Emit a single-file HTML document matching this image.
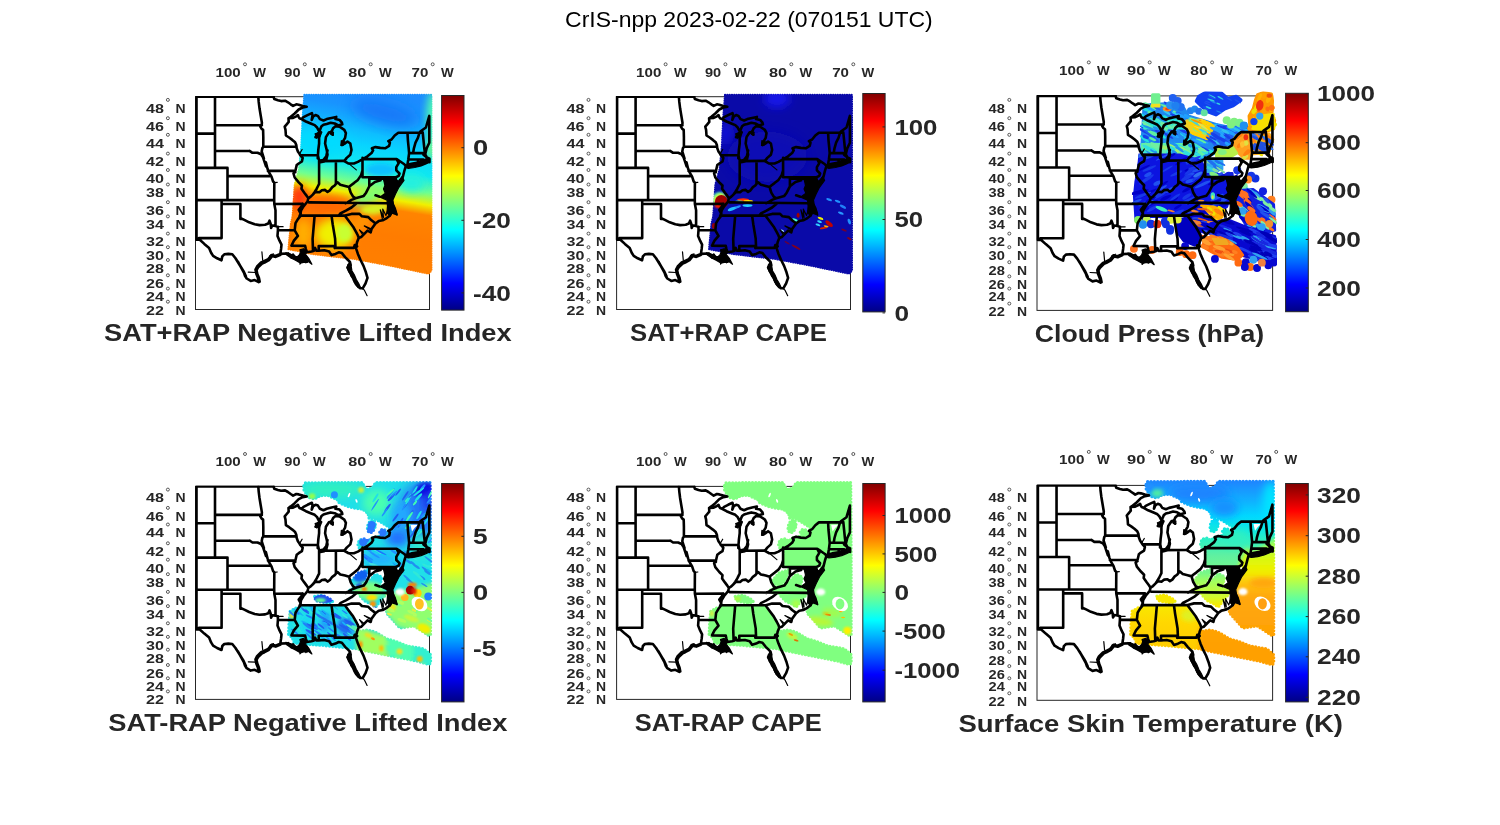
<!DOCTYPE html><html><head><meta charset="utf-8"><title>CrIS-npp</title><style>html,body{margin:0;padding:0;background:#fff}svg{display:block;opacity:0.999}text{font-family:'Liberation Sans',sans-serif}</style></head><body>
<svg width="1500" height="825" viewBox="0 0 1500 825">
<defs>
<linearGradient id="jet" x1="0" y1="0" x2="0" y2="1"><stop offset="0" stop-color="#800000"/><stop offset="0.125" stop-color="#ff0000"/><stop offset="0.375" stop-color="#ffff00"/><stop offset="0.625" stop-color="#00ffff"/><stop offset="0.875" stop-color="#0000ff"/><stop offset="1" stop-color="#000084"/></linearGradient>
<filter id="b1" x="-30%" y="-30%" width="160%" height="160%"><feGaussianBlur stdDeviation="1"/></filter>
<filter id="b2" x="-30%" y="-30%" width="160%" height="160%"><feGaussianBlur stdDeviation="2.2"/></filter>
<filter id="b4" x="-40%" y="-40%" width="180%" height="180%"><feGaussianBlur stdDeviation="4"/></filter>
<filter id="b7" x="-50%" y="-50%" width="200%" height="200%"><feGaussianBlur stdDeviation="7"/></filter>
<clipPath id="mapclip"><rect x="-3" y="-0.9" width="246" height="232"/></clipPath>
<g id="usmap" clip-path="url(#mapclip)"><path d="M208.6 68.7 L212.6 68.3 L219.0 67.1 L226.2 65.5 L231.0 63.5 L233.0 63.1 L233.0 65.5 L229.4 67.1 L224.6 69.1 L218.2 70.7 L211.8 71.5 L209.0 70.7Z M187.0 82.9 L197.3 81.3 L201.6 84.6 L205.8 79.5 L207.5 83.7 L202.4 90.5 L199.0 97.3 L196.4 103.3 L197.3 109.2 L200.7 118.1 L196.0 114.7 L193.9 119.4 L190.5 116.0 L191.0 109.5 L190.5 103.3 L183.7 100.3 L188.8 96.5 L187.0 92.2 L188.4 88.7 L187.8 85.9Z M151.4 167.5 L154.6 169.1 L155.4 173.9 L157.8 177.9 L159.8 182.7 L162.2 186.7 L164.2 191.1 L161.8 190.7 L159.0 187.5 L157.0 183.5 L154.6 179.5 L152.6 175.5 L150.6 171.1Z M103.4 153.1 L107.0 151.9 L109.8 153.5 L110.2 155.5 L109.0 157.5 L112.2 161.5 L115.4 167.5 L111.4 164.5 L109.4 166.1 L107.4 163.5 L103.4 167.3 L104.0 163.1 L100.2 160.7 L103.0 157.9 L104.0 155.1Z M89.4 155.9 L95.8 157.9 L101.4 160.7 L107.0 161.5 L111.0 160.7 L111.0 165.5 L107.0 165.5 L103.8 166.3 L99.0 163.5 L95.0 161.5 L90.2 158.3Z M144.8 43.9 L148.2 45.1 L147.0 48.3 L144.4 48.7Z M134.2 34.3 L137.0 35.5 L136.6 38.7 L134.2 37.5Z M118.6 37.1 L123.0 35.5 L123.8 39.1 L120.2 41.5Z" fill="#000" stroke="#000" stroke-width="1.2" stroke-linejoin="round"/><path d="M0.0 0.0 L0.0 143.0 M0.0 0.0 L77.2 0.0 M18.5 0.0 L18.5 71.1 M0.0 36.8 L18.5 36.8 M18.5 28.4 L65.4 28.4 M0.0 71.1 L31.0 71.1 L31.0 103.3 M31.0 79.3 L73.3 79.3 M0.0 103.3 L77.6 103.3 M25.1 103.3 L25.1 141.3 M25.1 107.2 L43.9 107.2 L43.9 122.2 M0.0 143.0 L2.9 143.0 L2.5 141.3 L25.1 141.3 M18.5 54.2 L53.3 54.2 L53.0 54.0 L56.0 56.0 L61.0 56.0 L64.5 57.5 L66.5 60.5 L67.5 63.5 L69.5 69.5 L69.4 65.5 L71.0 71.9 L72.2 75.1 L75.0 79.9 L76.6 84.7 L77.8 85.9 L77.7 103.3 L77.8 107.2 L79.0 113.5 L79.0 129.1 M61.8 -0.1 L62.2 5.1 L63.0 11.5 L64.2 18.7 L65.4 25.9 L65.2 28.3 L63.8 29.9 L65.0 31.9 L66.6 33.1 L66.8 40.3 L66.8 49.9 L65.8 51.5 L65.2 54.7 L66.2 57.9 L67.4 61.5 M66.8 49.9 L99.8 49.9 M71.4 74.1 L97.4 74.1 L98.8 75.3 M77.0 -0.1 L77.8 2.3 L81.4 3.5 L84.6 4.3 L88.6 3.9 L91.4 5.5 L94.2 7.5 L96.6 9.1 L99.8 7.5 L102.2 7.9 L106.2 9.1 L110.2 9.9 L106.2 10.7 L102.2 12.7 L98.2 16.7 L94.2 19.9 L92.0 21.5 M92.0 21.5 L92.2 25.1 L90.2 27.5 L88.2 29.9 L89.0 33.1 L89.4 38.7 L92.6 40.7 L95.8 43.1 L98.6 45.5 L99.8 48.3 L100.2 51.5 L101.4 54.7 L103.0 57.1 L103.8 58.5 L106.2 61.1 L105.4 64.7 L102.2 66.7 L100.2 68.3 L99.0 73.5 L97.0 76.7 L98.2 80.7 L102.2 85.5 L105.4 88.7 L105.0 91.9 L107.8 95.9 L110.2 99.1 L111.8 101.5 L111.0 104.7 L107.0 109.5 L104.6 113.5 L103.8 117.5 L103.0 119.5 L104.6 118.3 L101.4 122.3 L99.0 126.3 L98.2 133.5 L101.4 139.1 L97.4 143.9 L95.0 148.7 L108.6 149.1 L109.4 152.3 L110.2 155.1 M77.8 107.2 L106.2 107.1 M106.2 107.1 L105.0 109.5 L102.2 113.1 L104.2 116.7 M103.8 58.5 L121.4 58.5 M92.0 21.5 L96.6 21.1 L99.8 19.5 L101.4 18.3 L102.2 20.3 L103.0 21.5 L105.0 22.3 L109.4 24.7 L114.2 26.7 L118.2 28.3 L120.6 30.7 L121.8 33.1 L123.0 34.7 M123.0 34.7 L121.4 37.1 L119.0 40.3 L122.2 38.3 L124.6 35.5 L123.0 39.1 L122.6 41.5 L122.6 46.7 L121.8 53.1 L121.2 61.5 L121.4 58.5 L122.2 62.3 L123.0 63.9 M105.0 22.3 L107.0 20.3 L111.0 18.3 L115.4 16.3 L116.0 18.7 L115.2 23.1 L116.8 19.5 L119.0 18.3 L121.4 19.1 L123.4 22.3 L127.0 23.7 L130.2 22.3 L135.0 21.1 L139.8 20.1 L139.0 22.3 L143.0 23.1 L145.4 25.9 L145.8 27.5 L141.8 28.7 L138.2 26.7 L134.2 25.9 L130.2 27.1 L127.0 27.9 L125.0 29.5 L123.8 32.3 L123.0 34.7 M139.0 29.5 L136.6 31.5 L135.0 35.1 L136.2 37.9 L133.8 35.5 L132.6 35.5 L129.4 40.3 L128.6 46.7 L130.2 53.1 L131.0 57.9 L129.8 62.7 L127.8 64.7 L123.8 65.5 M139.0 29.5 L143.0 29.9 L147.8 33.1 L149.4 36.3 L148.6 41.1 L146.2 45.1 L145.4 48.3 L147.8 47.1 L151.0 44.7 L153.8 46.7 L155.0 53.1 L153.8 57.9 L150.2 61.1 L147.8 64.3 M123.0 63.9 L127.0 63.1 L129.8 59.5 L131.0 53.5 M123.0 64.3 L147.0 64.1 M122.6 63.9 L122.6 87.1 L121.8 88.7 L120.2 91.9 L118.2 95.1 L116.6 97.5 M139.4 64.3 L139.4 86.7 M111.8 101.5 L114.2 99.9 L116.6 97.5 L119.0 95.1 L123.0 95.5 L125.4 93.5 L128.6 93.1 L131.0 95.1 L133.4 93.5 L135.8 90.3 L138.2 88.7 L139.4 87.1 L141.0 85.5 L143.8 87.9 L148.6 89.1 L152.6 90.3 L154.2 88.7 L157.4 86.3 L161.4 83.1 L164.6 78.3 L166.0 73.5 M166.0 61.1 L166.0 80.3 M147.8 64.3 L151.8 66.7 L157.4 66.7 L161.4 65.1 L165.4 62.7 L171.0 59.5 L175.0 56.3 L176.6 53.5 L175.4 51.5 L179.0 50.3 L183.8 51.1 L188.6 51.5 L192.6 49.1 L193.4 45.9 L191.8 44.3 L195.0 42.7 L198.2 38.7 L201.8 35.9 L226.2 35.9 M166.0 62.3 L200.2 62.3 L202.2 66.3 L199.8 70.3 L199.8 73.5 L203.0 76.7 L202.2 79.1 L199.0 80.7 L199.8 83.9 M166.0 80.5 L199.0 80.5 M211.0 35.9 L211.4 43.5 L212.2 51.5 L212.6 56.3 L211.8 62.7 L211.0 67.5 M223.0 35.9 L221.4 41.1 L219.0 45.9 L217.4 51.5 L216.6 56.3 M226.2 35.5 L227.0 43.5 L227.8 51.5 L228.6 57.9 M223.0 35.9 L223.8 34.7 L229.4 30.7 L232.8 19.1 L232.8 45.9 L230.2 51.5 L228.6 57.9 L229.4 58.7 L231.0 62.7 L233.0 64.3 M212.6 56.3 L228.6 56.3 M211.8 62.7 L227.0 62.7 M221.4 62.7 L221.8 66.7 M225.4 62.7 L226.2 66.7 M200.2 62.3 L203.8 64.7 L207.8 67.5 L209.4 69.1 M209.4 69.1 L211.0 67.9 L215.0 66.9 L223.0 65.5 L227.0 64.7 L229.4 63.1 L230.6 61.1 M227.0 57.9 L229.8 60.3 L233.0 61.9 L233.0 65.5 M209.4 69.1 L208.0 73.5 L206.4 79.9 L204.0 84.7 L202.2 87.5 L200.0 83.9 M172.8 82.0 L197.4 82.0 M183.2 99.9 L179.0 98.5 M172.8 80.9 L172.8 89.5 M159.0 101.5 L160.0 101.1 L167.2 99.1 L169.6 95.9 L172.8 89.5 L178.4 85.1 L184.0 83.5 M152.6 90.7 L154.2 95.9 L156.6 99.9 L159.0 101.5 L155.0 103.1 L151.0 105.5 L149.0 106.5 M112.5 105.6 L191.5 106.4 M104.6 118.8 L148.6 118.8 M159.8 106.7 L155.0 110.7 L149.4 113.9 L143.8 116.7 L142.2 118.7 M148.6 118.7 L155.0 117.1 L163.0 117.1 L165.4 119.5 L171.8 120.3 L175.0 123.5 L178.2 125.9 M148.6 119.1 L151.8 123.5 L156.6 129.9 L159.8 135.5 L161.4 138.7 L162.2 141.1 M135.0 118.7 L136.2 127.5 L137.8 137.1 L138.6 141.9 L139.0 151.1 M139.0 151.1 L157.4 151.1 L158.2 148.3 L160.6 149.5 M122.2 153.9 L122.2 149.3 L138.2 149.3 L138.2 151.3 M116.5 153.8 L116.1 142.1 L118.1 118.8 M95.0 148.9 L108.6 149.1 M110.2 155.5 L115.0 154.7 L117.4 153.9 L118.6 151.1 L119.8 153.9 L122.2 153.9 L127.8 153.5 L132.6 154.7 L135.0 158.3 L139.0 157.1 L142.2 155.5 L145.4 156.3 L148.6 160.3 L151.0 162.7 L153.4 165.1 L152.6 168.3 L151.0 170.7 L153.4 175.5 L156.6 179.5 L158.2 185.1 L161.4 189.1 L163.8 191.5 L166.2 191.5 M153.4 165.1 L154.2 168.3 L151.8 169.9 L153.8 172.3 L152.6 174.3 L155.4 176.3 L155.0 178.7 L157.8 181.1 L157.4 183.5 L159.8 185.1 L159.4 187.1 L162.2 190.3 M166.2 191.5 L169.0 186.7 L171.0 181.1 L169.4 175.5 L167.0 169.1 L163.8 162.7 L161.4 157.1 L159.8 152.3 L159.0 148.3 L160.6 149.5 L159.8 149.1 L160.6 145.1 L162.2 141.1 M162.2 141.1 L164.6 140.3 L167.8 137.1 L171.0 133.9 L174.2 135.5 L175.0 132.3 L179.0 126.7 L182.2 124.3 L186.2 123.5 L189.4 121.9 L192.6 119.5 L195.0 115.5 L199.8 117.1 L198.2 111.5 L196.6 108.3 L193.4 105.1 L191.0 106.3 M-0.0 141.5 L3.0 142.7 L7.8 147.1 L12.6 151.1 L14.6 155.9 L16.6 159.1 L20.6 161.5 L25.0 163.5 L25.8 159.5 L27.8 157.5 L31.8 157.1 L35.8 157.5 L39.0 161.5 L43.0 167.9 L47.0 174.3 L49.4 179.5 L41.4 164.9 L44.6 170.5 L47.0 174.5 L48.6 179.3 L50.2 181.7 L54.2 184.1 L58.2 183.3 L62.2 185.3 L61.4 180.9 L59.8 176.9 L59.0 172.9 L60.6 169.7 L64.6 165.7 L67.0 164.7 L71.8 162.3 L75.0 158.3 L79.0 159.1 L83.8 157.1 M63.2 184.9 L62.4 180.9 L60.8 177.1 L60.0 173.3 L61.6 170.5 L65.6 166.7 L68.0 165.7 L72.4 163.3 L75.6 159.3 L79.2 160.1 L84.0 158.0 M44.2 121.5 L47.8 123.1 L52.6 125.5 L58.2 127.5 L63.0 128.3 L68.6 127.9 L71.8 126.7 L73.0 123.9 L74.2 127.1 L74.6 131.1 L75.8 128.7 L79.0 129.1 L81.4 129.9 M81.4 129.9 L81.4 133.5 L81.0 139.1 L83.0 143.9 L85.0 147.9 L84.6 151.9 L83.8 157.1 M81.4 133.5 L98.2 133.5 M83.8 157.1 L91.0 156.7 L95.8 159.1 L99.0 161.5 L103.8 164.7 L108.6 162.3 L111.0 163.1 M91.8 156.7 L95.0 160.7 L96.6 157.9 L99.0 161.9" fill="none" stroke="#000" stroke-width="2.6" stroke-linejoin="round" stroke-linecap="round"/><path d="M77.8 85.9 L80.8 85.5 M103.0 57.1 L105.6 52.7 M150.6 65.3 L159.8 73.1 M166.2 191.5 L167.8 193.3 L170.6 198.9 M186.2 123.5 L183.8 113.1 L187.0 120.7 L186.2 112.3 L189.4 118.7 L191.0 113.9 L192.6 117.1 M198.2 111.5 L200.4 118.3 M175.0 132.3 L167.8 129.1 L173.4 132.7 M167.8 137.1 L163.0 133.1 L166.2 137.9 M59.0 175.7 L51.8 175.3 M65.4 155.1 L66.2 163.5 M73.4 158.7 L77.0 157.1 M81.4 129.9 L86.6 129.9" fill="none" stroke="#000" stroke-width="1.2" stroke-linejoin="round" stroke-linecap="round"/></g>
<clipPath id="swath"><path d="M107.0 -2.8 L235.8 -2.8 L235.8 174.7 L233.0 177.7 L190.2 169.2 L158.2 163.2 L115.5 158.2 L91.0 153.2 L93.5 127.5 L95.2 120.4 L97.4 88.5 L101.6 73.2 L103.8 51.2 L105.4 19.2Z"/></clipPath>
<clipPath id="swath3"><path d="M103.5 -4.3 L237.3 -4.3 L237.3 176.2 L234.5 179.2 L186.7 170.7 L154.7 164.7 L112.0 159.7 L87.5 154.7 L90.0 129.0 L91.7 121.9 L93.9 90.0 L98.1 74.7 L100.3 52.7 L101.9 20.7Z"/></clipPath>
<clipPath id="mask"><path d="M107.5 -0.9 L108.6 -3.6 L166.2 -3.9 L167.3 0.2 L171.5 3.4 L176.9 0.2 L179.0 -3.9 L233.6 -3.9 L234.0 77.5 L234.0 148.4 L232.3 149.0 L225.9 144.7 L217.4 139.4 L211.0 140.4 L203.5 141.5 L199.3 136.7 L189.7 126.0 L197.1 112.2 L197.1 102.6 L200.3 90.8 L205.7 78.0 L200.3 80.2 L168.3 80.2 L168.3 69.5 L168.3 77.5 L167.3 70.6 L168.3 64.2 L167.3 61.0 L163.0 62.0 L161.4 57.8 L163.0 53.5 L168.3 52.4 L171.5 54.6 L175.8 51.4 L189.7 48.4 L193.9 41.8 L189.7 38.8 L183.3 34.8 L177.4 32.0 L172.6 31.6 L171.5 26.8 L166.2 22.6 L157.7 21.5 L151.3 19.9 L142.7 16.2 L140.6 13.0 L131.0 8.7 L123.5 9.2 L118.2 12.4 L111.8 10.8 L107.5 3.4Z M155.5 94.0 L161.9 86.6 L171.5 83.4 L168.3 94.0 L161.9 98.3 L156.6 97.2Z M153.4 103.8 L159.8 100.4 L171.5 96.2 L179.0 87.6 L185.4 90.8 L183.3 99.4 L189.7 101.5 L189.7 107.9 L185.4 112.2 L179.0 120.7 L174.7 117.5 L168.3 114.3 L164.1 110.0 L161.9 106.8 L154.5 105.8Z M118.2 110.0 L125.7 108.8 L133.1 112.2 L136.3 115.4 L131.0 116.6 L119.3 114.3Z M93.7 125.0 L99.0 121.8 L107.5 119.6 L147.0 119.6 L152.3 126.0 L159.8 138.8 L160.9 144.2 L163.0 144.7 L171.5 143.6 L179.0 145.8 L189.7 152.2 L200.3 155.4 L211.0 159.6 L227.0 162.3 L234.0 168.2 L234.0 176.7 L232.3 178.0 L221.7 174.8 L211.0 172.6 L200.3 170.5 L189.7 168.4 L179.0 166.2 L168.3 164.1 L159.8 162.0 L147.0 160.9 L136.3 159.8 L125.7 158.8 L109.7 157.7 L97.9 156.6 L95.8 151.1 L92.1 147.9 L92.6 136.2 L93.7 125.5Z M178.4 40.7 L177.3 43.4 L175.7 45.4 L174.0 46.2 L172.5 45.8 L171.4 44.2 L171.0 41.7 L171.4 38.9 L172.5 36.2 L174.1 34.2 L175.8 33.4 L177.3 33.8 L178.4 35.4 L178.8 37.9Z M189.6 45.9 L189.3 47.2 L188.4 48.2 L187.1 48.8 L185.7 48.8 L184.4 48.2 L183.5 47.2 L183.2 45.9 L183.5 44.6 L184.4 43.6 L185.7 43.0 L187.1 43.0 L188.4 43.6 L189.3 44.6Z"/></clipPath>
<mask id="maskm" maskUnits="userSpaceOnUse" x="80" y="-12" width="170" height="205"><path d="M107.5 -0.9 L108.6 -3.6 L166.2 -3.9 L167.3 0.2 L171.5 3.4 L176.9 0.2 L179.0 -3.9 L233.6 -3.9 L234.0 77.5 L234.0 148.4 L232.3 149.0 L225.9 144.7 L217.4 139.4 L211.0 140.4 L203.5 141.5 L199.3 136.7 L189.7 126.0 L197.1 112.2 L197.1 102.6 L200.3 90.8 L205.7 78.0 L200.3 80.2 L168.3 80.2 L168.3 69.5 L168.3 77.5 L167.3 70.6 L168.3 64.2 L167.3 61.0 L163.0 62.0 L161.4 57.8 L163.0 53.5 L168.3 52.4 L171.5 54.6 L175.8 51.4 L189.7 48.4 L193.9 41.8 L189.7 38.8 L183.3 34.8 L177.4 32.0 L172.6 31.6 L171.5 26.8 L166.2 22.6 L157.7 21.5 L151.3 19.9 L142.7 16.2 L140.6 13.0 L131.0 8.7 L123.5 9.2 L118.2 12.4 L111.8 10.8 L107.5 3.4Z M155.5 94.0 L161.9 86.6 L171.5 83.4 L168.3 94.0 L161.9 98.3 L156.6 97.2Z M153.4 103.8 L159.8 100.4 L171.5 96.2 L179.0 87.6 L185.4 90.8 L183.3 99.4 L189.7 101.5 L189.7 107.9 L185.4 112.2 L179.0 120.7 L174.7 117.5 L168.3 114.3 L164.1 110.0 L161.9 106.8 L154.5 105.8Z M118.2 110.0 L125.7 108.8 L133.1 112.2 L136.3 115.4 L131.0 116.6 L119.3 114.3Z M93.7 125.0 L99.0 121.8 L107.5 119.6 L147.0 119.6 L152.3 126.0 L159.8 138.8 L160.9 144.2 L163.0 144.7 L171.5 143.6 L179.0 145.8 L189.7 152.2 L200.3 155.4 L211.0 159.6 L227.0 162.3 L234.0 168.2 L234.0 176.7 L232.3 178.0 L221.7 174.8 L211.0 172.6 L200.3 170.5 L189.7 168.4 L179.0 166.2 L168.3 164.1 L159.8 162.0 L147.0 160.9 L136.3 159.8 L125.7 158.8 L109.7 157.7 L97.9 156.6 L95.8 151.1 L92.1 147.9 L92.6 136.2 L93.7 125.5Z M178.4 40.7 L177.3 43.4 L175.7 45.4 L174.0 46.2 L172.5 45.8 L171.4 44.2 L171.0 41.7 L171.4 38.9 L172.5 36.2 L174.1 34.2 L175.8 33.4 L177.3 33.8 L178.4 35.4 L178.8 37.9Z M189.6 45.9 L189.3 47.2 L188.4 48.2 L187.1 48.8 L185.7 48.8 L184.4 48.2 L183.5 47.2 L183.2 45.9 L183.5 44.6 L184.4 43.6 L185.7 43.0 L187.1 43.0 L188.4 43.6 L189.3 44.6Z" fill="#fff" stroke="#fff" stroke-width="3.4" stroke-dasharray="0 3.3" stroke-linecap="round" stroke-linejoin="round"/></mask>
<mask id="swathm" maskUnits="userSpaceOnUse" x="80" y="-12" width="170" height="205"><path d="M108.0 -1.8 L234.8 -1.8 L234.8 173.7 L232.0 176.7 L191.2 168.2 L159.2 162.2 L116.5 157.2 L92.0 152.2 L94.5 126.5 L96.2 119.4 L98.4 87.5 L102.6 72.2 L104.8 50.2 L106.4 18.2Z" fill="#fff" stroke="#fff" stroke-width="2.4" stroke-dasharray="0 2.3" stroke-linecap="round"/></mask>
<linearGradient id="g1" gradientUnits="userSpaceOnUse" x1="170" y1="-3" x2="141.2" y2="177"><stop offset="0" stop-color="#1c8cff"/><stop offset="0.08" stop-color="#1894ff"/><stop offset="0.18" stop-color="#10b4ff"/><stop offset="0.28" stop-color="#08d4ff"/><stop offset="0.394" stop-color="#10e8f0"/><stop offset="0.483" stop-color="#70ff90"/><stop offset="0.55" stop-color="#f0f000"/><stop offset="0.606" stop-color="#ff8400"/><stop offset="0.75" stop-color="#ff7c00"/><stop offset="1" stop-color="#ff8000"/></linearGradient>
<linearGradient id="g6" gradientUnits="userSpaceOnUse" x1="0" y1="-3" x2="0" y2="177"><stop offset="0" stop-color="#1e88ff"/><stop offset="0.1" stop-color="#10b0ff"/><stop offset="0.185" stop-color="#00d8ff"/><stop offset="0.265" stop-color="#10e8e0"/><stop offset="0.32" stop-color="#30f0c0"/><stop offset="0.405" stop-color="#60f0a0"/><stop offset="0.5" stop-color="#78f888"/><stop offset="0.545" stop-color="#a0ff60"/><stop offset="0.63" stop-color="#d0f830"/><stop offset="0.68" stop-color="#f8e800"/><stop offset="0.77" stop-color="#ffd800"/><stop offset="0.86" stop-color="#ffd000"/><stop offset="1" stop-color="#ffc400"/></linearGradient>
<linearGradient id="g6o" gradientUnits="userSpaceOnUse" x1="0" y1="60" x2="0" y2="160"><stop offset="0" stop-color="#a0ff50"/><stop offset="0.12" stop-color="#d8f810"/><stop offset="0.25" stop-color="#f0f000"/><stop offset="0.38" stop-color="#ffc010"/><stop offset="0.5" stop-color="#ffa810"/><stop offset="1" stop-color="#ffa000"/></linearGradient>
</defs>
<rect width="1500" height="825" fill="#fff"/>
<text x="565.10" y="26.70" textLength="367.60" lengthAdjust="spacingAndGlyphs" font-size="21.50" font-weight="normal" fill="#000">CrIS-npp 2023-02-22 (070151 UTC)</text>
<rect x="195.50" y="96.70" width="234.00" height="212.80" fill="#fff" stroke="#262626" stroke-width="1"/>
<g transform="translate(196.50,96.80) scale(1.0000)">
<g mask="url(#swathm)">
<rect x="85" y="-6" width="156" height="190" fill="url(#g1)"/>
<ellipse cx="188.0" cy="16.0" rx="34.0" ry="11.0" fill="#1478f8" transform="rotate(15 188.0 16.0)" filter="url(#b7)"/>
<ellipse cx="125.0" cy="45.0" rx="25.0" ry="14.0" fill="#00dcff" filter="url(#b7)"/>
<ellipse cx="237.0" cy="20.0" rx="7.0" ry="26.0" fill="#50ffb0" filter="url(#b4)"/>
<ellipse cx="236.0" cy="52.0" rx="6.0" ry="12.0" fill="#78ff88" filter="url(#b4)"/>
<ellipse cx="215.0" cy="86.0" rx="13.0" ry="9.0" fill="#20f0e0" filter="url(#b4)"/>
<ellipse cx="184.0" cy="73.0" rx="15.0" ry="6.5" fill="#08c0ff" filter="url(#b2)"/>
<ellipse cx="172.0" cy="100.0" rx="18.0" ry="6.5" fill="#70ff80" transform="rotate(-22 172.0 100.0)" filter="url(#b4)"/>
<ellipse cx="178.0" cy="112.0" rx="14.0" ry="5.5" fill="#d8f020" transform="rotate(-8 178.0 112.0)" filter="url(#b2)"/>
<ellipse cx="103.0" cy="101.0" rx="8.0" ry="13.0" fill="#ff3808" filter="url(#b4)"/>
<ellipse cx="131.0" cy="109.0" rx="24.0" ry="9.0" fill="#ff6800" filter="url(#b4)"/>
<ellipse cx="107.0" cy="137.0" rx="8.0" ry="15.0" fill="#ffb000" filter="url(#b4)"/>
<ellipse cx="138.0" cy="137.0" rx="19.0" ry="15.0" fill="#f0f000" filter="url(#b4)"/>
<ellipse cx="148.0" cy="136.0" rx="8.0" ry="9.0" fill="#c8ff30" filter="url(#b2)"/>
<ellipse cx="165.0" cy="126.0" rx="10.0" ry="6.0" fill="#ff9000" transform="rotate(-35 165.0 126.0)" filter="url(#b2)"/>
</g>
<use href="#usmap"/>
</g>
<text x="215.50" y="76.60" textLength="25.20" lengthAdjust="spacingAndGlyphs" font-size="12.60" font-weight="bold" fill="#262626">100</text>
<circle cx="245.00" cy="64.30" r="1.5" fill="none" stroke="#262626" stroke-width="0.75"/>
<text x="253.30" y="76.60" textLength="12.70" lengthAdjust="spacingAndGlyphs" font-size="12.60" font-weight="bold" fill="#262626">W</text>
<text x="284.30" y="76.60" textLength="16.20" lengthAdjust="spacingAndGlyphs" font-size="12.60" font-weight="bold" fill="#262626">90</text>
<circle cx="304.80" cy="64.30" r="1.5" fill="none" stroke="#262626" stroke-width="0.75"/>
<text x="313.10" y="76.60" textLength="12.70" lengthAdjust="spacingAndGlyphs" font-size="12.60" font-weight="bold" fill="#262626">W</text>
<text x="348.30" y="76.60" textLength="18.10" lengthAdjust="spacingAndGlyphs" font-size="12.60" font-weight="bold" fill="#262626">80</text>
<circle cx="370.70" cy="64.30" r="1.5" fill="none" stroke="#262626" stroke-width="0.75"/>
<text x="379.00" y="76.60" textLength="12.70" lengthAdjust="spacingAndGlyphs" font-size="12.60" font-weight="bold" fill="#262626">W</text>
<text x="411.60" y="76.60" textLength="16.80" lengthAdjust="spacingAndGlyphs" font-size="12.60" font-weight="bold" fill="#262626">70</text>
<circle cx="432.70" cy="64.30" r="1.5" fill="none" stroke="#262626" stroke-width="0.75"/>
<text x="441.00" y="76.60" textLength="12.70" lengthAdjust="spacingAndGlyphs" font-size="12.60" font-weight="bold" fill="#262626">W</text>
<text x="146.00" y="112.70" textLength="17.90" lengthAdjust="spacingAndGlyphs" font-size="12.60" font-weight="bold" fill="#262626">48</text>
<circle cx="167.90" cy="99.90" r="1.5" fill="none" stroke="#262626" stroke-width="0.75"/>
<text x="175.50" y="112.70" textLength="10.10" lengthAdjust="spacingAndGlyphs" font-size="12.60" font-weight="bold" fill="#262626">N</text>
<text x="146.00" y="131.00" textLength="17.90" lengthAdjust="spacingAndGlyphs" font-size="12.60" font-weight="bold" fill="#262626">46</text>
<circle cx="167.90" cy="118.20" r="1.5" fill="none" stroke="#262626" stroke-width="0.75"/>
<text x="175.50" y="131.00" textLength="10.10" lengthAdjust="spacingAndGlyphs" font-size="12.60" font-weight="bold" fill="#262626">N</text>
<text x="146.00" y="147.60" textLength="17.90" lengthAdjust="spacingAndGlyphs" font-size="12.60" font-weight="bold" fill="#262626">44</text>
<circle cx="167.90" cy="134.80" r="1.5" fill="none" stroke="#262626" stroke-width="0.75"/>
<text x="175.50" y="147.60" textLength="10.10" lengthAdjust="spacingAndGlyphs" font-size="12.60" font-weight="bold" fill="#262626">N</text>
<text x="146.00" y="166.40" textLength="17.90" lengthAdjust="spacingAndGlyphs" font-size="12.60" font-weight="bold" fill="#262626">42</text>
<circle cx="167.90" cy="153.60" r="1.5" fill="none" stroke="#262626" stroke-width="0.75"/>
<text x="175.50" y="166.40" textLength="10.10" lengthAdjust="spacingAndGlyphs" font-size="12.60" font-weight="bold" fill="#262626">N</text>
<text x="146.00" y="182.80" textLength="17.90" lengthAdjust="spacingAndGlyphs" font-size="12.60" font-weight="bold" fill="#262626">40</text>
<circle cx="167.90" cy="170.00" r="1.5" fill="none" stroke="#262626" stroke-width="0.75"/>
<text x="175.50" y="182.80" textLength="10.10" lengthAdjust="spacingAndGlyphs" font-size="12.60" font-weight="bold" fill="#262626">N</text>
<text x="146.00" y="197.30" textLength="17.90" lengthAdjust="spacingAndGlyphs" font-size="12.60" font-weight="bold" fill="#262626">38</text>
<circle cx="167.90" cy="184.50" r="1.5" fill="none" stroke="#262626" stroke-width="0.75"/>
<text x="175.50" y="197.30" textLength="10.10" lengthAdjust="spacingAndGlyphs" font-size="12.60" font-weight="bold" fill="#262626">N</text>
<text x="146.00" y="215.00" textLength="17.90" lengthAdjust="spacingAndGlyphs" font-size="12.60" font-weight="bold" fill="#262626">36</text>
<circle cx="167.90" cy="202.20" r="1.5" fill="none" stroke="#262626" stroke-width="0.75"/>
<text x="175.50" y="215.00" textLength="10.10" lengthAdjust="spacingAndGlyphs" font-size="12.60" font-weight="bold" fill="#262626">N</text>
<text x="146.00" y="229.20" textLength="17.90" lengthAdjust="spacingAndGlyphs" font-size="12.60" font-weight="bold" fill="#262626">34</text>
<circle cx="167.90" cy="216.40" r="1.5" fill="none" stroke="#262626" stroke-width="0.75"/>
<text x="175.50" y="229.20" textLength="10.10" lengthAdjust="spacingAndGlyphs" font-size="12.60" font-weight="bold" fill="#262626">N</text>
<text x="146.00" y="246.40" textLength="17.90" lengthAdjust="spacingAndGlyphs" font-size="12.60" font-weight="bold" fill="#262626">32</text>
<circle cx="167.90" cy="233.60" r="1.5" fill="none" stroke="#262626" stroke-width="0.75"/>
<text x="175.50" y="246.40" textLength="10.10" lengthAdjust="spacingAndGlyphs" font-size="12.60" font-weight="bold" fill="#262626">N</text>
<text x="146.00" y="260.00" textLength="17.90" lengthAdjust="spacingAndGlyphs" font-size="12.60" font-weight="bold" fill="#262626">30</text>
<circle cx="167.90" cy="247.20" r="1.5" fill="none" stroke="#262626" stroke-width="0.75"/>
<text x="175.50" y="260.00" textLength="10.10" lengthAdjust="spacingAndGlyphs" font-size="12.60" font-weight="bold" fill="#262626">N</text>
<text x="146.00" y="272.80" textLength="17.90" lengthAdjust="spacingAndGlyphs" font-size="12.60" font-weight="bold" fill="#262626">28</text>
<circle cx="167.90" cy="260.00" r="1.5" fill="none" stroke="#262626" stroke-width="0.75"/>
<text x="175.50" y="272.80" textLength="10.10" lengthAdjust="spacingAndGlyphs" font-size="12.60" font-weight="bold" fill="#262626">N</text>
<text x="146.00" y="288.10" textLength="17.90" lengthAdjust="spacingAndGlyphs" font-size="12.60" font-weight="bold" fill="#262626">26</text>
<circle cx="167.90" cy="275.30" r="1.5" fill="none" stroke="#262626" stroke-width="0.75"/>
<text x="175.50" y="288.10" textLength="10.10" lengthAdjust="spacingAndGlyphs" font-size="12.60" font-weight="bold" fill="#262626">N</text>
<text x="146.00" y="301.40" textLength="17.90" lengthAdjust="spacingAndGlyphs" font-size="12.60" font-weight="bold" fill="#262626">24</text>
<circle cx="167.90" cy="288.60" r="1.5" fill="none" stroke="#262626" stroke-width="0.75"/>
<text x="175.50" y="301.40" textLength="10.10" lengthAdjust="spacingAndGlyphs" font-size="12.60" font-weight="bold" fill="#262626">N</text>
<text x="146.00" y="314.50" textLength="17.90" lengthAdjust="spacingAndGlyphs" font-size="12.60" font-weight="bold" fill="#262626">22</text>
<circle cx="167.90" cy="301.70" r="1.5" fill="none" stroke="#262626" stroke-width="0.75"/>
<text x="175.50" y="314.50" textLength="10.10" lengthAdjust="spacingAndGlyphs" font-size="12.60" font-weight="bold" fill="#262626">N</text>
<rect x="441.60" y="95.50" width="22.40" height="214.60" fill="url(#jet)" stroke="#262626" stroke-width="1"/>
<path d="M464.00 147.70 h-2.6" stroke="#262626" stroke-width="1" fill="none"/>
<text x="473.00" y="155.30" textLength="15.20" lengthAdjust="spacingAndGlyphs" font-size="22.90" font-weight="bold" fill="#262626">0</text>
<path d="M464.00 220.30 h-2.6" stroke="#262626" stroke-width="1" fill="none"/>
<text x="473.00" y="227.90" textLength="37.90" lengthAdjust="spacingAndGlyphs" font-size="22.90" font-weight="bold" fill="#262626">-20</text>
<path d="M464.00 292.90 h-2.6" stroke="#262626" stroke-width="1" fill="none"/>
<text x="473.00" y="300.50" textLength="37.90" lengthAdjust="spacingAndGlyphs" font-size="22.90" font-weight="bold" fill="#262626">-40</text>
<text x="104.00" y="341.20" textLength="407.70" lengthAdjust="spacingAndGlyphs" font-size="24.20" font-weight="bold" fill="#262626">SAT+RAP Negative Lifted Index</text>
<rect x="616.60" y="96.70" width="233.90" height="212.80" fill="#fff" stroke="#262626" stroke-width="1"/>
<g transform="translate(617.10,96.80) scale(1.0000)">
<g mask="url(#swathm)">
<rect x="85" y="-6" width="156" height="190" fill="#0a0aa8"/>
<ellipse cx="159.7" cy="2.0" rx="13.0" ry="9.0" fill="#1818e8" filter="url(#b4)"/>
<ellipse cx="109.0" cy="37.0" rx="5.0" ry="11.0" fill="#1616e0" filter="url(#b4)"/>
<ellipse cx="150.0" cy="60.0" rx="40.0" ry="25.0" fill="#0c0cb4" filter="url(#b7)"/>
<ellipse cx="101.5" cy="101.5" rx="7.0" ry="6.0" fill="#40e0d0" transform="rotate(-35 101.5 101.5)" filter="url(#b1)"/>
<ellipse cx="102.3" cy="102.3" rx="6.6" ry="5.6" fill="#c8ff40" transform="rotate(-35 102.3 102.3)" filter="url(#b1)"/>
<ellipse cx="104.2" cy="105.1" rx="6.5" ry="7.0" fill="#a00000"/>
<ellipse cx="100.5" cy="109.0" rx="3.0" ry="2.0" fill="#ff2000" filter="url(#b1)"/>
<ellipse cx="126.0" cy="103.0" rx="6.0" ry="1.5" fill="#ff3000"/>
<ellipse cx="131.0" cy="104.5" rx="5.0" ry="1.2" fill="#ffe000"/>
<ellipse cx="122.0" cy="104.8" rx="4.0" ry="1.1" fill="#40ffc0"/>
<ellipse cx="130.4" cy="108.8" rx="5.0" ry="1.3" fill="#20d0ff"/>
<ellipse cx="115.4" cy="112.0" rx="5.0" ry="1.6" fill="#20c0ff" transform="rotate(-20 115.4 112.0)"/>
<ellipse cx="121.0" cy="110.0" rx="3.0" ry="1.2" fill="#2090ff" transform="rotate(-20 121.0 110.0)"/>
<ellipse cx="177.8" cy="123.2" rx="3.0" ry="1.3" fill="#40ffd0" transform="rotate(20 177.8 123.2)"/>
<ellipse cx="181.0" cy="118.4" rx="1.5" ry="2.5" fill="#a00000"/>
<ellipse cx="165.0" cy="133.9" rx="2.0" ry="1.0" fill="#a0e0ff" transform="rotate(20 165.0 133.9)"/>
<ellipse cx="212.0" cy="102.9" rx="3.0" ry="1.2" fill="#2090ff" transform="rotate(20 212.0 102.9)"/>
<ellipse cx="220.5" cy="104.5" rx="3.0" ry="1.2" fill="#2090ff" transform="rotate(20 220.5 104.5)"/>
<ellipse cx="225.8" cy="109.9" rx="3.5" ry="1.3" fill="#2080f8" transform="rotate(30 225.8 109.9)"/>
<ellipse cx="223.7" cy="116.3" rx="3.0" ry="1.2" fill="#2898ff" transform="rotate(20 223.7 116.3)"/>
<ellipse cx="232.2" cy="124.8" rx="1.5" ry="3.0" fill="#2090ff" transform="rotate(-20 232.2 124.8)"/>
<ellipse cx="203.4" cy="121.6" rx="3.0" ry="1.2" fill="#f0f000" transform="rotate(20 203.4 121.6)"/>
<ellipse cx="202.4" cy="124.8" rx="2.5" ry="1.1" fill="#30d0ff" transform="rotate(20 202.4 124.8)"/>
<ellipse cx="200.8" cy="128.0" rx="2.5" ry="1.1" fill="#30d0ff" transform="rotate(20 200.8 128.0)"/>
<ellipse cx="212.0" cy="126.9" rx="4.5" ry="2.0" fill="#c00000" transform="rotate(40 212.0 126.9)"/>
<ellipse cx="206.6" cy="131.2" rx="4.0" ry="1.0" fill="#d02000" transform="rotate(-10 206.6 131.2)"/>
<ellipse cx="209.0" cy="129.5" rx="2.5" ry="0.9" fill="#ffb000" transform="rotate(10 209.0 129.5)"/>
<ellipse cx="226.9" cy="133.3" rx="3.0" ry="1.0" fill="#700030" transform="rotate(20 226.9 133.3)"/>
<ellipse cx="232.2" cy="141.9" rx="2.5" ry="1.0" fill="#800020" transform="rotate(30 232.2 141.9)"/>
<ellipse cx="178.9" cy="150.4" rx="5.0" ry="1.0" fill="#800020" transform="rotate(30 178.9 150.4)"/>
<ellipse cx="170.0" cy="146.0" rx="3.0" ry="0.8" fill="#600040" transform="rotate(30 170.0 146.0)"/>
<ellipse cx="96.8" cy="129.1" rx="2.0" ry="3.0" fill="#900010"/>
</g>
<use href="#usmap"/>
</g>
<text x="636.10" y="76.60" textLength="25.20" lengthAdjust="spacingAndGlyphs" font-size="12.60" font-weight="bold" fill="#262626">100</text>
<circle cx="665.60" cy="64.30" r="1.5" fill="none" stroke="#262626" stroke-width="0.75"/>
<text x="673.90" y="76.60" textLength="12.70" lengthAdjust="spacingAndGlyphs" font-size="12.60" font-weight="bold" fill="#262626">W</text>
<text x="704.90" y="76.60" textLength="16.20" lengthAdjust="spacingAndGlyphs" font-size="12.60" font-weight="bold" fill="#262626">90</text>
<circle cx="725.40" cy="64.30" r="1.5" fill="none" stroke="#262626" stroke-width="0.75"/>
<text x="733.70" y="76.60" textLength="12.70" lengthAdjust="spacingAndGlyphs" font-size="12.60" font-weight="bold" fill="#262626">W</text>
<text x="768.90" y="76.60" textLength="18.10" lengthAdjust="spacingAndGlyphs" font-size="12.60" font-weight="bold" fill="#262626">80</text>
<circle cx="791.30" cy="64.30" r="1.5" fill="none" stroke="#262626" stroke-width="0.75"/>
<text x="799.60" y="76.60" textLength="12.70" lengthAdjust="spacingAndGlyphs" font-size="12.60" font-weight="bold" fill="#262626">W</text>
<text x="832.20" y="76.60" textLength="16.80" lengthAdjust="spacingAndGlyphs" font-size="12.60" font-weight="bold" fill="#262626">70</text>
<circle cx="853.30" cy="64.30" r="1.5" fill="none" stroke="#262626" stroke-width="0.75"/>
<text x="861.60" y="76.60" textLength="12.70" lengthAdjust="spacingAndGlyphs" font-size="12.60" font-weight="bold" fill="#262626">W</text>
<text x="566.60" y="112.70" textLength="17.90" lengthAdjust="spacingAndGlyphs" font-size="12.60" font-weight="bold" fill="#262626">48</text>
<circle cx="588.50" cy="99.90" r="1.5" fill="none" stroke="#262626" stroke-width="0.75"/>
<text x="596.10" y="112.70" textLength="10.10" lengthAdjust="spacingAndGlyphs" font-size="12.60" font-weight="bold" fill="#262626">N</text>
<text x="566.60" y="131.00" textLength="17.90" lengthAdjust="spacingAndGlyphs" font-size="12.60" font-weight="bold" fill="#262626">46</text>
<circle cx="588.50" cy="118.20" r="1.5" fill="none" stroke="#262626" stroke-width="0.75"/>
<text x="596.10" y="131.00" textLength="10.10" lengthAdjust="spacingAndGlyphs" font-size="12.60" font-weight="bold" fill="#262626">N</text>
<text x="566.60" y="147.60" textLength="17.90" lengthAdjust="spacingAndGlyphs" font-size="12.60" font-weight="bold" fill="#262626">44</text>
<circle cx="588.50" cy="134.80" r="1.5" fill="none" stroke="#262626" stroke-width="0.75"/>
<text x="596.10" y="147.60" textLength="10.10" lengthAdjust="spacingAndGlyphs" font-size="12.60" font-weight="bold" fill="#262626">N</text>
<text x="566.60" y="166.40" textLength="17.90" lengthAdjust="spacingAndGlyphs" font-size="12.60" font-weight="bold" fill="#262626">42</text>
<circle cx="588.50" cy="153.60" r="1.5" fill="none" stroke="#262626" stroke-width="0.75"/>
<text x="596.10" y="166.40" textLength="10.10" lengthAdjust="spacingAndGlyphs" font-size="12.60" font-weight="bold" fill="#262626">N</text>
<text x="566.60" y="182.80" textLength="17.90" lengthAdjust="spacingAndGlyphs" font-size="12.60" font-weight="bold" fill="#262626">40</text>
<circle cx="588.50" cy="170.00" r="1.5" fill="none" stroke="#262626" stroke-width="0.75"/>
<text x="596.10" y="182.80" textLength="10.10" lengthAdjust="spacingAndGlyphs" font-size="12.60" font-weight="bold" fill="#262626">N</text>
<text x="566.60" y="197.30" textLength="17.90" lengthAdjust="spacingAndGlyphs" font-size="12.60" font-weight="bold" fill="#262626">38</text>
<circle cx="588.50" cy="184.50" r="1.5" fill="none" stroke="#262626" stroke-width="0.75"/>
<text x="596.10" y="197.30" textLength="10.10" lengthAdjust="spacingAndGlyphs" font-size="12.60" font-weight="bold" fill="#262626">N</text>
<text x="566.60" y="215.00" textLength="17.90" lengthAdjust="spacingAndGlyphs" font-size="12.60" font-weight="bold" fill="#262626">36</text>
<circle cx="588.50" cy="202.20" r="1.5" fill="none" stroke="#262626" stroke-width="0.75"/>
<text x="596.10" y="215.00" textLength="10.10" lengthAdjust="spacingAndGlyphs" font-size="12.60" font-weight="bold" fill="#262626">N</text>
<text x="566.60" y="229.20" textLength="17.90" lengthAdjust="spacingAndGlyphs" font-size="12.60" font-weight="bold" fill="#262626">34</text>
<circle cx="588.50" cy="216.40" r="1.5" fill="none" stroke="#262626" stroke-width="0.75"/>
<text x="596.10" y="229.20" textLength="10.10" lengthAdjust="spacingAndGlyphs" font-size="12.60" font-weight="bold" fill="#262626">N</text>
<text x="566.60" y="246.40" textLength="17.90" lengthAdjust="spacingAndGlyphs" font-size="12.60" font-weight="bold" fill="#262626">32</text>
<circle cx="588.50" cy="233.60" r="1.5" fill="none" stroke="#262626" stroke-width="0.75"/>
<text x="596.10" y="246.40" textLength="10.10" lengthAdjust="spacingAndGlyphs" font-size="12.60" font-weight="bold" fill="#262626">N</text>
<text x="566.60" y="260.00" textLength="17.90" lengthAdjust="spacingAndGlyphs" font-size="12.60" font-weight="bold" fill="#262626">30</text>
<circle cx="588.50" cy="247.20" r="1.5" fill="none" stroke="#262626" stroke-width="0.75"/>
<text x="596.10" y="260.00" textLength="10.10" lengthAdjust="spacingAndGlyphs" font-size="12.60" font-weight="bold" fill="#262626">N</text>
<text x="566.60" y="272.80" textLength="17.90" lengthAdjust="spacingAndGlyphs" font-size="12.60" font-weight="bold" fill="#262626">28</text>
<circle cx="588.50" cy="260.00" r="1.5" fill="none" stroke="#262626" stroke-width="0.75"/>
<text x="596.10" y="272.80" textLength="10.10" lengthAdjust="spacingAndGlyphs" font-size="12.60" font-weight="bold" fill="#262626">N</text>
<text x="566.60" y="288.10" textLength="17.90" lengthAdjust="spacingAndGlyphs" font-size="12.60" font-weight="bold" fill="#262626">26</text>
<circle cx="588.50" cy="275.30" r="1.5" fill="none" stroke="#262626" stroke-width="0.75"/>
<text x="596.10" y="288.10" textLength="10.10" lengthAdjust="spacingAndGlyphs" font-size="12.60" font-weight="bold" fill="#262626">N</text>
<text x="566.60" y="301.40" textLength="17.90" lengthAdjust="spacingAndGlyphs" font-size="12.60" font-weight="bold" fill="#262626">24</text>
<circle cx="588.50" cy="288.60" r="1.5" fill="none" stroke="#262626" stroke-width="0.75"/>
<text x="596.10" y="301.40" textLength="10.10" lengthAdjust="spacingAndGlyphs" font-size="12.60" font-weight="bold" fill="#262626">N</text>
<text x="566.60" y="314.50" textLength="17.90" lengthAdjust="spacingAndGlyphs" font-size="12.60" font-weight="bold" fill="#262626">22</text>
<circle cx="588.50" cy="301.70" r="1.5" fill="none" stroke="#262626" stroke-width="0.75"/>
<text x="596.10" y="314.50" textLength="10.10" lengthAdjust="spacingAndGlyphs" font-size="12.60" font-weight="bold" fill="#262626">N</text>
<rect x="862.80" y="93.50" width="22.30" height="218.40" fill="url(#jet)" stroke="#262626" stroke-width="1"/>
<path d="M885.10 126.90 h-2.6" stroke="#262626" stroke-width="1" fill="none"/>
<text x="894.40" y="134.50" textLength="43.10" lengthAdjust="spacingAndGlyphs" font-size="22.90" font-weight="bold" fill="#262626">100</text>
<path d="M885.10 219.50 h-2.6" stroke="#262626" stroke-width="1" fill="none"/>
<text x="894.40" y="227.10" textLength="28.60" lengthAdjust="spacingAndGlyphs" font-size="22.90" font-weight="bold" fill="#262626">50</text>
<path d="M885.10 312.90 h-2.6" stroke="#262626" stroke-width="1" fill="none"/>
<text x="894.40" y="320.50" textLength="14.60" lengthAdjust="spacingAndGlyphs" font-size="22.90" font-weight="bold" fill="#262626">0</text>
<text x="630.00" y="341.20" textLength="196.90" lengthAdjust="spacingAndGlyphs" font-size="24.20" font-weight="bold" fill="#262626">SAT+RAP CAPE</text>
<rect x="1037.00" y="95.90" width="235.60" height="214.50" fill="#fff" stroke="#262626" stroke-width="1"/>
<g transform="translate(1037.90,95.90) scale(1.0075)">
<g clip-path="url(#swath3)"><path d="M105.3 9.4 L126.0 7.8 L145.0 12.5 L149.2 20.0 L176.8 28.4 L187.4 30.5 L206.4 27.4 L208.5 34.8 L195.8 37.9 L191.6 47.5 L176.8 51.7 L174.7 57.0 L162.0 64.4 L149.2 66.5 L136.5 61.2 L102.7 58.1 L104.3 30.5Z" fill="#2088f0" stroke="#2088f0" stroke-width="3.0" stroke-linejoin="round"/>
<ellipse cx="136.9" cy="16.6" rx="3.3" ry="1.4" fill="#60f0a0" transform="rotate(31 136.9 16.6)"/>
<ellipse cx="164.4" cy="61.2" rx="3.3" ry="1.3" fill="#20a0ff" transform="rotate(27 164.4 61.2)"/>
<ellipse cx="112.3" cy="32.7" rx="3.5" ry="1.1" fill="#1840e8" transform="rotate(21 112.3 32.7)"/>
<ellipse cx="163.8" cy="31.1" rx="3.2" ry="1.7" fill="#30c8f8" transform="rotate(29 163.8 31.1)"/>
<ellipse cx="147.0" cy="39.5" rx="5.2" ry="1.5" fill="#20e0e0" transform="rotate(23 147.0 39.5)"/>
<ellipse cx="164.2" cy="45.3" rx="5.2" ry="1.0" fill="#20a0ff" transform="rotate(21 164.2 45.3)"/>
<ellipse cx="168.2" cy="36.9" rx="6.1" ry="1.3" fill="#20e0e0" transform="rotate(34 168.2 36.9)"/>
<ellipse cx="140.9" cy="22.4" rx="6.1" ry="1.0" fill="#1e60f0" transform="rotate(29 140.9 22.4)"/>
<ellipse cx="158.3" cy="59.2" rx="4.2" ry="1.8" fill="#1840e8" transform="rotate(23 158.3 59.2)"/>
<ellipse cx="147.3" cy="64.3" rx="5.2" ry="1.6" fill="#1e60f0" transform="rotate(30 147.3 64.3)"/>
<ellipse cx="138.7" cy="28.4" rx="6.2" ry="1.0" fill="#20e0e0" transform="rotate(22 138.7 28.4)"/>
<ellipse cx="202.7" cy="35.6" rx="3.2" ry="1.5" fill="#60f0a0" transform="rotate(34 202.7 35.6)"/>
<ellipse cx="132.8" cy="30.4" rx="3.1" ry="1.3" fill="#60f0a0" transform="rotate(25 132.8 30.4)"/>
<ellipse cx="167.3" cy="36.8" rx="4.1" ry="1.6" fill="#20a0ff" transform="rotate(32 167.3 36.8)"/>
<ellipse cx="144.1" cy="59.0" rx="4.8" ry="1.4" fill="#1e60f0" transform="rotate(24 144.1 59.0)"/>
<ellipse cx="132.1" cy="32.2" rx="6.5" ry="1.8" fill="#20a0ff" transform="rotate(24 132.1 32.2)"/>
<ellipse cx="111.4" cy="16.7" rx="3.0" ry="1.6" fill="#60f0a0" transform="rotate(25 111.4 16.7)"/>
<ellipse cx="147.0" cy="29.5" rx="6.8" ry="1.5" fill="#20e0e0" transform="rotate(36 147.0 29.5)"/>
<ellipse cx="181.0" cy="34.6" rx="6.8" ry="1.5" fill="#30c8f8" transform="rotate(32 181.0 34.6)"/>
<ellipse cx="144.8" cy="30.9" rx="4.6" ry="1.1" fill="#20e0e0" transform="rotate(26 144.8 30.9)"/>
<ellipse cx="162.7" cy="39.3" rx="5.5" ry="1.0" fill="#30c8f8" transform="rotate(26 162.7 39.3)"/>
<ellipse cx="129.4" cy="28.2" rx="3.5" ry="1.7" fill="#20a0ff" transform="rotate(34 129.4 28.2)"/>
<ellipse cx="153.5" cy="26.1" rx="6.0" ry="1.6" fill="#1e60f0" transform="rotate(35 153.5 26.1)"/>
<ellipse cx="130.3" cy="29.3" rx="6.1" ry="1.4" fill="#1e60f0" transform="rotate(36 130.3 29.3)"/>
<ellipse cx="137.6" cy="20.9" rx="6.9" ry="1.7" fill="#1840e8" transform="rotate(27 137.6 20.9)"/>
<ellipse cx="126.7" cy="38.2" rx="3.1" ry="0.9" fill="#20a0ff" transform="rotate(28 126.7 38.2)"/>
<ellipse cx="166.7" cy="28.0" rx="5.9" ry="1.2" fill="#1840e8" transform="rotate(31 166.7 28.0)"/>
<ellipse cx="111.2" cy="13.8" rx="4.4" ry="1.3" fill="#20e0e0" transform="rotate(20 111.2 13.8)"/>
<ellipse cx="153.4" cy="46.1" rx="3.3" ry="1.5" fill="#1840e8" transform="rotate(32 153.4 46.1)"/>
<ellipse cx="144.6" cy="31.4" rx="5.9" ry="1.1" fill="#30c8f8" transform="rotate(24 144.6 31.4)"/>
<ellipse cx="105.6" cy="42.5" rx="5.6" ry="1.5" fill="#20e0e0" transform="rotate(35 105.6 42.5)"/>
<ellipse cx="172.3" cy="28.4" rx="3.5" ry="0.9" fill="#20e0e0" transform="rotate(23 172.3 28.4)"/>
<ellipse cx="158.4" cy="62.6" rx="6.5" ry="1.6" fill="#20e0e0" transform="rotate(26 158.4 62.6)"/>
<ellipse cx="105.6" cy="20.3" rx="6.1" ry="1.2" fill="#20e0e0" transform="rotate(33 105.6 20.3)"/>
<ellipse cx="172.8" cy="55.7" rx="6.3" ry="1.7" fill="#20e0e0" transform="rotate(24 172.8 55.7)"/>
<ellipse cx="159.0" cy="38.5" rx="4.8" ry="1.1" fill="#1e60f0" transform="rotate(20 159.0 38.5)"/>
<ellipse cx="117.7" cy="44.2" rx="3.2" ry="1.5" fill="#1e60f0" transform="rotate(36 117.7 44.2)"/>
<ellipse cx="161.5" cy="53.9" rx="5.2" ry="1.1" fill="#1e60f0" transform="rotate(28 161.5 53.9)"/>
<ellipse cx="107.1" cy="13.5" rx="3.1" ry="1.7" fill="#20e0e0" transform="rotate(22 107.1 13.5)"/>
<ellipse cx="149.6" cy="43.8" rx="5.0" ry="1.5" fill="#20e0e0" transform="rotate(34 149.6 43.8)"/>
<ellipse cx="156.5" cy="55.2" rx="4.0" ry="1.4" fill="#20e0e0" transform="rotate(28 156.5 55.2)"/>
<ellipse cx="124.1" cy="34.1" rx="4.6" ry="1.2" fill="#20a0ff" transform="rotate(27 124.1 34.1)"/>
<ellipse cx="148.0" cy="20.3" rx="3.5" ry="1.6" fill="#20a0ff" transform="rotate(31 148.0 20.3)"/>
<ellipse cx="203.5" cy="31.2" rx="7.0" ry="1.6" fill="#20e0e0" transform="rotate(25 203.5 31.2)"/>
<ellipse cx="145.4" cy="32.5" rx="3.4" ry="1.2" fill="#20a0ff" transform="rotate(30 145.4 32.5)"/>
<ellipse cx="161.3" cy="33.7" rx="4.3" ry="1.5" fill="#1e60f0" transform="rotate(36 161.3 33.7)"/>
<ellipse cx="121.9" cy="52.2" rx="6.4" ry="1.5" fill="#1840e8" transform="rotate(28 121.9 52.2)"/>
<ellipse cx="145.6" cy="39.3" rx="5.0" ry="1.2" fill="#20e0e0" transform="rotate(28 145.6 39.3)"/>
<ellipse cx="108.8" cy="48.2" rx="3.3" ry="1.7" fill="#20a0ff" transform="rotate(22 108.8 48.2)"/>
<ellipse cx="194.0" cy="34.4" rx="5.2" ry="1.7" fill="#20a0ff" transform="rotate(28 194.0 34.4)"/>
<ellipse cx="169.2" cy="39.0" rx="4.8" ry="1.5" fill="#1e60f0" transform="rotate(28 169.2 39.0)"/>
<ellipse cx="129.2" cy="8.7" rx="5.2" ry="1.1" fill="#1840e8" transform="rotate(35 129.2 8.7)"/>
<ellipse cx="128.7" cy="34.0" rx="5.6" ry="1.5" fill="#60f0a0" transform="rotate(32 128.7 34.0)"/>
<ellipse cx="125.4" cy="21.3" rx="6.5" ry="1.6" fill="#1e60f0" transform="rotate(24 125.4 21.3)"/>
<ellipse cx="145.5" cy="28.2" rx="3.5" ry="1.0" fill="#1e60f0" transform="rotate(28 145.5 28.2)"/>
<ellipse cx="173.1" cy="30.2" rx="6.9" ry="1.4" fill="#20e0e0" transform="rotate(29 173.1 30.2)"/>
<ellipse cx="107.5" cy="18.7" rx="3.0" ry="1.2" fill="#20a0ff" transform="rotate(30 107.5 18.7)"/>
<ellipse cx="135.4" cy="28.7" rx="4.5" ry="1.3" fill="#1e60f0" transform="rotate(36 135.4 28.7)"/>
<ellipse cx="164.8" cy="30.9" rx="5.5" ry="1.0" fill="#20a0ff" transform="rotate(36 164.8 30.9)"/>
<ellipse cx="165.8" cy="52.7" rx="5.0" ry="1.2" fill="#1840e8" transform="rotate(24 165.8 52.7)"/>
<ellipse cx="107.3" cy="56.9" rx="5.5" ry="1.6" fill="#30c8f8" transform="rotate(36 107.3 56.9)"/>
<ellipse cx="117.4" cy="38.6" rx="6.3" ry="1.6" fill="#20e0e0" transform="rotate(27 117.4 38.6)"/>
<ellipse cx="111.7" cy="10.2" rx="6.8" ry="1.2" fill="#60f0a0" transform="rotate(34 111.7 10.2)"/>
<ellipse cx="161.8" cy="44.7" rx="5.7" ry="1.3" fill="#60f0a0" transform="rotate(20 161.8 44.7)"/>
<ellipse cx="112.4" cy="38.7" rx="4.9" ry="1.6" fill="#1840e8" transform="rotate(28 112.4 38.7)"/>
<ellipse cx="127.5" cy="52.2" rx="5.6" ry="1.3" fill="#20a0ff" transform="rotate(32 127.5 52.2)"/>
<ellipse cx="133.1" cy="10.5" rx="3.8" ry="1.4" fill="#60f0a0" transform="rotate(30 133.1 10.5)"/>
<ellipse cx="129.5" cy="51.4" rx="5.3" ry="0.9" fill="#20a0ff" transform="rotate(21 129.5 51.4)"/>
<ellipse cx="154.1" cy="64.9" rx="3.9" ry="1.3" fill="#1e60f0" transform="rotate(36 154.1 64.9)"/>
<ellipse cx="132.9" cy="35.2" rx="7.0" ry="1.4" fill="#1840e8" transform="rotate(29 132.9 35.2)"/>
<ellipse cx="104.5" cy="34.7" rx="6.9" ry="1.3" fill="#1840e8" transform="rotate(28 104.5 34.7)"/>
<ellipse cx="143.6" cy="61.6" rx="3.3" ry="1.0" fill="#30c8f8" transform="rotate(36 143.6 61.6)"/>
<ellipse cx="130.4" cy="28.9" rx="5.5" ry="1.2" fill="#60f0a0" transform="rotate(23 130.4 28.9)"/>
<ellipse cx="197.7" cy="36.3" rx="3.0" ry="1.3" fill="#1e60f0" transform="rotate(34 197.7 36.3)"/>
<ellipse cx="145.6" cy="50.5" rx="4.5" ry="1.0" fill="#20a0ff" transform="rotate(30 145.6 50.5)"/>
<ellipse cx="142.1" cy="30.9" rx="5.4" ry="1.2" fill="#30c8f8" transform="rotate(33 142.1 30.9)"/>
<ellipse cx="132.4" cy="10.8" rx="5.5" ry="1.0" fill="#60f0a0" transform="rotate(28 132.4 10.8)"/>
<ellipse cx="148.8" cy="26.3" rx="6.1" ry="1.3" fill="#1840e8" transform="rotate(20 148.8 26.3)"/>
<ellipse cx="188.6" cy="44.8" rx="6.8" ry="1.4" fill="#30c8f8" transform="rotate(22 188.6 44.8)"/>
<ellipse cx="107.9" cy="50.8" rx="6.0" ry="1.5" fill="#20e0e0" transform="rotate(29 107.9 50.8)"/>
<ellipse cx="154.1" cy="61.4" rx="3.7" ry="1.3" fill="#20e0e0" transform="rotate(29 154.1 61.4)"/>
<ellipse cx="134.2" cy="51.2" rx="4.0" ry="1.5" fill="#30c8f8" transform="rotate(29 134.2 51.2)"/>
<ellipse cx="153.8" cy="47.1" rx="5.6" ry="1.0" fill="#1e60f0" transform="rotate(36 153.8 47.1)"/>
<ellipse cx="198.6" cy="37.0" rx="6.6" ry="1.8" fill="#20a0ff" transform="rotate(34 198.6 37.0)"/>
<ellipse cx="147.9" cy="40.0" rx="3.7" ry="1.4" fill="#20a0ff" transform="rotate(30 147.9 40.0)"/>
<ellipse cx="128.0" cy="23.0" rx="6.5" ry="1.6" fill="#20e0e0" transform="rotate(33 128.0 23.0)"/>
<ellipse cx="143.2" cy="51.6" rx="4.1" ry="1.6" fill="#1e60f0" transform="rotate(35 143.2 51.6)"/>
<ellipse cx="116.0" cy="37.4" rx="6.5" ry="1.1" fill="#60f0a0" transform="rotate(28 116.0 37.4)"/>
<ellipse cx="197.6" cy="30.4" rx="4.7" ry="1.2" fill="#60f0a0" transform="rotate(20 197.6 30.4)"/>
<ellipse cx="116.1" cy="32.8" rx="6.2" ry="1.8" fill="#1840e8" transform="rotate(35 116.1 32.8)"/>
<ellipse cx="129.0" cy="14.2" rx="5.1" ry="1.5" fill="#1e60f0" transform="rotate(34 129.0 14.2)"/>
<ellipse cx="111.7" cy="53.4" rx="3.5" ry="1.4" fill="#1e60f0" transform="rotate(21 111.7 53.4)"/>
<ellipse cx="116.2" cy="22.6" rx="5.8" ry="1.0" fill="#60f0a0" transform="rotate(22 116.2 22.6)"/>
<ellipse cx="123.0" cy="23.1" rx="3.0" ry="1.4" fill="#1840e8" transform="rotate(34 123.0 23.1)"/>
<ellipse cx="132.2" cy="26.4" rx="4.0" ry="1.4" fill="#1840e8" transform="rotate(27 132.2 26.4)"/>
<ellipse cx="105.8" cy="32.0" rx="3.2" ry="1.1" fill="#60f0a0" transform="rotate(33 105.8 32.0)"/>
<ellipse cx="111.2" cy="21.2" rx="4.5" ry="1.3" fill="#20a0ff" transform="rotate(30 111.2 21.2)"/>
<ellipse cx="178.7" cy="29.1" rx="3.0" ry="1.2" fill="#20a0ff" transform="rotate(36 178.7 29.1)"/>
<ellipse cx="109.8" cy="36.9" rx="6.1" ry="1.1" fill="#1e60f0" transform="rotate(34 109.8 36.9)"/>
<ellipse cx="126.1" cy="52.5" rx="6.8" ry="1.3" fill="#20a0ff" transform="rotate(25 126.1 52.5)"/>
<ellipse cx="197.6" cy="36.3" rx="3.2" ry="1.4" fill="#30c8f8" transform="rotate(32 197.6 36.3)"/>
<ellipse cx="108.4" cy="9.2" rx="4.7" ry="1.5" fill="#60f0a0" transform="rotate(25 108.4 9.2)"/>
<ellipse cx="144.3" cy="60.6" rx="5.9" ry="1.8" fill="#30c8f8" transform="rotate(25 144.3 60.6)"/>
<ellipse cx="137.5" cy="18.7" rx="6.0" ry="0.9" fill="#30c8f8" transform="rotate(32 137.5 18.7)"/>
<ellipse cx="110.9" cy="12.5" rx="6.5" ry="1.4" fill="#20a0ff" transform="rotate(26 110.9 12.5)"/>
<ellipse cx="142.9" cy="52.9" rx="6.2" ry="1.0" fill="#20a0ff" transform="rotate(35 142.9 52.9)"/>
<ellipse cx="123.4" cy="39.6" rx="4.3" ry="1.6" fill="#20e0e0" transform="rotate(35 123.4 39.6)"/>
<ellipse cx="105.9" cy="31.9" rx="6.1" ry="0.9" fill="#1840e8" transform="rotate(21 105.9 31.9)"/>
<ellipse cx="151.8" cy="55.0" rx="3.8" ry="1.0" fill="#1e60f0" transform="rotate(30 151.8 55.0)"/>
<ellipse cx="141.1" cy="27.5" rx="3.2" ry="1.6" fill="#30c8f8" transform="rotate(30 141.1 27.5)"/>
<ellipse cx="179.1" cy="42.8" rx="6.8" ry="1.0" fill="#1840e8" transform="rotate(27 179.1 42.8)"/>
<ellipse cx="114.0" cy="49.8" rx="6.1" ry="1.6" fill="#20e0e0" transform="rotate(33 114.0 49.8)"/>
<ellipse cx="127.7" cy="58.4" rx="6.1" ry="1.4" fill="#20e0e0" transform="rotate(36 127.7 58.4)"/>
<ellipse cx="123.6" cy="52.0" rx="3.3" ry="0.9" fill="#20a0ff" transform="rotate(30 123.6 52.0)"/>
<ellipse cx="119.7" cy="32.8" rx="3.3" ry="1.5" fill="#1e60f0" transform="rotate(26 119.7 32.8)"/>
<ellipse cx="112.9" cy="37.1" rx="4.8" ry="1.1" fill="#60f0a0" transform="rotate(33 112.9 37.1)"/>
<ellipse cx="151.5" cy="60.1" rx="5.2" ry="1.6" fill="#20a0ff" transform="rotate(23 151.5 60.1)"/>
<ellipse cx="132.2" cy="23.5" rx="4.0" ry="1.3" fill="#20a0ff" transform="rotate(25 132.2 23.5)"/>
<ellipse cx="128.6" cy="16.8" rx="5.3" ry="1.2" fill="#30c8f8" transform="rotate(32 128.6 16.8)"/>
<ellipse cx="129.3" cy="22.2" rx="5.6" ry="1.0" fill="#20e0e0" transform="rotate(34 129.3 22.2)"/>
<ellipse cx="152.9" cy="55.9" rx="6.7" ry="0.9" fill="#1840e8" transform="rotate(29 152.9 55.9)"/>
<ellipse cx="127.3" cy="10.7" rx="6.3" ry="1.1" fill="#60f0a0" transform="rotate(22 127.3 10.7)"/>
<ellipse cx="142.1" cy="58.7" rx="4.0" ry="1.6" fill="#20e0e0" transform="rotate(20 142.1 58.7)"/>
<ellipse cx="113.9" cy="42.8" rx="3.9" ry="1.2" fill="#60f0a0" transform="rotate(24 113.9 42.8)"/>
<ellipse cx="106.7" cy="50.8" rx="6.3" ry="1.6" fill="#30c8f8" transform="rotate(33 106.7 50.8)"/>
<ellipse cx="135.7" cy="19.7" rx="5.2" ry="1.0" fill="#1840e8" transform="rotate(23 135.7 19.7)"/>
<ellipse cx="186.9" cy="46.8" rx="5.1" ry="1.5" fill="#1e60f0" transform="rotate(32 186.9 46.8)"/>
<ellipse cx="176.3" cy="31.9" rx="4.2" ry="1.8" fill="#20a0ff" transform="rotate(29 176.3 31.9)"/>
<ellipse cx="170.9" cy="30.7" rx="6.8" ry="1.3" fill="#20a0ff" transform="rotate(25 170.9 30.7)"/>
<ellipse cx="147.5" cy="56.0" rx="6.5" ry="1.3" fill="#20a0ff" transform="rotate(25 147.5 56.0)"/>
<ellipse cx="116.4" cy="10.8" rx="6.2" ry="1.3" fill="#1e60f0" transform="rotate(31 116.4 10.8)"/>
<ellipse cx="139.5" cy="17.3" rx="3.3" ry="1.2" fill="#1e60f0" transform="rotate(26 139.5 17.3)"/>
<ellipse cx="134.6" cy="57.0" rx="6.7" ry="1.2" fill="#1e60f0" transform="rotate(32 134.6 57.0)"/>
<ellipse cx="111.8" cy="49.6" rx="6.6" ry="1.5" fill="#60f0a0" transform="rotate(27 111.8 49.6)"/>
<ellipse cx="168.4" cy="43.9" rx="4.9" ry="1.4" fill="#1e60f0" transform="rotate(21 168.4 43.9)"/>
<ellipse cx="145.0" cy="38.2" rx="3.5" ry="1.1" fill="#20a0ff" transform="rotate(26 145.0 38.2)"/>
<ellipse cx="107.0" cy="40.8" rx="3.2" ry="1.7" fill="#1840e8" transform="rotate(23 107.0 40.8)"/>
<ellipse cx="143.9" cy="34.6" rx="6.1" ry="1.5" fill="#1840e8" transform="rotate(29 143.9 34.6)"/>
<ellipse cx="164.3" cy="32.8" rx="4.8" ry="1.3" fill="#60f0a0" transform="rotate(20 164.3 32.8)"/>
<ellipse cx="151.9" cy="34.0" rx="6.3" ry="1.7" fill="#60f0a0" transform="rotate(35 151.9 34.0)"/>
<ellipse cx="140.6" cy="29.2" rx="5.0" ry="1.5" fill="#1840e8" transform="rotate(21 140.6 29.2)"/>
<ellipse cx="156.0" cy="30.0" rx="3.5" ry="1.7" fill="#30c8f8" transform="rotate(23 156.0 30.0)"/>
<ellipse cx="154.7" cy="64.0" rx="3.7" ry="1.6" fill="#30c8f8" transform="rotate(27 154.7 64.0)"/>
<ellipse cx="109.6" cy="28.4" rx="3.6" ry="1.7" fill="#1840e8" transform="rotate(28 109.6 28.4)"/>
<ellipse cx="198.5" cy="34.6" rx="6.9" ry="1.3" fill="#20a0ff" transform="rotate(28 198.5 34.6)"/>
<ellipse cx="142.1" cy="19.5" rx="5.5" ry="1.2" fill="#20a0ff" transform="rotate(30 142.1 19.5)"/>
<ellipse cx="158.9" cy="45.2" rx="6.5" ry="1.4" fill="#20a0ff" transform="rotate(23 158.9 45.2)"/>
<ellipse cx="129.3" cy="39.3" rx="6.0" ry="1.2" fill="#1840e8" transform="rotate(32 129.3 39.3)"/>
<ellipse cx="140.8" cy="52.7" rx="3.7" ry="1.6" fill="#20e0e0" transform="rotate(21 140.8 52.7)"/>
<ellipse cx="134.0" cy="38.1" rx="6.9" ry="1.7" fill="#20a0ff" transform="rotate(30 134.0 38.1)"/>
<path d="M105.3 23.1 L140.8 23.1 L145.0 32.7 L105.3 32.7Z" fill="#40e8c8" stroke="#40e8c8" stroke-width="1.5" stroke-linejoin="round"/>
<ellipse cx="134.4" cy="30.2" rx="4.2" ry="1.5" fill="#70f0a0" transform="rotate(33 134.4 30.2)"/>
<ellipse cx="125.7" cy="31.7" rx="3.9" ry="1.5" fill="#70f0a0" transform="rotate(20 125.7 31.7)"/>
<ellipse cx="107.5" cy="28.5" rx="5.1" ry="1.4" fill="#70f0a0" transform="rotate(33 107.5 28.5)"/>
<ellipse cx="128.5" cy="28.7" rx="5.5" ry="1.3" fill="#70f0a0" transform="rotate(24 128.5 28.7)"/>
<ellipse cx="105.9" cy="30.8" rx="4.8" ry="1.0" fill="#20e0e0" transform="rotate(24 105.9 30.8)"/>
<ellipse cx="139.9" cy="30.6" rx="4.1" ry="0.9" fill="#20e0e0" transform="rotate(31 139.9 30.6)"/>
<ellipse cx="128.9" cy="28.6" rx="5.1" ry="1.3" fill="#20e0e0" transform="rotate(25 128.9 28.6)"/>
<ellipse cx="126.4" cy="27.0" rx="3.2" ry="1.6" fill="#70f0a0" transform="rotate(20 126.4 27.0)"/>
<ellipse cx="129.6" cy="29.4" rx="4.7" ry="1.4" fill="#70f0a0" transform="rotate(36 129.6 29.4)"/>
<ellipse cx="131.0" cy="27.1" rx="5.0" ry="1.0" fill="#20e0e0" transform="rotate(21 131.0 27.1)"/>
<ellipse cx="124.3" cy="28.3" rx="4.7" ry="1.7" fill="#20e0e0" transform="rotate(22 124.3 28.3)"/>
<ellipse cx="134.8" cy="27.4" rx="3.4" ry="1.1" fill="#70f0a0" transform="rotate(21 134.8 27.4)"/>
<ellipse cx="110.2" cy="31.6" rx="6.8" ry="1.1" fill="#2090f0" transform="rotate(21 110.2 31.6)"/>
<ellipse cx="115.9" cy="28.4" rx="6.2" ry="1.4" fill="#20e0e0" transform="rotate(28 115.9 28.4)"/>
<ellipse cx="117.0" cy="32.0" rx="3.3" ry="1.4" fill="#2090f0" transform="rotate(25 117.0 32.0)"/>
<ellipse cx="115.6" cy="25.4" rx="6.8" ry="1.6" fill="#20e0e0" transform="rotate(30 115.6 25.4)"/>
<ellipse cx="112.9" cy="26.8" rx="4.5" ry="1.7" fill="#20e0e0" transform="rotate(35 112.9 26.8)"/>
<ellipse cx="124.1" cy="28.2" rx="3.1" ry="1.8" fill="#70f0a0" transform="rotate(27 124.1 28.2)"/>
<ellipse cx="128.0" cy="26.1" rx="5.5" ry="1.0" fill="#70f0a0" transform="rotate(25 128.0 26.1)"/>
<ellipse cx="111.1" cy="23.4" rx="6.7" ry="1.2" fill="#70f0a0" transform="rotate(24 111.1 23.4)"/>
<ellipse cx="133.1" cy="23.4" rx="5.6" ry="0.9" fill="#70f0a0" transform="rotate(22 133.1 23.4)"/>
<ellipse cx="134.6" cy="23.8" rx="4.5" ry="1.6" fill="#20e0e0" transform="rotate(22 134.6 23.8)"/>
<ellipse cx="140.2" cy="30.3" rx="4.5" ry="1.1" fill="#20e0e0" transform="rotate(26 140.2 30.3)"/>
<ellipse cx="109.8" cy="23.5" rx="6.2" ry="1.5" fill="#2090f0" transform="rotate(29 109.8 23.5)"/>
<ellipse cx="124.3" cy="24.4" rx="5.6" ry="1.2" fill="#2090f0" transform="rotate(30 124.3 24.4)"/>
<path d="M103.2 47.5 L155.6 47.5 L168.3 55.9 L155.6 63.4 L136.5 59.1 L102.7 57.0Z" fill="#60f0a8" stroke="#60f0a8" stroke-width="1.5" stroke-linejoin="round"/>
<ellipse cx="130.5" cy="47.8" rx="4.1" ry="1.5" fill="#70f0a0" transform="rotate(31 130.5 47.8)"/>
<ellipse cx="142.2" cy="55.0" rx="6.0" ry="1.6" fill="#70f0a0" transform="rotate(20 142.2 55.0)"/>
<ellipse cx="138.0" cy="50.9" rx="3.4" ry="1.6" fill="#2090f0" transform="rotate(25 138.0 50.9)"/>
<ellipse cx="131.3" cy="55.8" rx="6.0" ry="0.9" fill="#70f0a0" transform="rotate(31 131.3 55.8)"/>
<ellipse cx="134.9" cy="55.3" rx="3.7" ry="1.3" fill="#2090f0" transform="rotate(31 134.9 55.3)"/>
<ellipse cx="165.5" cy="55.7" rx="3.6" ry="1.6" fill="#30e0e0" transform="rotate(27 165.5 55.7)"/>
<ellipse cx="135.4" cy="49.2" rx="3.3" ry="1.6" fill="#30e0e0" transform="rotate(23 135.4 49.2)"/>
<ellipse cx="143.9" cy="53.1" rx="4.6" ry="1.7" fill="#30e0e0" transform="rotate(22 143.9 53.1)"/>
<ellipse cx="130.4" cy="57.7" rx="4.2" ry="1.3" fill="#30e0e0" transform="rotate(36 130.4 57.7)"/>
<ellipse cx="111.0" cy="56.9" rx="5.4" ry="0.9" fill="#2090f0" transform="rotate(30 111.0 56.9)"/>
<ellipse cx="132.2" cy="56.3" rx="4.9" ry="1.5" fill="#70f0a0" transform="rotate(28 132.2 56.3)"/>
<ellipse cx="140.7" cy="49.5" rx="6.5" ry="1.1" fill="#30e0e0" transform="rotate(26 140.7 49.5)"/>
<ellipse cx="156.9" cy="57.3" rx="6.9" ry="1.6" fill="#2090f0" transform="rotate(36 156.9 57.3)"/>
<ellipse cx="125.5" cy="51.2" rx="4.0" ry="1.8" fill="#a0f070" transform="rotate(23 125.5 51.2)"/>
<ellipse cx="115.5" cy="49.9" rx="4.2" ry="1.2" fill="#70f0a0" transform="rotate(28 115.5 49.9)"/>
<ellipse cx="115.5" cy="57.6" rx="3.8" ry="1.2" fill="#70f0a0" transform="rotate(21 115.5 57.6)"/>
<ellipse cx="131.3" cy="51.0" rx="4.2" ry="0.9" fill="#a0f070" transform="rotate(28 131.3 51.0)"/>
<ellipse cx="142.3" cy="53.9" rx="6.6" ry="1.3" fill="#2090f0" transform="rotate(33 142.3 53.9)"/>
<ellipse cx="158.2" cy="58.1" rx="6.5" ry="1.5" fill="#30e0e0" transform="rotate(27 158.2 58.1)"/>
<ellipse cx="147.3" cy="57.7" rx="4.3" ry="1.5" fill="#30e0e0" transform="rotate(23 147.3 57.7)"/>
<ellipse cx="134.4" cy="47.8" rx="5.1" ry="1.5" fill="#2090f0" transform="rotate(25 134.4 47.8)"/>
<ellipse cx="161.4" cy="52.7" rx="6.3" ry="1.7" fill="#70f0a0" transform="rotate(23 161.4 52.7)"/>
<ellipse cx="105.2" cy="56.1" rx="6.1" ry="1.7" fill="#70f0a0" transform="rotate(36 105.2 56.1)"/>
<ellipse cx="132.6" cy="50.7" rx="3.1" ry="1.6" fill="#30e0e0" transform="rotate(31 132.6 50.7)"/>
<ellipse cx="136.9" cy="54.0" rx="3.8" ry="1.5" fill="#a0f070" transform="rotate(32 136.9 54.0)"/>
<ellipse cx="150.5" cy="57.2" rx="4.0" ry="1.2" fill="#30e0e0" transform="rotate(21 150.5 57.2)"/>
<ellipse cx="103.5" cy="54.1" rx="5.8" ry="1.2" fill="#30e0e0" transform="rotate(28 103.5 54.1)"/>
<ellipse cx="109.8" cy="52.3" rx="6.8" ry="1.8" fill="#30e0e0" transform="rotate(32 109.8 52.3)"/>
<ellipse cx="133.0" cy="50.1" rx="3.3" ry="1.6" fill="#a0f070" transform="rotate(26 133.0 50.1)"/>
<ellipse cx="133.5" cy="56.4" rx="6.9" ry="1.2" fill="#70f0a0" transform="rotate(33 133.5 56.4)"/>
<ellipse cx="133.4" cy="52.2" rx="3.5" ry="1.7" fill="#30e0e0" transform="rotate(31 133.4 52.2)"/>
<ellipse cx="154.1" cy="51.1" rx="5.7" ry="1.8" fill="#2090f0" transform="rotate(25 154.1 51.1)"/>
<ellipse cx="155.1" cy="53.2" rx="4.3" ry="1.3" fill="#30e0e0" transform="rotate(22 155.1 53.2)"/>
<ellipse cx="145.9" cy="53.2" rx="6.4" ry="1.0" fill="#a0f070" transform="rotate(30 145.9 53.2)"/>
<ellipse cx="154.1" cy="49.7" rx="5.5" ry="0.9" fill="#2090f0" transform="rotate(20 154.1 49.7)"/>
<ellipse cx="116.4" cy="48.6" rx="5.4" ry="1.4" fill="#70f0a0" transform="rotate(27 116.4 48.6)"/>
<ellipse cx="114.9" cy="54.7" rx="3.8" ry="1.3" fill="#2090f0" transform="rotate(25 114.9 54.7)"/>
<ellipse cx="142.7" cy="58.4" rx="3.4" ry="1.7" fill="#a0f070" transform="rotate(29 142.7 58.4)"/>
<ellipse cx="137.5" cy="59.3" rx="6.5" ry="1.4" fill="#30e0e0" transform="rotate(28 137.5 59.3)"/>
<ellipse cx="133.7" cy="56.3" rx="6.6" ry="1.5" fill="#30e0e0" transform="rotate(27 133.7 56.3)"/>
<ellipse cx="135.4" cy="56.0" rx="3.0" ry="1.7" fill="#2090f0" transform="rotate(34 135.4 56.0)"/>
<ellipse cx="148.3" cy="55.4" rx="4.9" ry="1.3" fill="#70f0a0" transform="rotate(22 148.3 55.4)"/>
<ellipse cx="114.5" cy="53.2" rx="3.1" ry="0.9" fill="#30e0e0" transform="rotate(30 114.5 53.2)"/>
<ellipse cx="155.7" cy="49.0" rx="6.0" ry="1.0" fill="#30e0e0" transform="rotate(26 155.7 49.0)"/>
<ellipse cx="149.8" cy="57.4" rx="6.4" ry="1.2" fill="#30e0e0" transform="rotate(35 149.8 57.4)"/>
<path d="M147.1 24.2 L162.0 23.1 L176.8 30.5 L176.8 39.0 L168.3 43.2 L153.5 37.9 L146.1 30.5Z" fill="#f0d020" stroke="#f0d020" stroke-width="1.5" stroke-linejoin="round"/>
<ellipse cx="170.0" cy="34.3" rx="4.1" ry="1.2" fill="#40d0e0" transform="rotate(28 170.0 34.3)"/>
<ellipse cx="163.1" cy="39.8" rx="6.3" ry="1.3" fill="#ffd000" transform="rotate(36 163.1 39.8)"/>
<ellipse cx="156.7" cy="27.2" rx="3.5" ry="1.1" fill="#80f080" transform="rotate(29 156.7 27.2)"/>
<ellipse cx="158.3" cy="34.3" rx="5.3" ry="1.3" fill="#80f080" transform="rotate(23 158.3 34.3)"/>
<ellipse cx="174.4" cy="35.4" rx="6.2" ry="1.7" fill="#ff9000" transform="rotate(32 174.4 35.4)"/>
<ellipse cx="165.0" cy="35.7" rx="5.4" ry="1.5" fill="#f0e040" transform="rotate(26 165.0 35.7)"/>
<ellipse cx="165.3" cy="26.6" rx="6.5" ry="1.3" fill="#ff9000" transform="rotate(23 165.3 26.6)"/>
<ellipse cx="174.1" cy="36.3" rx="6.3" ry="1.6" fill="#80f080" transform="rotate(28 174.1 36.3)"/>
<ellipse cx="163.5" cy="34.8" rx="5.0" ry="1.4" fill="#40d0e0" transform="rotate(23 163.5 34.8)"/>
<ellipse cx="169.8" cy="31.6" rx="4.6" ry="1.0" fill="#f0e040" transform="rotate(32 169.8 31.6)"/>
<ellipse cx="166.3" cy="26.3" rx="5.2" ry="1.0" fill="#f0e040" transform="rotate(35 166.3 26.3)"/>
<ellipse cx="152.6" cy="26.2" rx="3.0" ry="1.5" fill="#ffd000" transform="rotate(23 152.6 26.2)"/>
<ellipse cx="152.8" cy="25.6" rx="4.1" ry="1.4" fill="#80f080" transform="rotate(34 152.8 25.6)"/>
<ellipse cx="168.6" cy="26.9" rx="6.1" ry="1.5" fill="#ffd000" transform="rotate(24 168.6 26.9)"/>
<ellipse cx="165.4" cy="37.4" rx="6.7" ry="1.1" fill="#80f080" transform="rotate(21 165.4 37.4)"/>
<ellipse cx="155.6" cy="37.8" rx="6.4" ry="1.3" fill="#ffd000" transform="rotate(21 155.6 37.8)"/>
<ellipse cx="168.4" cy="32.6" rx="6.9" ry="1.0" fill="#ffd000" transform="rotate(25 168.4 32.6)"/>
<ellipse cx="165.4" cy="31.5" rx="6.1" ry="1.8" fill="#80f080" transform="rotate(30 165.4 31.5)"/>
<ellipse cx="155.0" cy="24.3" rx="5.8" ry="1.6" fill="#40d0e0" transform="rotate(30 155.0 24.3)"/>
<ellipse cx="172.8" cy="37.7" rx="3.6" ry="1.6" fill="#ffd000" transform="rotate(33 172.8 37.7)"/>
<ellipse cx="158.0" cy="30.7" rx="3.9" ry="1.3" fill="#f0e040" transform="rotate(20 158.0 30.7)"/>
<ellipse cx="155.9" cy="28.5" rx="6.7" ry="1.6" fill="#ffd000" transform="rotate(21 155.9 28.5)"/>
<ellipse cx="154.9" cy="26.0" rx="7.0" ry="1.0" fill="#40d0e0" transform="rotate(35 154.9 26.0)"/>
<ellipse cx="156.7" cy="24.8" rx="6.2" ry="1.1" fill="#80f080" transform="rotate(27 156.7 24.8)"/>
<ellipse cx="155.6" cy="24.3" rx="5.8" ry="1.7" fill="#80f080" transform="rotate(20 155.6 24.3)"/>
<ellipse cx="170.4" cy="32.4" rx="6.2" ry="1.6" fill="#ffd000" transform="rotate(27 170.4 32.4)"/>
<ellipse cx="158.3" cy="33.6" rx="6.3" ry="1.2" fill="#ffd000" transform="rotate(36 158.3 33.6)"/>
<ellipse cx="164.2" cy="26.9" rx="3.7" ry="1.5" fill="#ffd000" transform="rotate(31 164.2 26.9)"/>
<ellipse cx="163.8" cy="30.3" rx="6.4" ry="1.1" fill="#f0e040" transform="rotate(35 163.8 30.3)"/>
<ellipse cx="157.6" cy="25.3" rx="6.1" ry="1.0" fill="#ff9000" transform="rotate(20 157.6 25.3)"/>
<ellipse cx="171.5" cy="40.1" rx="4.3" ry="2.7" fill="#ff9000" transform="rotate(20 171.5 40.1)"/>
<ellipse cx="128.1" cy="13.1" rx="4.3" ry="2.3" fill="#ff9020" transform="rotate(10 128.1 13.1)"/>
<ellipse cx="128.1" cy="13.1" rx="1.9" ry="1.1" fill="#f04010" transform="rotate(10 128.1 13.1)"/>
<path d="M176.8 30.5 L206.4 28.4 L208.5 34.8 L193.7 39.0 L191.6 47.5 L176.8 50.7 L170.4 43.2Z" fill="#2060f0" stroke="#2060f0" stroke-width="1.5" stroke-linejoin="round"/>
<ellipse cx="183.6" cy="40.0" rx="3.1" ry="1.8" fill="#20a0ff" transform="rotate(35 183.6 40.0)"/>
<ellipse cx="192.8" cy="33.2" rx="4.1" ry="1.0" fill="#30c0f0" transform="rotate(34 192.8 33.2)"/>
<ellipse cx="207.1" cy="34.1" rx="3.8" ry="1.1" fill="#20a0ff" transform="rotate(22 207.1 34.1)"/>
<ellipse cx="184.5" cy="44.1" rx="6.4" ry="1.7" fill="#1840e8" transform="rotate(32 184.5 44.1)"/>
<ellipse cx="179.3" cy="30.4" rx="5.0" ry="1.1" fill="#30c0f0" transform="rotate(25 179.3 30.4)"/>
<ellipse cx="184.6" cy="33.6" rx="3.7" ry="1.7" fill="#1840e8" transform="rotate(31 184.6 33.6)"/>
<ellipse cx="172.7" cy="40.7" rx="6.7" ry="1.1" fill="#20a0ff" transform="rotate(36 172.7 40.7)"/>
<ellipse cx="175.9" cy="45.2" rx="5.7" ry="1.2" fill="#30c0f0" transform="rotate(34 175.9 45.2)"/>
<ellipse cx="199.3" cy="30.8" rx="4.0" ry="1.0" fill="#20a0ff" transform="rotate(35 199.3 30.8)"/>
<ellipse cx="184.9" cy="38.2" rx="6.7" ry="1.7" fill="#30c0f0" transform="rotate(34 184.9 38.2)"/>
<ellipse cx="197.8" cy="32.8" rx="6.7" ry="1.1" fill="#20a0ff" transform="rotate(31 197.8 32.8)"/>
<ellipse cx="204.3" cy="31.5" rx="3.4" ry="1.7" fill="#1840e8" transform="rotate(20 204.3 31.5)"/>
<ellipse cx="194.4" cy="38.5" rx="6.3" ry="1.3" fill="#20a0ff" transform="rotate(31 194.4 38.5)"/>
<ellipse cx="175.9" cy="33.3" rx="5.9" ry="1.4" fill="#20a0ff" transform="rotate(24 175.9 33.3)"/>
<ellipse cx="187.2" cy="31.7" rx="4.0" ry="0.9" fill="#1840e8" transform="rotate(29 187.2 31.7)"/>
<ellipse cx="183.2" cy="32.2" rx="4.3" ry="1.7" fill="#1840e8" transform="rotate(23 183.2 32.2)"/>
<ellipse cx="176.3" cy="39.8" rx="6.2" ry="1.7" fill="#1840e8" transform="rotate(35 176.3 39.8)"/>
<ellipse cx="202.3" cy="31.1" rx="6.9" ry="1.3" fill="#30c0f0" transform="rotate(28 202.3 31.1)"/>
<ellipse cx="204.6" cy="29.7" rx="4.2" ry="1.8" fill="#1840e8" transform="rotate(20 204.6 29.7)"/>
<ellipse cx="187.3" cy="39.7" rx="4.8" ry="1.6" fill="#1840e8" transform="rotate(36 187.3 39.7)"/>
<ellipse cx="181.3" cy="36.4" rx="4.6" ry="1.1" fill="#20a0ff" transform="rotate(25 181.3 36.4)"/>
<ellipse cx="173.8" cy="42.0" rx="4.1" ry="1.1" fill="#1840e8" transform="rotate(26 173.8 42.0)"/>
<ellipse cx="192.6" cy="32.9" rx="5.9" ry="1.3" fill="#20a0ff" transform="rotate(21 192.6 32.9)"/>
<ellipse cx="190.2" cy="36.1" rx="5.6" ry="1.8" fill="#20a0ff" transform="rotate(22 190.2 36.1)"/>
<ellipse cx="188.6" cy="47.8" rx="3.7" ry="1.6" fill="#20a0ff" transform="rotate(31 188.6 47.8)"/>
<ellipse cx="171.8" cy="44.0" rx="6.4" ry="1.2" fill="#1840e8" transform="rotate(34 171.8 44.0)"/>
<ellipse cx="184.0" cy="33.9" rx="6.7" ry="1.6" fill="#30c0f0" transform="rotate(32 184.0 33.9)"/>
<ellipse cx="181.5" cy="30.8" rx="4.8" ry="0.9" fill="#1840e8" transform="rotate(24 181.5 30.8)"/>
<ellipse cx="178.9" cy="32.5" rx="4.0" ry="1.6" fill="#20a0ff" transform="rotate(20 178.9 32.5)"/>
<ellipse cx="198.6" cy="34.2" rx="5.5" ry="1.3" fill="#30c0f0" transform="rotate(27 198.6 34.2)"/>
<path d="M113.8 -1.2 L120.1 -1.2 L120.1 8.3 L113.8 8.3Z" fill="#70f090" stroke="#70f090" stroke-width="3.0" stroke-linejoin="round"/>
<path d="M113.3 8.8 L120.7 8.8 L120.7 10.6 L113.3 10.6Z" fill="#f0e020" stroke="#f0e020" stroke-width="2.0" stroke-linejoin="round"/>
<circle cx="133.9" cy="2.0" r="4.0" fill="#2060f0"/>
<circle cx="138.7" cy="5.1" r="4.0" fill="#2060f0"/>
<circle cx="131.2" cy="9.4" r="4.0" fill="#2890f0"/>
<circle cx="141.8" cy="11.0" r="4.0" fill="#2070f0"/>
<circle cx="136.5" cy="9.9" r="4.0" fill="#2080f0"/>
<path d="M159.8 0.9 L166.2 -2.8 L182.1 -2.3 L188.4 3.0 L196.9 0.9 L201.1 4.1 L193.7 9.4 L185.2 12.5 L176.8 18.4 L169.4 15.7 L162.0 9.4 L157.7 5.1Z" fill="#1040f0" stroke="#1040f0" stroke-width="4.0" stroke-linejoin="round"/>
<ellipse cx="179.1" cy="7.8" rx="2.2" ry="0.8" fill="#30d0e0" transform="rotate(21 179.1 7.8)"/>
<ellipse cx="181.2" cy="2.0" rx="3.3" ry="0.8" fill="#30d0e0" transform="rotate(29 181.2 2.0)"/>
<ellipse cx="198.4" cy="5.4" rx="3.7" ry="0.8" fill="#1c50f0" transform="rotate(29 198.4 5.4)"/>
<ellipse cx="173.5" cy="5.7" rx="3.4" ry="0.9" fill="#2080f0" transform="rotate(27 173.5 5.7)"/>
<ellipse cx="168.5" cy="6.1" rx="2.7" ry="0.8" fill="#1c50f0" transform="rotate(19 168.5 6.1)"/>
<ellipse cx="171.8" cy="1.4" rx="2.5" ry="0.8" fill="#1c50f0" transform="rotate(29 171.8 1.4)"/>
<ellipse cx="169.3" cy="11.6" rx="3.1" ry="1.0" fill="#30d0e0" transform="rotate(20 169.3 11.6)"/>
<ellipse cx="168.6" cy="8.2" rx="3.9" ry="0.7" fill="#1c50f0" transform="rotate(26 168.6 8.2)"/>
<ellipse cx="172.8" cy="0.7" rx="3.9" ry="1.0" fill="#30d0e0" transform="rotate(25 172.8 0.7)"/>
<ellipse cx="179.9" cy="15.9" rx="3.2" ry="0.7" fill="#2080f0" transform="rotate(19 179.9 15.9)"/>
<ellipse cx="189.9" cy="3.3" rx="3.4" ry="0.7" fill="#1c50f0" transform="rotate(29 189.9 3.3)"/>
<ellipse cx="166.5" cy="12.2" rx="3.1" ry="0.8" fill="#1c50f0" transform="rotate(32 166.5 12.2)"/>
<ellipse cx="172.2" cy="1.2" rx="3.9" ry="0.8" fill="#1c50f0" transform="rotate(28 172.2 1.2)"/>
<ellipse cx="171.8" cy="4.1" rx="3.8" ry="0.7" fill="#30d0e0" transform="rotate(18 171.8 4.1)"/>
<circle cx="151.4" cy="14.7" r="3.5" fill="#2080f0"/>
<circle cx="155.6" cy="13.1" r="3.5" fill="#2088f0"/>
<circle cx="159.8" cy="15.2" r="3.5" fill="#2070f0"/>
<circle cx="165.1" cy="16.8" r="3.5" fill="#60e0a0"/>
<circle cx="187.4" cy="24.2" r="4.0" fill="#80f080"/>
<circle cx="194.8" cy="25.8" r="4.0" fill="#80f080"/>
<circle cx="200.1" cy="26.8" r="4.0" fill="#78f088"/>
<circle cx="191.6" cy="28.4" r="4.0" fill="#80f080"/>
<circle cx="204.3" cy="29.5" r="4.0" fill="#2090f0"/>
<path d="M218.1 -1.2 L223.4 -3.3 L231.8 -1.8 L232.9 5.1 L231.8 20.0 L235.0 24.2 L233.9 32.7 L227.6 34.8 L219.1 33.7 L210.7 34.8 L209.6 20.0 L213.8 12.5 L215.9 4.1Z" fill="#ff9800" stroke="#ff9800" stroke-width="3.0" stroke-linejoin="round"/>
<ellipse cx="229.2" cy="2.7" rx="4.6" ry="2.2" fill="#ffb000" transform="rotate(-67 229.2 2.7)"/>
<ellipse cx="222.7" cy="28.5" rx="4.3" ry="2.3" fill="#ff7010" transform="rotate(-64 222.7 28.5)"/>
<ellipse cx="220.2" cy="22.1" rx="2.6" ry="2.4" fill="#ffb000" transform="rotate(-60 220.2 22.1)"/>
<ellipse cx="230.5" cy="16.4" rx="4.2" ry="2.6" fill="#ffa000" transform="rotate(-53 230.5 16.4)"/>
<ellipse cx="216.4" cy="20.7" rx="4.1" ry="2.1" fill="#f0e000" transform="rotate(-65 216.4 20.7)"/>
<ellipse cx="224.5" cy="15.6" rx="3.7" ry="2.1" fill="#ffa000" transform="rotate(-60 224.5 15.6)"/>
<ellipse cx="231.8" cy="19.8" rx="3.4" ry="2.2" fill="#ff7010" transform="rotate(-57 231.8 19.8)"/>
<ellipse cx="217.0" cy="11.5" rx="3.2" ry="2.0" fill="#f0e000" transform="rotate(-53 217.0 11.5)"/>
<ellipse cx="219.3" cy="8.1" rx="4.4" ry="2.2" fill="#f0e000" transform="rotate(-56 219.3 8.1)"/>
<ellipse cx="224.4" cy="0.0" rx="3.0" ry="2.8" fill="#ffa000" transform="rotate(-61 224.4 0.0)"/>
<ellipse cx="220.4" cy="31.4" rx="2.1" ry="2.3" fill="#ffb000" transform="rotate(-53 220.4 31.4)"/>
<ellipse cx="217.2" cy="17.1" rx="3.9" ry="2.2" fill="#ff7010" transform="rotate(-52 217.2 17.1)"/>
<ellipse cx="228.1" cy="13.0" rx="2.1" ry="2.5" fill="#ff7010" transform="rotate(-54 228.1 13.0)"/>
<ellipse cx="233.7" cy="22.4" rx="2.3" ry="2.1" fill="#f0e000" transform="rotate(-56 233.7 22.4)"/>
<ellipse cx="226.1" cy="32.0" rx="2.6" ry="2.1" fill="#ffb000" transform="rotate(-56 226.1 32.0)"/>
<ellipse cx="220.8" cy="20.5" rx="3.0" ry="2.3" fill="#ffa000" transform="rotate(-66 220.8 20.5)"/>
<ellipse cx="234.5" cy="28.1" rx="2.3" ry="2.8" fill="#f0e000" transform="rotate(-58 234.5 28.1)"/>
<ellipse cx="232.2" cy="12.7" rx="2.9" ry="2.3" fill="#ffb000" transform="rotate(-52 232.2 12.7)"/>
<ellipse cx="232.3" cy="12.4" rx="3.7" ry="1.7" fill="#ffb000" transform="rotate(-67 232.3 12.4)"/>
<ellipse cx="223.6" cy="31.6" rx="2.3" ry="1.5" fill="#ff7010" transform="rotate(-68 223.6 31.6)"/>
<ellipse cx="214.6" cy="15.6" rx="2.8" ry="2.5" fill="#f0e000" transform="rotate(-52 214.6 15.6)"/>
<ellipse cx="220.0" cy="1.3" rx="4.3" ry="1.7" fill="#ffb000" transform="rotate(-65 220.0 1.3)"/>
<ellipse cx="211.5" cy="32.8" rx="3.4" ry="2.1" fill="#ff7010" transform="rotate(-67 211.5 32.8)"/>
<ellipse cx="226.1" cy="22.7" rx="2.4" ry="1.9" fill="#f0e000" transform="rotate(-60 226.1 22.7)"/>
<ellipse cx="212.1" cy="31.1" rx="3.0" ry="2.2" fill="#f0e000" transform="rotate(-56 212.1 31.1)"/>
<ellipse cx="219.7" cy="25.8" rx="2.2" ry="1.9" fill="#ffb000" transform="rotate(-61 219.7 25.8)"/>
<ellipse cx="210.7" cy="32.1" rx="2.9" ry="2.8" fill="#ffa000" transform="rotate(-54 210.7 32.1)"/>
<ellipse cx="217.3" cy="19.6" rx="3.5" ry="2.9" fill="#ffa000" transform="rotate(-61 217.3 19.6)"/>
<ellipse cx="226.8" cy="22.4" rx="3.2" ry="2.1" fill="#f0e000" transform="rotate(-53 226.8 22.4)"/>
<ellipse cx="232.0" cy="11.8" rx="3.0" ry="2.8" fill="#ff7010" transform="rotate(-58 232.0 11.8)"/>
<ellipse cx="220.2" cy="9.4" rx="3.7" ry="5.3" fill="#f03010" transform="rotate(10 220.2 9.4)"/>
<ellipse cx="229.7" cy="-0.2" rx="2.7" ry="2.1" fill="#f05010"/>
<path d="M218.1 20.0 L233.9 17.8 L234.5 32.7 L222.3 34.8 L212.8 32.7Z" fill="#f8e000" stroke="#f8e000" stroke-width="2.0" stroke-linejoin="round"/>
<circle cx="214.4" cy="25.5" r="3.6" fill="#1040f0"/>
<circle cx="220.2" cy="20.0" r="3.6" fill="#30a0f0"/>
<path d="M196.9 39.0 L211.7 37.4 L211.7 62.3 L204.3 62.3 L197.9 55.9 L193.7 51.7 L192.7 45.4Z" fill="#ffa020" stroke="#ffa020" stroke-width="2.0" stroke-linejoin="round"/>
<ellipse cx="200.3" cy="39.0" rx="4.5" ry="1.9" fill="#ff8010" transform="rotate(-41 200.3 39.0)"/>
<ellipse cx="200.0" cy="49.0" rx="3.3" ry="1.8" fill="#ff8010" transform="rotate(-48 200.0 49.0)"/>
<ellipse cx="199.2" cy="41.3" rx="2.3" ry="1.8" fill="#ffc030" transform="rotate(-44 199.2 41.3)"/>
<ellipse cx="203.2" cy="49.0" rx="2.7" ry="1.9" fill="#ffc030" transform="rotate(-42 203.2 49.0)"/>
<ellipse cx="206.4" cy="46.8" rx="2.6" ry="2.5" fill="#e0e040" transform="rotate(-32 206.4 46.8)"/>
<ellipse cx="205.5" cy="60.9" rx="3.8" ry="1.9" fill="#e0e040" transform="rotate(-37 205.5 60.9)"/>
<ellipse cx="202.8" cy="47.5" rx="2.4" ry="2.3" fill="#ffc030" transform="rotate(-32 202.8 47.5)"/>
<ellipse cx="206.7" cy="56.4" rx="4.2" ry="1.6" fill="#ff8010" transform="rotate(-48 206.7 56.4)"/>
<ellipse cx="200.1" cy="39.6" rx="4.6" ry="1.8" fill="#ff8010" transform="rotate(-45 200.1 39.6)"/>
<ellipse cx="208.0" cy="56.3" rx="4.2" ry="1.6" fill="#ff8010" transform="rotate(-39 208.0 56.3)"/>
<ellipse cx="206.4" cy="41.1" rx="2.3" ry="3.0" fill="#f03010"/>
<path d="M176.8 52.8 L193.7 50.7 L197.9 57.0 L191.6 60.7 L176.8 60.2Z" fill="#b8f048" stroke="#b8f048" stroke-width="2.0" stroke-linejoin="round"/>
<ellipse cx="183.1" cy="55.9" rx="4.3" ry="2.7" fill="#80f080"/>
<path d="M212.8 39.0 L229.7 36.9 L233.9 43.2 L229.7 57.0 L213.8 58.1Z" fill="#ffb020" stroke="#ffb020" stroke-width="1.5" stroke-linejoin="round"/>
<ellipse cx="215.4" cy="52.1" rx="4.2" ry="1.9" fill="#2050e0" transform="rotate(31 215.4 52.1)"/>
<ellipse cx="220.5" cy="53.8" rx="5.7" ry="1.0" fill="#ff8010" transform="rotate(41 220.5 53.8)"/>
<ellipse cx="218.0" cy="54.8" rx="4.9" ry="1.2" fill="#2050e0" transform="rotate(30 218.0 54.8)"/>
<ellipse cx="218.5" cy="49.8" rx="5.0" ry="1.4" fill="#2050e0" transform="rotate(32 218.5 49.8)"/>
<ellipse cx="221.9" cy="52.9" rx="5.2" ry="1.6" fill="#2050e0" transform="rotate(32 221.9 52.9)"/>
<ellipse cx="224.7" cy="41.7" rx="4.6" ry="1.9" fill="#f0e000" transform="rotate(38 224.7 41.7)"/>
<ellipse cx="228.9" cy="50.8" rx="5.6" ry="1.6" fill="#3070f0" transform="rotate(28 228.9 50.8)"/>
<ellipse cx="213.6" cy="43.6" rx="4.0" ry="1.9" fill="#ff8010" transform="rotate(40 213.6 43.6)"/>
<ellipse cx="227.5" cy="45.2" rx="5.5" ry="1.3" fill="#ff8010" transform="rotate(29 227.5 45.2)"/>
<ellipse cx="220.2" cy="57.0" rx="4.0" ry="1.5" fill="#f0e000" transform="rotate(41 220.2 57.0)"/>
<ellipse cx="223.5" cy="51.2" rx="5.0" ry="1.8" fill="#2050e0" transform="rotate(31 223.5 51.2)"/>
<ellipse cx="223.1" cy="40.9" rx="5.5" ry="1.6" fill="#3070f0" transform="rotate(32 223.1 40.9)"/>
<ellipse cx="226.3" cy="48.4" rx="3.2" ry="1.4" fill="#2050e0" transform="rotate(40 226.3 48.4)"/>
<ellipse cx="214.7" cy="50.4" rx="5.1" ry="1.5" fill="#2050e0" transform="rotate(42 214.7 50.4)"/>
<ellipse cx="217.8" cy="42.0" rx="4.3" ry="1.9" fill="#f0e000" transform="rotate(38 217.8 42.0)"/>
<ellipse cx="227.6" cy="39.7" rx="4.8" ry="1.2" fill="#ff8010" transform="rotate(30 227.6 39.7)"/>
<ellipse cx="224.4" cy="53.0" rx="5.0" ry="1.6" fill="#2050e0" transform="rotate(41 224.4 53.0)"/>
<ellipse cx="230.5" cy="45.5" rx="5.1" ry="1.0" fill="#2050e0" transform="rotate(42 230.5 45.5)"/>
<ellipse cx="218.7" cy="41.1" rx="4.3" ry="1.1" fill="#ff8010" transform="rotate(37 218.7 41.1)"/>
<ellipse cx="222.2" cy="48.9" rx="4.7" ry="1.0" fill="#2050e0" transform="rotate(41 222.2 48.9)"/>
<ellipse cx="214.5" cy="52.1" rx="4.7" ry="1.1" fill="#3070f0" transform="rotate(42 214.5 52.1)"/>
<ellipse cx="229.4" cy="43.7" rx="3.3" ry="1.3" fill="#2050e0" transform="rotate(35 229.4 43.7)"/>
<ellipse cx="226.6" cy="38.5" rx="3.1" ry="1.4" fill="#ff8010" transform="rotate(31 226.6 38.5)"/>
<ellipse cx="219.0" cy="40.8" rx="5.5" ry="1.9" fill="#ff8010" transform="rotate(32 219.0 40.8)"/>
<ellipse cx="214.9" cy="52.1" rx="4.9" ry="1.4" fill="#2050e0" transform="rotate(38 214.9 52.1)"/>
<ellipse cx="219.6" cy="44.7" rx="4.1" ry="1.8" fill="#f0e000" transform="rotate(34 219.6 44.7)"/>
<ellipse cx="214.0" cy="39.2" rx="5.8" ry="2.0" fill="#3070f0" transform="rotate(39 214.0 39.2)"/>
<ellipse cx="223.2" cy="47.5" rx="3.9" ry="1.6" fill="#2050e0" transform="rotate(29 223.2 47.5)"/>
<ellipse cx="215.8" cy="41.7" rx="4.9" ry="1.4" fill="#2050e0" transform="rotate(28 215.8 41.7)"/>
<ellipse cx="230.8" cy="47.0" rx="4.1" ry="1.0" fill="#2050e0" transform="rotate(43 230.8 47.0)"/>
<path d="M100.0 58.6 L140.8 58.6 L162.0 64.9 L166.2 73.9 L183.1 79.2 L192.7 77.1 L193.7 88.8 L189.5 102.5 L187.4 109.9 L176.8 117.4 L162.0 109.9 L149.2 117.4 L136.5 120.5 L113.3 119.5 L97.4 123.7 L95.8 99.4Z" fill="#0c14e0" stroke="#0c14e0" stroke-width="3.0" stroke-linejoin="round"/>
<ellipse cx="137.4" cy="77.0" rx="6.6" ry="1.4" fill="#1838e8" transform="rotate(-25 137.4 77.0)"/>
<ellipse cx="101.9" cy="59.2" rx="4.9" ry="1.7" fill="#3070f0" transform="rotate(-23 101.9 59.2)"/>
<ellipse cx="124.7" cy="87.4" rx="5.7" ry="1.2" fill="#0000c8" transform="rotate(-33 124.7 87.4)"/>
<ellipse cx="148.9" cy="92.2" rx="6.7" ry="1.6" fill="#0000c8" transform="rotate(-31 148.9 92.2)"/>
<ellipse cx="156.5" cy="111.4" rx="7.4" ry="1.6" fill="#2050f0" transform="rotate(-26 156.5 111.4)"/>
<ellipse cx="151.1" cy="86.0" rx="7.3" ry="1.1" fill="#0000c8" transform="rotate(-25 151.1 86.0)"/>
<ellipse cx="147.7" cy="99.9" rx="5.1" ry="1.7" fill="#1838e8" transform="rotate(-33 147.7 99.9)"/>
<ellipse cx="110.2" cy="96.3" rx="8.7" ry="1.4" fill="#0000c8" transform="rotate(-28 110.2 96.3)"/>
<ellipse cx="151.1" cy="84.4" rx="4.9" ry="1.9" fill="#2050f0" transform="rotate(-18 151.1 84.4)"/>
<ellipse cx="177.8" cy="100.9" rx="7.4" ry="1.7" fill="#2050f0" transform="rotate(-28 177.8 100.9)"/>
<ellipse cx="150.0" cy="73.3" rx="4.6" ry="1.5" fill="#0000c8" transform="rotate(-17 150.0 73.3)"/>
<ellipse cx="151.3" cy="114.0" rx="8.0" ry="1.1" fill="#1838e8" transform="rotate(-19 151.3 114.0)"/>
<ellipse cx="149.7" cy="105.1" rx="4.6" ry="2.0" fill="#1838e8" transform="rotate(-19 149.7 105.1)"/>
<ellipse cx="105.8" cy="112.7" rx="4.9" ry="2.0" fill="#0000c8" transform="rotate(-17 105.8 112.7)"/>
<ellipse cx="142.3" cy="64.7" rx="7.1" ry="1.4" fill="#0000c8" transform="rotate(-34 142.3 64.7)"/>
<ellipse cx="132.2" cy="59.6" rx="5.1" ry="1.3" fill="#0000c8" transform="rotate(-31 132.2 59.6)"/>
<ellipse cx="137.5" cy="116.5" rx="8.4" ry="1.6" fill="#1838e8" transform="rotate(-24 137.5 116.5)"/>
<ellipse cx="112.2" cy="107.1" rx="7.8" ry="1.7" fill="#0000c8" transform="rotate(-27 112.2 107.1)"/>
<ellipse cx="107.8" cy="82.9" rx="8.7" ry="1.7" fill="#1838e8" transform="rotate(-34 107.8 82.9)"/>
<ellipse cx="175.7" cy="81.6" rx="5.6" ry="1.6" fill="#0000c8" transform="rotate(-34 175.7 81.6)"/>
<ellipse cx="186.4" cy="102.6" rx="5.0" ry="1.4" fill="#2050f0" transform="rotate(-17 186.4 102.6)"/>
<ellipse cx="138.9" cy="110.1" rx="4.4" ry="1.3" fill="#0000c8" transform="rotate(-31 138.9 110.1)"/>
<ellipse cx="150.1" cy="77.5" rx="5.9" ry="1.1" fill="#1838e8" transform="rotate(-27 150.1 77.5)"/>
<ellipse cx="148.5" cy="103.5" rx="8.7" ry="1.0" fill="#1838e8" transform="rotate(-25 148.5 103.5)"/>
<ellipse cx="193.2" cy="90.3" rx="4.2" ry="1.8" fill="#0000c8" transform="rotate(-33 193.2 90.3)"/>
<ellipse cx="113.6" cy="111.9" rx="6.0" ry="1.5" fill="#1838e8" transform="rotate(-30 113.6 111.9)"/>
<ellipse cx="163.6" cy="87.8" rx="8.8" ry="1.5" fill="#2050f0" transform="rotate(-24 163.6 87.8)"/>
<ellipse cx="128.0" cy="72.7" rx="6.9" ry="1.0" fill="#1838e8" transform="rotate(-30 128.0 72.7)"/>
<ellipse cx="176.0" cy="105.9" rx="6.3" ry="1.9" fill="#0000c8" transform="rotate(-25 176.0 105.9)"/>
<ellipse cx="96.4" cy="96.3" rx="4.1" ry="1.5" fill="#0000c8" transform="rotate(-16 96.4 96.3)"/>
<ellipse cx="100.2" cy="68.1" rx="5.4" ry="1.3" fill="#1838e8" transform="rotate(-19 100.2 68.1)"/>
<ellipse cx="192.9" cy="81.8" rx="6.9" ry="1.1" fill="#0000c8" transform="rotate(-34 192.9 81.8)"/>
<ellipse cx="105.1" cy="71.6" rx="6.9" ry="1.1" fill="#0000c8" transform="rotate(-26 105.1 71.6)"/>
<ellipse cx="102.8" cy="121.3" rx="5.8" ry="1.9" fill="#0000c8" transform="rotate(-28 102.8 121.3)"/>
<ellipse cx="130.1" cy="94.5" rx="4.3" ry="1.3" fill="#0000c8" transform="rotate(-25 130.1 94.5)"/>
<ellipse cx="182.3" cy="109.5" rx="8.5" ry="1.8" fill="#0000c8" transform="rotate(-24 182.3 109.5)"/>
<ellipse cx="110.6" cy="72.0" rx="7.4" ry="1.4" fill="#1838e8" transform="rotate(-23 110.6 72.0)"/>
<ellipse cx="151.5" cy="78.3" rx="4.3" ry="1.3" fill="#2050f0" transform="rotate(-26 151.5 78.3)"/>
<ellipse cx="120.5" cy="95.8" rx="8.8" ry="1.1" fill="#1838e8" transform="rotate(-29 120.5 95.8)"/>
<ellipse cx="152.9" cy="63.8" rx="6.9" ry="2.0" fill="#2050f0" transform="rotate(-24 152.9 63.8)"/>
<ellipse cx="177.9" cy="79.4" rx="8.5" ry="1.5" fill="#2050f0" transform="rotate(-30 177.9 79.4)"/>
<ellipse cx="157.1" cy="74.0" rx="4.2" ry="1.4" fill="#2050f0" transform="rotate(-16 157.1 74.0)"/>
<ellipse cx="123.5" cy="91.3" rx="5.2" ry="1.1" fill="#2050f0" transform="rotate(-31 123.5 91.3)"/>
<ellipse cx="154.6" cy="63.8" rx="8.4" ry="1.3" fill="#1838e8" transform="rotate(-31 154.6 63.8)"/>
<ellipse cx="127.4" cy="60.4" rx="8.3" ry="1.0" fill="#0000c8" transform="rotate(-20 127.4 60.4)"/>
<ellipse cx="135.5" cy="102.8" rx="4.3" ry="1.4" fill="#0000c8" transform="rotate(-34 135.5 102.8)"/>
<ellipse cx="104.3" cy="98.5" rx="8.9" ry="1.4" fill="#1838e8" transform="rotate(-21 104.3 98.5)"/>
<ellipse cx="126.8" cy="101.2" rx="6.1" ry="1.7" fill="#0000c8" transform="rotate(-25 126.8 101.2)"/>
<ellipse cx="111.1" cy="59.8" rx="6.6" ry="1.8" fill="#2050f0" transform="rotate(-24 111.1 59.8)"/>
<ellipse cx="175.5" cy="86.2" rx="6.9" ry="1.6" fill="#0000c8" transform="rotate(-16 175.5 86.2)"/>
<ellipse cx="152.1" cy="73.6" rx="8.1" ry="1.5" fill="#1838e8" transform="rotate(-34 152.1 73.6)"/>
<ellipse cx="171.8" cy="78.7" rx="8.9" ry="1.5" fill="#1838e8" transform="rotate(-27 171.8 78.7)"/>
<ellipse cx="131.2" cy="93.1" rx="5.3" ry="1.6" fill="#2050f0" transform="rotate(-32 131.2 93.1)"/>
<ellipse cx="160.0" cy="109.0" rx="8.9" ry="1.2" fill="#0000c8" transform="rotate(-33 160.0 109.0)"/>
<ellipse cx="187.5" cy="99.3" rx="6.7" ry="1.2" fill="#2050f0" transform="rotate(-30 187.5 99.3)"/>
<ellipse cx="121.2" cy="98.1" rx="8.5" ry="1.9" fill="#1838e8" transform="rotate(-30 121.2 98.1)"/>
<ellipse cx="147.5" cy="81.4" rx="6.2" ry="1.9" fill="#1838e8" transform="rotate(-29 147.5 81.4)"/>
<ellipse cx="158.1" cy="81.0" rx="6.3" ry="1.3" fill="#1838e8" transform="rotate(-35 158.1 81.0)"/>
<ellipse cx="106.3" cy="106.3" rx="7.2" ry="1.4" fill="#2050f0" transform="rotate(-24 106.3 106.3)"/>
<ellipse cx="101.7" cy="95.3" rx="8.6" ry="1.9" fill="#0000c8" transform="rotate(-15 101.7 95.3)"/>
<ellipse cx="97.8" cy="104.8" rx="5.8" ry="1.3" fill="#2050f0" transform="rotate(-22 97.8 104.8)"/>
<ellipse cx="158.7" cy="78.0" rx="5.1" ry="1.6" fill="#3070f0" transform="rotate(-30 158.7 78.0)"/>
<ellipse cx="109.2" cy="78.1" rx="4.0" ry="1.9" fill="#2050f0" transform="rotate(-28 109.2 78.1)"/>
<ellipse cx="111.6" cy="103.1" rx="6.3" ry="1.6" fill="#0000c8" transform="rotate(-29 111.6 103.1)"/>
<ellipse cx="179.2" cy="106.5" rx="7.9" ry="1.4" fill="#2050f0" transform="rotate(-22 179.2 106.5)"/>
<ellipse cx="124.9" cy="60.2" rx="8.9" ry="1.0" fill="#2050f0" transform="rotate(-26 124.9 60.2)"/>
<ellipse cx="110.6" cy="106.5" rx="4.8" ry="1.7" fill="#2050f0" transform="rotate(-33 110.6 106.5)"/>
<ellipse cx="136.3" cy="100.4" rx="6.0" ry="1.3" fill="#1838e8" transform="rotate(-34 136.3 100.4)"/>
<ellipse cx="153.1" cy="71.7" rx="4.1" ry="1.1" fill="#1838e8" transform="rotate(-16 153.1 71.7)"/>
<ellipse cx="118.5" cy="86.6" rx="4.1" ry="2.0" fill="#2050f0" transform="rotate(-25 118.5 86.6)"/>
<path d="M168.3 64.4 L183.1 64.4 L183.1 72.9 L174.7 75.5 L168.3 75.5Z" fill="#30a8f0" stroke="#30a8f0" stroke-width="2.0" stroke-linejoin="round"/>
<ellipse cx="169.3" cy="65.6" rx="6.9" ry="1.4" fill="#80e0a0" transform="rotate(20 169.3 65.6)"/>
<ellipse cx="171.0" cy="72.0" rx="6.0" ry="1.4" fill="#30d0e0" transform="rotate(23 171.0 72.0)"/>
<ellipse cx="176.2" cy="73.8" rx="3.3" ry="1.8" fill="#80e0a0" transform="rotate(27 176.2 73.8)"/>
<ellipse cx="179.1" cy="67.5" rx="4.1" ry="1.0" fill="#30d0e0" transform="rotate(21 179.1 67.5)"/>
<ellipse cx="171.2" cy="64.9" rx="6.8" ry="1.1" fill="#2070f0" transform="rotate(30 171.2 64.9)"/>
<ellipse cx="178.5" cy="71.7" rx="5.2" ry="1.5" fill="#2070f0" transform="rotate(28 178.5 71.7)"/>
<ellipse cx="174.2" cy="68.0" rx="6.9" ry="1.2" fill="#2070f0" transform="rotate(32 174.2 68.0)"/>
<ellipse cx="181.4" cy="73.4" rx="5.5" ry="1.1" fill="#80e0a0" transform="rotate(36 181.4 73.4)"/>
<ellipse cx="182.0" cy="67.2" rx="4.5" ry="1.1" fill="#2070f0" transform="rotate(26 182.0 67.2)"/>
<ellipse cx="178.1" cy="65.4" rx="3.1" ry="1.5" fill="#2070f0" transform="rotate(32 178.1 65.4)"/>
<ellipse cx="174.7" cy="78.2" rx="4.8" ry="2.3" fill="#80f080" transform="rotate(20 174.7 78.2)"/>
<ellipse cx="173.6" cy="99.4" rx="2.3" ry="3.7" fill="#40e0c0"/>
<ellipse cx="173.4" cy="100.4" rx="1.1" ry="1.9" fill="#e0e040"/>
<ellipse cx="122.8" cy="112.1" rx="6.4" ry="1.9" fill="#40f0c0" transform="rotate(20 122.8 112.1)"/>
<ellipse cx="132.3" cy="114.2" rx="3.7" ry="0.9" fill="#f08030" transform="rotate(15 132.3 114.2)"/>
<ellipse cx="162.0" cy="104.1" rx="3.2" ry="0.9" fill="#f09030"/>
<path d="M162.0 108.9 L174.7 109.9 L185.2 113.1 L183.1 120.5 L176.8 125.3 L168.3 118.4Z" fill="#ffb000" stroke="#ffb000" stroke-width="2.0" stroke-linejoin="round"/>
<ellipse cx="178.1" cy="114.2" rx="3.6" ry="1.3" fill="#ff8010" transform="rotate(27 178.1 114.2)"/>
<ellipse cx="173.0" cy="119.5" rx="3.0" ry="1.5" fill="#ff8010" transform="rotate(39 173.0 119.5)"/>
<ellipse cx="179.3" cy="115.1" rx="3.2" ry="1.5" fill="#ff8010" transform="rotate(37 179.3 115.1)"/>
<ellipse cx="177.4" cy="124.0" rx="2.8" ry="1.8" fill="#ffd020" transform="rotate(38 177.4 124.0)"/>
<ellipse cx="174.1" cy="116.7" rx="2.4" ry="1.9" fill="#f0e000" transform="rotate(43 174.1 116.7)"/>
<ellipse cx="170.4" cy="112.2" rx="3.1" ry="1.7" fill="#f0e000" transform="rotate(31 170.4 112.2)"/>
<ellipse cx="181.1" cy="116.4" rx="4.5" ry="1.9" fill="#ff8010" transform="rotate(28 181.1 116.4)"/>
<ellipse cx="169.5" cy="114.8" rx="3.3" ry="1.4" fill="#ffd020" transform="rotate(35 169.5 114.8)"/>
<ellipse cx="170.7" cy="114.9" rx="3.6" ry="1.3" fill="#ff8010" transform="rotate(29 170.7 114.9)"/>
<ellipse cx="168.4" cy="113.7" rx="2.3" ry="1.6" fill="#ff8010" transform="rotate(32 168.4 113.7)"/>
<ellipse cx="177.8" cy="114.9" rx="2.7" ry="1.4" fill="#ff8010" transform="rotate(37 177.8 114.9)"/>
<ellipse cx="180.6" cy="113.0" rx="2.0" ry="1.3" fill="#ff8010" transform="rotate(32 180.6 113.0)"/>
<ellipse cx="169.1" cy="117.8" rx="2.8" ry="1.3" fill="#ffd020" transform="rotate(41 169.1 117.8)"/>
<ellipse cx="182.0" cy="112.2" rx="4.4" ry="1.6" fill="#f0e000" transform="rotate(38 182.0 112.2)"/>
<path d="M145.0 118.4 L162.0 111.0 L176.8 126.9 L166.2 136.4 L153.5 131.1Z" fill="#0000c8" stroke="#0000c8" stroke-width="2.0" stroke-linejoin="round"/>
<ellipse cx="158.7" cy="126.4" rx="3.7" ry="1.3" fill="#f08030" transform="rotate(6 158.7 126.4)"/>
<ellipse cx="156.8" cy="127.9" rx="3.2" ry="1.3" fill="#f08030" transform="rotate(14 156.8 127.9)"/>
<ellipse cx="157.5" cy="121.5" rx="4.9" ry="1.3" fill="#2040e0" transform="rotate(5 157.5 121.5)"/>
<ellipse cx="163.8" cy="122.8" rx="5.5" ry="1.0" fill="#e06020" transform="rotate(17 163.8 122.8)"/>
<ellipse cx="157.6" cy="114.4" rx="3.0" ry="0.9" fill="#2040e0" transform="rotate(8 157.6 114.4)"/>
<ellipse cx="166.6" cy="125.1" rx="5.3" ry="0.9" fill="#2040e0" transform="rotate(9 166.6 125.1)"/>
<ellipse cx="171.9" cy="125.5" rx="4.5" ry="1.3" fill="#f08030" transform="rotate(8 171.9 125.5)"/>
<ellipse cx="162.9" cy="112.4" rx="5.1" ry="1.1" fill="#e06020" transform="rotate(3 162.9 112.4)"/>
<ellipse cx="162.5" cy="130.0" rx="3.4" ry="1.0" fill="#2040e0" transform="rotate(3 162.5 130.0)"/>
<ellipse cx="155.6" cy="124.2" rx="6.0" ry="1.0" fill="#f08030" transform="rotate(10 155.6 124.2)"/>
<ellipse cx="147.8" cy="120.8" rx="3.9" ry="1.0" fill="#e06020" transform="rotate(15 147.8 120.8)"/>
<ellipse cx="166.6" cy="118.8" rx="4.1" ry="1.1" fill="#f08030" transform="rotate(10 166.6 118.8)"/>
<ellipse cx="154.7" cy="114.3" rx="5.0" ry="1.4" fill="#f08030" transform="rotate(17 154.7 114.3)"/>
<ellipse cx="159.5" cy="129.0" rx="5.2" ry="0.8" fill="#e06020" transform="rotate(4 159.5 129.0)"/>
<ellipse cx="158.0" cy="125.4" rx="3.8" ry="1.3" fill="#f08030" transform="rotate(11 158.0 125.4)"/>
<ellipse cx="151.4" cy="116.3" rx="4.8" ry="1.0" fill="#2040e0" transform="rotate(16 151.4 116.3)"/>
<path d="M136.5 124.8 L149.2 120.5 L159.8 133.2 L162.0 141.7 L155.6 148.1 L145.0 143.8 L138.7 135.4Z" fill="#0000c0" stroke="#0000c0" stroke-width="3.0" stroke-linejoin="round"/>
<circle cx="99.5" cy="123.2" r="4.0" fill="#80f060"/>
<circle cx="104.3" cy="127.9" r="4.0" fill="#2090f0"/>
<circle cx="108.0" cy="123.2" r="4.0" fill="#c0f050"/>
<circle cx="112.2" cy="126.9" r="4.0" fill="#1030e0"/>
<circle cx="118.5" cy="127.1" r="4.0" fill="#e03010"/>
<circle cx="126.0" cy="124.8" r="4.0" fill="#1030e0"/>
<circle cx="132.3" cy="122.9" r="4.0" fill="#e0f040"/>
<circle cx="131.2" cy="132.2" r="4.0" fill="#1030e0"/>
<circle cx="138.7" cy="122.6" r="4.0" fill="#e0f040"/>
<circle cx="189.5" cy="79.2" r="4.0" fill="#1020e0"/>
<circle cx="215.9" cy="81.9" r="4.0" fill="#1030e0"/>
<circle cx="211.7" cy="79.2" r="4.0" fill="#1838e8"/>
<circle cx="223.4" cy="94.6" r="4.0" fill="#1020e0"/>
<circle cx="208.5" cy="82.9" r="4.0" fill="#ff9020"/>
<circle cx="204.3" cy="89.8" r="4.0" fill="#80f0a0"/>
<circle cx="231.8" cy="103.1" r="4.0" fill="#ff8020"/>
<circle cx="197.9" cy="73.9" r="4.0" fill="#1838e8"/>
<path d="M196.9 94.1 L213.8 93.0 L233.9 107.8 L235.0 133.2 L227.6 135.4 L208.5 131.1 L200.1 117.4 L197.9 107.8Z" fill="#1020e0" stroke="#1020e0" stroke-width="3.0" stroke-linejoin="round"/>
<ellipse cx="204.7" cy="101.6" rx="7.3" ry="1.3" fill="#ff7020" transform="rotate(34 204.7 101.6)"/>
<ellipse cx="219.6" cy="100.6" rx="5.8" ry="2.0" fill="#2050f0" transform="rotate(45 219.6 100.6)"/>
<ellipse cx="205.3" cy="123.5" rx="7.0" ry="1.7" fill="#0000c8" transform="rotate(35 205.3 123.5)"/>
<ellipse cx="204.8" cy="97.3" rx="6.9" ry="2.2" fill="#ff7020" transform="rotate(43 204.8 97.3)"/>
<ellipse cx="223.8" cy="111.7" rx="7.3" ry="2.1" fill="#30a0f0" transform="rotate(34 223.8 111.7)"/>
<ellipse cx="208.1" cy="102.9" rx="4.6" ry="1.8" fill="#0000c8" transform="rotate(34 208.1 102.9)"/>
<ellipse cx="208.7" cy="103.9" rx="4.1" ry="2.1" fill="#0000c8" transform="rotate(37 208.7 103.9)"/>
<ellipse cx="211.8" cy="94.4" rx="6.2" ry="1.4" fill="#30a0f0" transform="rotate(32 211.8 94.4)"/>
<ellipse cx="204.4" cy="99.3" rx="4.7" ry="1.6" fill="#ff7020" transform="rotate(31 204.4 99.3)"/>
<ellipse cx="232.7" cy="115.3" rx="4.7" ry="2.0" fill="#30a0f0" transform="rotate(45 232.7 115.3)"/>
<ellipse cx="230.8" cy="131.7" rx="4.4" ry="1.5" fill="#ff7020" transform="rotate(32 230.8 131.7)"/>
<ellipse cx="204.6" cy="112.9" rx="6.8" ry="2.1" fill="#80f0a0" transform="rotate(39 204.6 112.9)"/>
<ellipse cx="232.9" cy="120.8" rx="4.7" ry="1.6" fill="#ff7020" transform="rotate(37 232.9 120.8)"/>
<ellipse cx="209.5" cy="108.4" rx="7.2" ry="2.0" fill="#ff7020" transform="rotate(44 209.5 108.4)"/>
<ellipse cx="200.5" cy="116.4" rx="6.0" ry="1.7" fill="#80f0a0" transform="rotate(31 200.5 116.4)"/>
<ellipse cx="212.6" cy="122.5" rx="7.2" ry="1.3" fill="#30a0f0" transform="rotate(35 212.6 122.5)"/>
<ellipse cx="210.6" cy="121.1" rx="3.0" ry="1.8" fill="#ff7020" transform="rotate(45 210.6 121.1)"/>
<ellipse cx="208.5" cy="104.1" rx="4.2" ry="1.4" fill="#ff7020" transform="rotate(38 208.5 104.1)"/>
<ellipse cx="217.3" cy="98.0" rx="3.8" ry="1.7" fill="#30a0f0" transform="rotate(46 217.3 98.0)"/>
<ellipse cx="207.7" cy="116.5" rx="7.5" ry="1.9" fill="#2050f0" transform="rotate(46 207.7 116.5)"/>
<ellipse cx="206.0" cy="97.0" rx="3.3" ry="2.0" fill="#ff7020" transform="rotate(36 206.0 97.0)"/>
<ellipse cx="223.1" cy="102.7" rx="3.8" ry="1.5" fill="#80f0a0" transform="rotate(30 223.1 102.7)"/>
<ellipse cx="213.1" cy="119.4" rx="5.8" ry="1.3" fill="#ff7020" transform="rotate(36 213.1 119.4)"/>
<ellipse cx="205.8" cy="118.2" rx="6.6" ry="1.3" fill="#80f0a0" transform="rotate(37 205.8 118.2)"/>
<ellipse cx="199.7" cy="107.3" rx="4.1" ry="2.0" fill="#ff7020" transform="rotate(35 199.7 107.3)"/>
<ellipse cx="227.9" cy="107.5" rx="5.3" ry="2.1" fill="#80f0a0" transform="rotate(30 227.9 107.5)"/>
<ellipse cx="216.4" cy="100.1" rx="6.9" ry="1.4" fill="#80f0a0" transform="rotate(37 216.4 100.1)"/>
<ellipse cx="223.0" cy="123.0" rx="3.0" ry="2.1" fill="#ff7020" transform="rotate(31 223.0 123.0)"/>
<ellipse cx="215.8" cy="126.0" rx="6.8" ry="1.8" fill="#2050f0" transform="rotate(36 215.8 126.0)"/>
<ellipse cx="210.8" cy="110.4" rx="7.9" ry="1.8" fill="#0000c8" transform="rotate(45 210.8 110.4)"/>
<ellipse cx="222.5" cy="124.6" rx="7.1" ry="2.1" fill="#ff7020" transform="rotate(31 222.5 124.6)"/>
<ellipse cx="225.3" cy="128.3" rx="6.0" ry="1.6" fill="#80f0a0" transform="rotate(46 225.3 128.3)"/>
<ellipse cx="226.9" cy="103.7" rx="4.2" ry="1.4" fill="#2050f0" transform="rotate(44 226.9 103.7)"/>
<ellipse cx="218.3" cy="130.2" rx="7.7" ry="2.1" fill="#0000c8" transform="rotate(31 218.3 130.2)"/>
<ellipse cx="211.8" cy="126.2" rx="6.4" ry="2.1" fill="#80f0a0" transform="rotate(42 211.8 126.2)"/>
<ellipse cx="212.4" cy="96.7" rx="7.2" ry="1.5" fill="#0000c8" transform="rotate(43 212.4 96.7)"/>
<ellipse cx="212.8" cy="118.6" rx="4.7" ry="1.4" fill="#30a0f0" transform="rotate(41 212.8 118.6)"/>
<ellipse cx="211.9" cy="112.7" rx="4.7" ry="2.2" fill="#ff7020" transform="rotate(35 211.9 112.7)"/>
<ellipse cx="223.6" cy="111.7" rx="7.0" ry="1.3" fill="#0000c8" transform="rotate(31 223.6 111.7)"/>
<ellipse cx="211.2" cy="131.0" rx="4.7" ry="1.4" fill="#30a0f0" transform="rotate(35 211.2 131.0)"/>
<ellipse cx="220.1" cy="130.9" rx="5.5" ry="2.2" fill="#30a0f0" transform="rotate(46 220.1 130.9)"/>
<ellipse cx="227.0" cy="118.7" rx="7.8" ry="1.6" fill="#2050f0" transform="rotate(30 227.0 118.7)"/>
<ellipse cx="232.9" cy="112.3" rx="4.3" ry="1.6" fill="#80f0a0" transform="rotate(33 232.9 112.3)"/>
<ellipse cx="234.4" cy="124.1" rx="6.3" ry="1.3" fill="#80f0a0" transform="rotate(38 234.4 124.1)"/>
<ellipse cx="220.7" cy="111.8" rx="4.8" ry="1.9" fill="#2050f0" transform="rotate(42 220.7 111.8)"/>
<ellipse cx="211.7" cy="121.6" rx="6.4" ry="7.5" fill="#ff6a10" transform="rotate(-15 211.7 121.6)"/>
<circle cx="203.2" cy="114.2" r="3.8" fill="#30a0f0"/>
<circle cx="222.3" cy="130.1" r="3.8" fill="#30a0f0"/>
<circle cx="229.7" cy="126.9" r="3.8" fill="#f09030"/>
<path d="M171.5 126.9 L187.4 122.6 L208.5 131.1 L235.0 139.6 L235.9 162.9 L233.9 166.1 L219.1 162.9 L204.3 158.6 L197.9 151.2 L187.4 143.8 L174.7 140.6 L170.4 135.4Z" fill="#0808d0" stroke="#0808d0" stroke-width="3.0" stroke-linejoin="round"/>
<ellipse cx="231.8" cy="157.7" rx="7.9" ry="1.5" fill="#2040f0" transform="rotate(17 231.8 157.7)"/>
<ellipse cx="215.1" cy="146.8" rx="8.5" ry="1.9" fill="#0000b8" transform="rotate(31 215.1 146.8)"/>
<ellipse cx="172.7" cy="136.8" rx="9.7" ry="1.9" fill="#2040f0" transform="rotate(21 172.7 136.8)"/>
<ellipse cx="234.7" cy="149.9" rx="8.6" ry="1.0" fill="#2040f0" transform="rotate(30 234.7 149.9)"/>
<ellipse cx="212.9" cy="157.6" rx="6.3" ry="2.0" fill="#1828e0" transform="rotate(28 212.9 157.6)"/>
<ellipse cx="215.6" cy="134.7" rx="7.5" ry="1.8" fill="#2040f0" transform="rotate(28 215.6 134.7)"/>
<ellipse cx="190.6" cy="145.2" rx="9.4" ry="1.6" fill="#1828e0" transform="rotate(29 190.6 145.2)"/>
<ellipse cx="221.3" cy="138.3" rx="5.6" ry="1.9" fill="#1828e0" transform="rotate(32 221.3 138.3)"/>
<ellipse cx="183.3" cy="136.6" rx="4.7" ry="1.3" fill="#0000b8" transform="rotate(29 183.3 136.6)"/>
<ellipse cx="231.0" cy="149.7" rx="6.4" ry="1.2" fill="#0000b8" transform="rotate(27 231.0 149.7)"/>
<ellipse cx="173.3" cy="134.8" rx="8.0" ry="1.8" fill="#0000b8" transform="rotate(30 173.3 134.8)"/>
<ellipse cx="205.1" cy="135.2" rx="5.6" ry="1.8" fill="#0000b8" transform="rotate(18 205.1 135.2)"/>
<ellipse cx="205.2" cy="152.9" rx="7.6" ry="1.4" fill="#2040f0" transform="rotate(24 205.2 152.9)"/>
<ellipse cx="228.4" cy="160.7" rx="7.6" ry="1.8" fill="#2040f0" transform="rotate(20 228.4 160.7)"/>
<ellipse cx="222.1" cy="159.1" rx="7.0" ry="1.3" fill="#0000b8" transform="rotate(22 222.1 159.1)"/>
<ellipse cx="218.6" cy="140.6" rx="5.7" ry="1.2" fill="#30a0f0" transform="rotate(19 218.6 140.6)"/>
<ellipse cx="185.8" cy="141.4" rx="8.4" ry="1.8" fill="#2040f0" transform="rotate(21 185.8 141.4)"/>
<ellipse cx="219.8" cy="144.4" rx="9.4" ry="1.7" fill="#30a0f0" transform="rotate(29 219.8 144.4)"/>
<ellipse cx="216.5" cy="153.2" rx="5.7" ry="1.1" fill="#0000b8" transform="rotate(33 216.5 153.2)"/>
<ellipse cx="188.3" cy="131.9" rx="4.6" ry="1.7" fill="#2040f0" transform="rotate(19 188.3 131.9)"/>
<ellipse cx="188.4" cy="125.2" rx="7.3" ry="1.8" fill="#0000b8" transform="rotate(18 188.4 125.2)"/>
<ellipse cx="205.6" cy="142.9" rx="5.8" ry="1.9" fill="#0000b8" transform="rotate(27 205.6 142.9)"/>
<ellipse cx="205.1" cy="132.6" rx="8.9" ry="1.3" fill="#0000b8" transform="rotate(17 205.1 132.6)"/>
<ellipse cx="185.0" cy="130.2" rx="5.6" ry="1.4" fill="#1828e0" transform="rotate(25 185.0 130.2)"/>
<ellipse cx="217.8" cy="148.0" rx="7.1" ry="1.6" fill="#0000b8" transform="rotate(24 217.8 148.0)"/>
<ellipse cx="214.0" cy="160.9" rx="6.2" ry="1.5" fill="#2040f0" transform="rotate(25 214.0 160.9)"/>
<ellipse cx="215.1" cy="153.4" rx="6.1" ry="1.2" fill="#0000b8" transform="rotate(29 215.1 153.4)"/>
<ellipse cx="222.1" cy="154.9" rx="5.2" ry="1.8" fill="#1828e0" transform="rotate(26 222.1 154.9)"/>
<ellipse cx="230.6" cy="154.0" rx="4.4" ry="1.2" fill="#1828e0" transform="rotate(17 230.6 154.0)"/>
<ellipse cx="225.1" cy="150.5" rx="7.2" ry="1.6" fill="#1828e0" transform="rotate(22 225.1 150.5)"/>
<ellipse cx="207.4" cy="136.3" rx="4.6" ry="1.7" fill="#0000b8" transform="rotate(28 207.4 136.3)"/>
<ellipse cx="217.1" cy="156.2" rx="9.1" ry="1.4" fill="#0000b8" transform="rotate(32 217.1 156.2)"/>
<ellipse cx="192.5" cy="136.5" rx="9.9" ry="1.8" fill="#30a0f0" transform="rotate(33 192.5 136.5)"/>
<ellipse cx="207.3" cy="144.7" rx="5.5" ry="1.0" fill="#2040f0" transform="rotate(23 207.3 144.7)"/>
<ellipse cx="234.6" cy="141.6" rx="6.3" ry="1.8" fill="#1828e0" transform="rotate(30 234.6 141.6)"/>
<ellipse cx="224.7" cy="156.8" rx="4.3" ry="1.9" fill="#0000b8" transform="rotate(19 224.7 156.8)"/>
<ellipse cx="226.6" cy="137.3" rx="6.8" ry="1.8" fill="#0000b8" transform="rotate(23 226.6 137.3)"/>
<ellipse cx="170.9" cy="131.5" rx="9.3" ry="1.1" fill="#0000b8" transform="rotate(21 170.9 131.5)"/>
<ellipse cx="232.2" cy="141.7" rx="9.5" ry="1.7" fill="#0000b8" transform="rotate(31 232.2 141.7)"/>
<ellipse cx="220.3" cy="147.4" rx="9.2" ry="1.2" fill="#1828e0" transform="rotate(24 220.3 147.4)"/>
<ellipse cx="217.3" cy="143.0" rx="7.6" ry="1.1" fill="#1828e0" transform="rotate(32 217.3 143.0)"/>
<ellipse cx="185.4" cy="139.7" rx="8.9" ry="1.6" fill="#1828e0" transform="rotate(18 185.4 139.7)"/>
<ellipse cx="200.9" cy="140.1" rx="9.8" ry="1.8" fill="#30a0f0" transform="rotate(18 200.9 140.1)"/>
<ellipse cx="231.3" cy="150.4" rx="5.6" ry="1.2" fill="#30a0f0" transform="rotate(17 231.3 150.4)"/>
<ellipse cx="220.1" cy="160.9" rx="4.9" ry="1.5" fill="#2040f0" transform="rotate(33 220.1 160.9)"/>
<ellipse cx="191.6" cy="144.8" rx="6.3" ry="1.9" fill="#30a0f0" transform="rotate(19 191.6 144.8)"/>
<ellipse cx="226.1" cy="146.8" rx="7.0" ry="1.6" fill="#1828e0" transform="rotate(19 226.1 146.8)"/>
<ellipse cx="216.6" cy="151.4" rx="6.7" ry="1.7" fill="#0000b8" transform="rotate(23 216.6 151.4)"/>
<ellipse cx="223.5" cy="142.5" rx="7.9" ry="1.2" fill="#2040f0" transform="rotate(30 223.5 142.5)"/>
<ellipse cx="234.8" cy="149.2" rx="7.1" ry="1.7" fill="#2040f0" transform="rotate(19 234.8 149.2)"/>
<ellipse cx="218.2" cy="159.5" rx="4.6" ry="1.4" fill="#1828e0" transform="rotate(26 218.2 159.5)"/>
<ellipse cx="190.7" cy="135.5" rx="7.5" ry="1.3" fill="#0000b8" transform="rotate(23 190.7 135.5)"/>
<ellipse cx="209.6" cy="145.2" rx="6.4" ry="1.6" fill="#0000b8" transform="rotate(23 209.6 145.2)"/>
<ellipse cx="230.4" cy="154.5" rx="9.5" ry="1.8" fill="#1828e0" transform="rotate(17 230.4 154.5)"/>
<ellipse cx="230.0" cy="157.4" rx="7.7" ry="1.3" fill="#2040f0" transform="rotate(25 230.0 157.4)"/>
<ellipse cx="190.1" cy="137.8" rx="4.6" ry="1.4" fill="#2040f0" transform="rotate(32 190.1 137.8)"/>
<ellipse cx="220.3" cy="159.0" rx="8.5" ry="1.3" fill="#30a0f0" transform="rotate(24 220.3 159.0)"/>
<ellipse cx="192.7" cy="146.3" rx="8.9" ry="1.0" fill="#0000b8" transform="rotate(24 192.7 146.3)"/>
<ellipse cx="228.6" cy="157.1" rx="4.6" ry="1.8" fill="#0000b8" transform="rotate(27 228.6 157.1)"/>
<ellipse cx="198.2" cy="137.3" rx="4.7" ry="1.5" fill="#2040f0" transform="rotate(23 198.2 137.3)"/>
<path d="M165.1 141.2 L174.7 140.1 L187.4 143.3 L197.9 150.7 L203.2 158.1 L197.9 162.3 L183.1 160.2 L172.5 154.9 L164.1 149.6Z" fill="#ff6a10" stroke="#ff6a10" stroke-width="3.0" stroke-linejoin="round"/>
<ellipse cx="184.9" cy="154.6" rx="6.8" ry="1.9" fill="#f05010" transform="rotate(33 184.9 154.6)"/>
<ellipse cx="167.6" cy="144.8" rx="6.6" ry="1.5" fill="#ff8020" transform="rotate(25 167.6 144.8)"/>
<ellipse cx="181.0" cy="142.7" rx="5.4" ry="2.1" fill="#ffa030" transform="rotate(22 181.0 142.7)"/>
<ellipse cx="191.1" cy="156.7" rx="4.0" ry="1.8" fill="#ffa030" transform="rotate(17 191.1 156.7)"/>
<ellipse cx="189.2" cy="153.9" rx="6.0" ry="1.6" fill="#f05010" transform="rotate(19 189.2 153.9)"/>
<ellipse cx="187.5" cy="155.6" rx="3.3" ry="1.6" fill="#ff8020" transform="rotate(17 187.5 155.6)"/>
<ellipse cx="166.9" cy="141.8" rx="5.9" ry="2.1" fill="#f05010" transform="rotate(33 166.9 141.8)"/>
<ellipse cx="191.0" cy="146.2" rx="3.7" ry="1.6" fill="#ffa030" transform="rotate(26 191.0 146.2)"/>
<ellipse cx="179.5" cy="155.6" rx="7.0" ry="2.4" fill="#ff8020" transform="rotate(31 179.5 155.6)"/>
<ellipse cx="195.5" cy="155.0" rx="3.0" ry="1.7" fill="#ff8020" transform="rotate(19 195.5 155.0)"/>
<ellipse cx="187.1" cy="154.8" rx="3.6" ry="1.6" fill="#ff8020" transform="rotate(18 187.1 154.8)"/>
<ellipse cx="179.1" cy="154.6" rx="3.9" ry="1.6" fill="#f05010" transform="rotate(17 179.1 154.6)"/>
<ellipse cx="185.3" cy="144.0" rx="5.9" ry="1.9" fill="#ff8020" transform="rotate(22 185.3 144.0)"/>
<ellipse cx="184.6" cy="142.6" rx="6.2" ry="1.8" fill="#ff8020" transform="rotate(29 184.6 142.6)"/>
<ellipse cx="189.5" cy="159.8" rx="6.4" ry="1.7" fill="#ffa030" transform="rotate(32 189.5 159.8)"/>
<ellipse cx="174.4" cy="140.3" rx="4.5" ry="1.9" fill="#ff8020" transform="rotate(26 174.4 140.3)"/>
<ellipse cx="165.2" cy="149.9" rx="4.8" ry="2.2" fill="#ff8020" transform="rotate(19 165.2 149.9)"/>
<ellipse cx="179.9" cy="150.9" rx="6.6" ry="1.9" fill="#ffa030" transform="rotate(18 179.9 150.9)"/>
<ellipse cx="168.7" cy="141.6" rx="4.9" ry="2.4" fill="#ff8020" transform="rotate(18 168.7 141.6)"/>
<ellipse cx="166.9" cy="145.1" rx="5.3" ry="2.4" fill="#ffa030" transform="rotate(29 166.9 145.1)"/>
<path d="M173.6 141.7 L186.3 142.8 L188.4 147.0 L176.8 147.0Z" fill="#f0a820" stroke="#f0a820" stroke-width="2.0" stroke-linejoin="round"/>
<circle cx="199.0" cy="165.5" r="3.9" fill="#ff6a10"/>
<circle cx="206.4" cy="165.0" r="3.9" fill="#0808d0"/>
<circle cx="213.8" cy="162.6" r="3.9" fill="#30a0f0"/>
<circle cx="210.7" cy="169.8" r="3.9" fill="#ff7010"/>
<circle cx="217.5" cy="170.8" r="3.9" fill="#0808d0"/>
<circle cx="205.4" cy="169.8" r="3.9" fill="#0808d0"/>
<circle cx="228.7" cy="168.2" r="3.9" fill="#0808d0"/>
<circle cx="222.3" cy="165.5" r="3.9" fill="#f08040"/>
<circle cx="233.9" cy="165.5" r="3.9" fill="#0808d0"/>
<circle cx="175.7" cy="161.8" r="3.9" fill="#0808d0"/>
<circle cx="95.3" cy="151.8" r="3.9" fill="#ff7020"/>
<circle cx="113.3" cy="153.0" r="3.9" fill="#ff7020"/>
<circle cx="140.8" cy="154.9" r="3.9" fill="#ff6a10"/>
<circle cx="147.1" cy="157.1" r="3.9" fill="#ff6a10"/>
<circle cx="153.5" cy="158.1" r="3.9" fill="#ff6a10"/>
<circle cx="146.1" cy="149.1" r="3.9" fill="#0808d0"/>
<circle cx="104.3" cy="127.4" r="3.9" fill="#2090f0"/>
<circle cx="112.2" cy="127.4" r="3.9" fill="#1030e0"/>
<circle cx="118.5" cy="127.4" r="3.9" fill="#e03010"/>
<circle cx="127.0" cy="127.4" r="3.9" fill="#1030e0"/>
<circle cx="131.2" cy="133.8" r="3.9" fill="#1030e0"/></g>
<use href="#usmap"/>
</g>
<text x="1059.10" y="74.70" textLength="25.40" lengthAdjust="spacingAndGlyphs" font-size="12.60" font-weight="bold" fill="#262626">100</text>
<circle cx="1088.80" cy="62.40" r="1.5" fill="none" stroke="#262626" stroke-width="0.75"/>
<text x="1097.10" y="74.70" textLength="12.70" lengthAdjust="spacingAndGlyphs" font-size="12.60" font-weight="bold" fill="#262626">W</text>
<text x="1127.10" y="74.70" textLength="18.30" lengthAdjust="spacingAndGlyphs" font-size="12.60" font-weight="bold" fill="#262626">90</text>
<circle cx="1149.70" cy="62.40" r="1.5" fill="none" stroke="#262626" stroke-width="0.75"/>
<text x="1158.00" y="74.70" textLength="12.70" lengthAdjust="spacingAndGlyphs" font-size="12.60" font-weight="bold" fill="#262626">W</text>
<text x="1190.30" y="74.70" textLength="17.50" lengthAdjust="spacingAndGlyphs" font-size="12.60" font-weight="bold" fill="#262626">80</text>
<circle cx="1212.10" cy="62.40" r="1.5" fill="none" stroke="#262626" stroke-width="0.75"/>
<text x="1220.40" y="74.70" textLength="12.70" lengthAdjust="spacingAndGlyphs" font-size="12.60" font-weight="bold" fill="#262626">W</text>
<text x="1255.50" y="74.70" textLength="16.40" lengthAdjust="spacingAndGlyphs" font-size="12.60" font-weight="bold" fill="#262626">70</text>
<circle cx="1276.20" cy="62.40" r="1.5" fill="none" stroke="#262626" stroke-width="0.75"/>
<text x="1284.50" y="74.70" textLength="12.70" lengthAdjust="spacingAndGlyphs" font-size="12.60" font-weight="bold" fill="#262626">W</text>
<text x="988.60" y="112.70" textLength="16.30" lengthAdjust="spacingAndGlyphs" font-size="12.60" font-weight="bold" fill="#262626">48</text>
<circle cx="1009.30" cy="99.90" r="1.5" fill="none" stroke="#262626" stroke-width="0.75"/>
<text x="1016.90" y="112.70" textLength="10.10" lengthAdjust="spacingAndGlyphs" font-size="12.60" font-weight="bold" fill="#262626">N</text>
<text x="988.60" y="131.00" textLength="16.30" lengthAdjust="spacingAndGlyphs" font-size="12.60" font-weight="bold" fill="#262626">46</text>
<circle cx="1009.30" cy="118.20" r="1.5" fill="none" stroke="#262626" stroke-width="0.75"/>
<text x="1016.90" y="131.00" textLength="10.10" lengthAdjust="spacingAndGlyphs" font-size="12.60" font-weight="bold" fill="#262626">N</text>
<text x="988.60" y="147.60" textLength="16.30" lengthAdjust="spacingAndGlyphs" font-size="12.60" font-weight="bold" fill="#262626">44</text>
<circle cx="1009.30" cy="134.80" r="1.5" fill="none" stroke="#262626" stroke-width="0.75"/>
<text x="1016.90" y="147.60" textLength="10.10" lengthAdjust="spacingAndGlyphs" font-size="12.60" font-weight="bold" fill="#262626">N</text>
<text x="988.60" y="166.40" textLength="16.30" lengthAdjust="spacingAndGlyphs" font-size="12.60" font-weight="bold" fill="#262626">42</text>
<circle cx="1009.30" cy="153.60" r="1.5" fill="none" stroke="#262626" stroke-width="0.75"/>
<text x="1016.90" y="166.40" textLength="10.10" lengthAdjust="spacingAndGlyphs" font-size="12.60" font-weight="bold" fill="#262626">N</text>
<text x="988.60" y="182.80" textLength="16.30" lengthAdjust="spacingAndGlyphs" font-size="12.60" font-weight="bold" fill="#262626">40</text>
<circle cx="1009.30" cy="170.00" r="1.5" fill="none" stroke="#262626" stroke-width="0.75"/>
<text x="1016.90" y="182.80" textLength="10.10" lengthAdjust="spacingAndGlyphs" font-size="12.60" font-weight="bold" fill="#262626">N</text>
<text x="988.60" y="197.30" textLength="16.30" lengthAdjust="spacingAndGlyphs" font-size="12.60" font-weight="bold" fill="#262626">38</text>
<circle cx="1009.30" cy="184.50" r="1.5" fill="none" stroke="#262626" stroke-width="0.75"/>
<text x="1016.90" y="197.30" textLength="10.10" lengthAdjust="spacingAndGlyphs" font-size="12.60" font-weight="bold" fill="#262626">N</text>
<text x="988.60" y="215.00" textLength="16.30" lengthAdjust="spacingAndGlyphs" font-size="12.60" font-weight="bold" fill="#262626">36</text>
<circle cx="1009.30" cy="202.20" r="1.5" fill="none" stroke="#262626" stroke-width="0.75"/>
<text x="1016.90" y="215.00" textLength="10.10" lengthAdjust="spacingAndGlyphs" font-size="12.60" font-weight="bold" fill="#262626">N</text>
<text x="988.60" y="229.20" textLength="16.30" lengthAdjust="spacingAndGlyphs" font-size="12.60" font-weight="bold" fill="#262626">34</text>
<circle cx="1009.30" cy="216.40" r="1.5" fill="none" stroke="#262626" stroke-width="0.75"/>
<text x="1016.90" y="229.20" textLength="10.10" lengthAdjust="spacingAndGlyphs" font-size="12.60" font-weight="bold" fill="#262626">N</text>
<text x="988.60" y="246.40" textLength="16.30" lengthAdjust="spacingAndGlyphs" font-size="12.60" font-weight="bold" fill="#262626">32</text>
<circle cx="1009.30" cy="233.60" r="1.5" fill="none" stroke="#262626" stroke-width="0.75"/>
<text x="1016.90" y="246.40" textLength="10.10" lengthAdjust="spacingAndGlyphs" font-size="12.60" font-weight="bold" fill="#262626">N</text>
<text x="988.60" y="260.00" textLength="16.30" lengthAdjust="spacingAndGlyphs" font-size="12.60" font-weight="bold" fill="#262626">30</text>
<circle cx="1009.30" cy="247.20" r="1.5" fill="none" stroke="#262626" stroke-width="0.75"/>
<text x="1016.90" y="260.00" textLength="10.10" lengthAdjust="spacingAndGlyphs" font-size="12.60" font-weight="bold" fill="#262626">N</text>
<text x="988.60" y="275.00" textLength="16.30" lengthAdjust="spacingAndGlyphs" font-size="12.60" font-weight="bold" fill="#262626">28</text>
<circle cx="1009.30" cy="262.20" r="1.5" fill="none" stroke="#262626" stroke-width="0.75"/>
<text x="1016.90" y="275.00" textLength="10.10" lengthAdjust="spacingAndGlyphs" font-size="12.60" font-weight="bold" fill="#262626">N</text>
<text x="988.60" y="289.20" textLength="16.30" lengthAdjust="spacingAndGlyphs" font-size="12.60" font-weight="bold" fill="#262626">26</text>
<circle cx="1009.30" cy="276.40" r="1.5" fill="none" stroke="#262626" stroke-width="0.75"/>
<text x="1016.90" y="289.20" textLength="10.10" lengthAdjust="spacingAndGlyphs" font-size="12.60" font-weight="bold" fill="#262626">N</text>
<text x="988.60" y="301.40" textLength="16.30" lengthAdjust="spacingAndGlyphs" font-size="12.60" font-weight="bold" fill="#262626">24</text>
<circle cx="1009.30" cy="288.60" r="1.5" fill="none" stroke="#262626" stroke-width="0.75"/>
<text x="1016.90" y="301.40" textLength="10.10" lengthAdjust="spacingAndGlyphs" font-size="12.60" font-weight="bold" fill="#262626">N</text>
<text x="988.60" y="316.40" textLength="16.30" lengthAdjust="spacingAndGlyphs" font-size="12.60" font-weight="bold" fill="#262626">22</text>
<circle cx="1009.30" cy="303.60" r="1.5" fill="none" stroke="#262626" stroke-width="0.75"/>
<text x="1016.90" y="316.40" textLength="10.10" lengthAdjust="spacingAndGlyphs" font-size="12.60" font-weight="bold" fill="#262626">N</text>
<rect x="1285.60" y="93.30" width="22.70" height="218.40" fill="url(#jet)" stroke="#262626" stroke-width="1"/>
<path d="M1308.30 93.70 h-2.6" stroke="#262626" stroke-width="1" fill="none"/>
<text x="1317.00" y="101.30" textLength="57.90" lengthAdjust="spacingAndGlyphs" font-size="22.90" font-weight="bold" fill="#262626">1000</text>
<path d="M1308.30 142.70 h-2.6" stroke="#262626" stroke-width="1" fill="none"/>
<text x="1317.00" y="150.30" textLength="43.90" lengthAdjust="spacingAndGlyphs" font-size="22.90" font-weight="bold" fill="#262626">800</text>
<path d="M1308.30 190.50 h-2.6" stroke="#262626" stroke-width="1" fill="none"/>
<text x="1317.00" y="198.10" textLength="43.90" lengthAdjust="spacingAndGlyphs" font-size="22.90" font-weight="bold" fill="#262626">600</text>
<path d="M1308.30 239.50 h-2.6" stroke="#262626" stroke-width="1" fill="none"/>
<text x="1317.00" y="247.10" textLength="43.90" lengthAdjust="spacingAndGlyphs" font-size="22.90" font-weight="bold" fill="#262626">400</text>
<path d="M1308.30 288.00 h-2.6" stroke="#262626" stroke-width="1" fill="none"/>
<text x="1317.00" y="295.60" textLength="43.90" lengthAdjust="spacingAndGlyphs" font-size="22.90" font-weight="bold" fill="#262626">200</text>
<text x="1034.80" y="342.10" textLength="229.40" lengthAdjust="spacingAndGlyphs" font-size="24.20" font-weight="bold" fill="#262626">Cloud Press (hPa)</text>
<rect x="195.50" y="486.40" width="234.00" height="213.00" fill="#fff" stroke="#262626" stroke-width="1"/>
<g transform="translate(196.50,486.50) scale(1.0000)">
<g mask="url(#maskm)">
<rect x="85" y="-8" width="156" height="190" fill="#20e0e8"/>
<ellipse cx="135.0" cy="3.0" rx="32.0" ry="8.0" fill="#30f0c0" filter="url(#b4)"/>
<ellipse cx="180.0" cy="16.0" rx="14.0" ry="13.0" fill="#48ffb0" filter="url(#b4)"/>
<ellipse cx="224.0" cy="24.0" rx="20.0" ry="28.0" fill="#2070f8" filter="url(#b7)"/>
<ellipse cx="205.0" cy="30.0" rx="10.0" ry="14.0" fill="#20a8ff" filter="url(#b4)"/>
<ellipse cx="228.0" cy="3.0" rx="10.0" ry="7.0" fill="#1010e0" transform="rotate(-25 228.0 3.0)" filter="url(#b2)"/>
<ellipse cx="232.0" cy="14.0" rx="5.0" ry="10.0" fill="#1828e8" filter="url(#b4)"/>
<ellipse cx="201.0" cy="51.5" rx="12.0" ry="9.0" fill="#2070ff" filter="url(#b4)"/>
<ellipse cx="184.0" cy="72.0" rx="16.0" ry="8.0" fill="#20b0ff" filter="url(#b4)"/>
<ellipse cx="224.0" cy="60.0" rx="10.0" ry="12.0" fill="#30e8d0" filter="url(#b4)"/>
<ellipse cx="175.2" cy="38.6" rx="4.2" ry="4.2" fill="#2878ff"/>
<ellipse cx="174.2" cy="43.9" rx="4.2" ry="4.2" fill="#2878ff"/>
<ellipse cx="185.9" cy="46.0" rx="4.2" ry="4.2" fill="#2878ff"/>
<ellipse cx="166.7" cy="55.6" rx="4.2" ry="4.2" fill="#2878ff"/>
<ellipse cx="169.0" cy="52.0" rx="4.2" ry="4.2" fill="#2878ff"/>
<ellipse cx="115.5" cy="9.8" rx="3.5" ry="3.0" fill="#90ff50" filter="url(#b1)"/>
<ellipse cx="164.6" cy="3.4" rx="3.0" ry="3.0" fill="#c0f040" filter="url(#b1)"/>
<ellipse cx="137.9" cy="8.2" rx="3.5" ry="3.5" fill="#2090ff"/>
<ellipse cx="164.0" cy="89.0" rx="8.0" ry="7.0" fill="#1060f0" filter="url(#b1)"/>
<ellipse cx="172.0" cy="104.0" rx="16.0" ry="9.0" fill="#80ff80" filter="url(#b2)"/>
<ellipse cx="167.8" cy="102.6" rx="2.8" ry="2.0" fill="#ff8000" filter="url(#b1)"/>
<ellipse cx="175.2" cy="111.1" rx="5.5" ry="3.0" fill="#ffe000" filter="url(#b1)"/>
<ellipse cx="176.3" cy="117.5" rx="3.2" ry="3.0" fill="#ff9000" filter="url(#b1)"/>
<ellipse cx="176.8" cy="123.4" rx="4.0" ry="2.0" fill="#2060e0" transform="rotate(-45 176.8 123.4)"/>
<ellipse cx="162.0" cy="99.0" rx="4.0" ry="2.0" fill="#1850e8" transform="rotate(-30 162.0 99.0)" filter="url(#b1)"/>
<ellipse cx="127.0" cy="112.5" rx="10.0" ry="4.5" fill="#2050f0"/>
<ellipse cx="124.0" cy="113.8" rx="5.5" ry="2.2" fill="#60ff90" filter="url(#b1)"/>
<ellipse cx="150.0" cy="140.0" rx="9.0" ry="8.0" fill="#2068f0" transform="rotate(35 150.0 140.0)" filter="url(#b2)"/>
<ellipse cx="129.0" cy="136.0" rx="5.0" ry="10.0" fill="#20a0f8" transform="rotate(10 129.0 136.0)" filter="url(#b2)"/>
<ellipse cx="112.0" cy="138.0" rx="7.0" ry="10.0" fill="#18d8f0" filter="url(#b2)"/>
<ellipse cx="95.2" cy="129.2" rx="2.5" ry="3.0" fill="#e0e040" filter="url(#b1)"/>
<ellipse cx="120.0" cy="128.0" rx="7.0" ry="1.1" fill="#2070f0" transform="rotate(35 120.0 128.0)" opacity="0.8"/>
<ellipse cx="125.5" cy="131.2" rx="7.0" ry="1.1" fill="#2070f0" transform="rotate(35 125.5 131.2)" opacity="0.8"/>
<ellipse cx="131.0" cy="134.4" rx="7.0" ry="1.1" fill="#2070f0" transform="rotate(35 131.0 134.4)" opacity="0.8"/>
<ellipse cx="136.5" cy="137.6" rx="7.0" ry="1.1" fill="#2070f0" transform="rotate(35 136.5 137.6)" opacity="0.8"/>
<ellipse cx="142.0" cy="140.8" rx="7.0" ry="1.1" fill="#2070f0" transform="rotate(35 142.0 140.8)" opacity="0.8"/>
<ellipse cx="147.5" cy="144.0" rx="7.0" ry="1.1" fill="#2070f0" transform="rotate(35 147.5 144.0)" opacity="0.8"/>
<ellipse cx="153.0" cy="147.2" rx="7.0" ry="1.1" fill="#2070f0" transform="rotate(35 153.0 147.2)" opacity="0.8"/>
<ellipse cx="220.0" cy="80.0" rx="4.0" ry="1.2" fill="#2090f0" transform="rotate(35 220.0 80.0)"/>
<ellipse cx="225.5" cy="91.0" rx="4.0" ry="1.2" fill="#2090f0" transform="rotate(35 225.5 91.0)"/>
<ellipse cx="212.0" cy="75.0" rx="4.0" ry="1.2" fill="#2090f0" transform="rotate(35 212.0 75.0)"/>
<ellipse cx="231.0" cy="86.0" rx="4.0" ry="1.2" fill="#2090f0" transform="rotate(35 231.0 86.0)"/>
<path d="M188 108 L240 96 L240 152 L200 140 L186 122Z" fill="#90ff70" filter="url(#b2)"/>
<ellipse cx="227.5" cy="142.0" rx="7.0" ry="4.5" fill="#f0f000" transform="rotate(25 227.5 142.0)" filter="url(#b1)"/>
<ellipse cx="195.5" cy="120.7" rx="4.0" ry="3.5" fill="#e8e820" filter="url(#b1)"/>
<ellipse cx="215.0" cy="132.0" rx="8.0" ry="3.0" fill="#c8f840" transform="rotate(20 215.0 132.0)" filter="url(#b1)"/>
<ellipse cx="108.7" cy="136.5" rx="4.5" ry="1.1" fill="#18b0f8" transform="rotate(29 108.7 136.5)"/>
<ellipse cx="134.4" cy="148.9" rx="4.9" ry="1.0" fill="#2060f0" transform="rotate(42 134.4 148.9)"/>
<ellipse cx="129.9" cy="136.7" rx="4.6" ry="1.2" fill="#2060f0" transform="rotate(31 129.9 136.7)"/>
<ellipse cx="152.8" cy="135.8" rx="6.0" ry="1.1" fill="#2060f0" transform="rotate(28 152.8 135.8)"/>
<ellipse cx="113.1" cy="119.1" rx="6.5" ry="1.0" fill="#18b0f8" transform="rotate(39 113.1 119.1)"/>
<ellipse cx="142.0" cy="149.3" rx="4.6" ry="1.2" fill="#2080f8" transform="rotate(31 142.0 149.3)"/>
<ellipse cx="101.5" cy="125.4" rx="6.9" ry="1.0" fill="#18b0f8" transform="rotate(36 101.5 125.4)"/>
<ellipse cx="121.5" cy="146.3" rx="5.3" ry="1.0" fill="#2080f8" transform="rotate(34 121.5 146.3)"/>
<ellipse cx="155.3" cy="141.2" rx="6.7" ry="1.2" fill="#50f0c0" transform="rotate(32 155.3 141.2)"/>
<ellipse cx="140.9" cy="129.1" rx="5.2" ry="1.0" fill="#2060f0" transform="rotate(33 140.9 129.1)"/>
<ellipse cx="136.3" cy="151.6" rx="4.1" ry="0.8" fill="#2080f8" transform="rotate(42 136.3 151.6)"/>
<ellipse cx="98.2" cy="145.2" rx="4.6" ry="0.8" fill="#2080f8" transform="rotate(40 98.2 145.2)"/>
<ellipse cx="135.0" cy="119.5" rx="5.9" ry="0.9" fill="#30e8d8" transform="rotate(35 135.0 119.5)"/>
<ellipse cx="127.4" cy="151.9" rx="4.2" ry="0.7" fill="#18b0f8" transform="rotate(28 127.4 151.9)"/>
<ellipse cx="158.4" cy="151.0" rx="4.2" ry="0.9" fill="#18b0f8" transform="rotate(37 158.4 151.0)"/>
<ellipse cx="114.0" cy="150.6" rx="6.6" ry="0.9" fill="#2080f8" transform="rotate(43 114.0 150.6)"/>
<ellipse cx="119.0" cy="147.5" rx="5.7" ry="0.8" fill="#50f0c0" transform="rotate(43 119.0 147.5)"/>
<ellipse cx="111.0" cy="139.6" rx="5.9" ry="1.3" fill="#2080f8" transform="rotate(35 111.0 139.6)"/>
<ellipse cx="128.5" cy="136.6" rx="3.0" ry="0.9" fill="#18b0f8" transform="rotate(27 128.5 136.6)"/>
<ellipse cx="118.4" cy="138.0" rx="3.5" ry="1.1" fill="#2080f8" transform="rotate(38 118.4 138.0)"/>
<ellipse cx="139.5" cy="130.0" rx="5.8" ry="1.1" fill="#2060f0" transform="rotate(28 139.5 130.0)"/>
<ellipse cx="117.8" cy="139.4" rx="4.2" ry="1.1" fill="#2060f0" transform="rotate(32 117.8 139.4)"/>
<ellipse cx="113.9" cy="130.6" rx="5.4" ry="0.9" fill="#2080f8" transform="rotate(27 113.9 130.6)"/>
<ellipse cx="160.0" cy="141.2" rx="3.5" ry="1.0" fill="#18b0f8" transform="rotate(35 160.0 141.2)"/>
<ellipse cx="108.7" cy="124.4" rx="4.7" ry="1.1" fill="#2060f0" transform="rotate(37 108.7 124.4)"/>
<ellipse cx="158.4" cy="140.9" rx="3.9" ry="1.2" fill="#50f0c0" transform="rotate(29 158.4 140.9)"/>
<ellipse cx="115.6" cy="140.1" rx="6.5" ry="1.0" fill="#2060f0" transform="rotate(30 115.6 140.1)"/>
<ellipse cx="114.1" cy="146.4" rx="5.3" ry="1.2" fill="#2080f8" transform="rotate(29 114.1 146.4)"/>
<ellipse cx="148.4" cy="129.7" rx="3.5" ry="0.9" fill="#30e8d8" transform="rotate(35 148.4 129.7)"/>
<ellipse cx="124.5" cy="139.6" rx="4.2" ry="1.0" fill="#2060f0" transform="rotate(40 124.5 139.6)"/>
<ellipse cx="102.9" cy="118.2" rx="6.8" ry="1.2" fill="#50f0c0" transform="rotate(40 102.9 118.2)"/>
<ellipse cx="131.1" cy="151.5" rx="5.9" ry="0.7" fill="#2080f8" transform="rotate(43 131.1 151.5)"/>
<ellipse cx="159.4" cy="136.5" rx="6.6" ry="1.2" fill="#30e8d8" transform="rotate(36 159.4 136.5)"/>
<ellipse cx="100.4" cy="126.3" rx="3.1" ry="1.2" fill="#2080f8" transform="rotate(33 100.4 126.3)"/>
<ellipse cx="154.8" cy="148.6" rx="5.3" ry="0.7" fill="#30e8d8" transform="rotate(32 154.8 148.6)"/>
<ellipse cx="127.2" cy="126.1" rx="3.1" ry="1.0" fill="#2060f0" transform="rotate(30 127.2 126.1)"/>
<ellipse cx="115.9" cy="126.6" rx="6.4" ry="1.0" fill="#30e8d8" transform="rotate(38 115.9 126.6)"/>
<ellipse cx="107.5" cy="122.2" rx="6.6" ry="0.8" fill="#2060f0" transform="rotate(35 107.5 122.2)"/>
<ellipse cx="156.5" cy="145.4" rx="6.3" ry="0.7" fill="#18b0f8" transform="rotate(39 156.5 145.4)"/>
<ellipse cx="95.5" cy="127.2" rx="4.1" ry="1.0" fill="#2080f8" transform="rotate(42 95.5 127.2)"/>
<ellipse cx="114.6" cy="145.9" rx="6.4" ry="1.2" fill="#2060f0" transform="rotate(28 114.6 145.9)"/>
<ellipse cx="127.1" cy="128.7" rx="4.3" ry="0.9" fill="#18b0f8" transform="rotate(36 127.1 128.7)"/>
<ellipse cx="117.3" cy="124.5" rx="4.3" ry="0.8" fill="#18b0f8" transform="rotate(39 117.3 124.5)"/>
<ellipse cx="147.7" cy="137.3" rx="3.2" ry="1.0" fill="#18b0f8" transform="rotate(39 147.7 137.3)"/>
<ellipse cx="136.6" cy="119.5" rx="6.5" ry="0.7" fill="#18b0f8" transform="rotate(37 136.6 119.5)"/>
<ellipse cx="121.4" cy="141.6" rx="4.8" ry="0.8" fill="#2080f8" transform="rotate(29 121.4 141.6)"/>
<ellipse cx="148.2" cy="125.6" rx="3.5" ry="0.7" fill="#2080f8" transform="rotate(35 148.2 125.6)"/>
<ellipse cx="100.5" cy="141.5" rx="6.8" ry="1.1" fill="#30e8d8" transform="rotate(43 100.5 141.5)"/>
<ellipse cx="147.5" cy="140.7" rx="5.9" ry="1.0" fill="#2060f0" transform="rotate(27 147.5 140.7)"/>
<ellipse cx="125.1" cy="126.0" rx="4.6" ry="1.0" fill="#18b0f8" transform="rotate(39 125.1 126.0)"/>
<ellipse cx="104.5" cy="118.8" rx="6.4" ry="0.8" fill="#30e8d8" transform="rotate(42 104.5 118.8)"/>
<ellipse cx="150.5" cy="150.4" rx="5.3" ry="1.2" fill="#2060f0" transform="rotate(43 150.5 150.4)"/>
<ellipse cx="129.0" cy="126.1" rx="5.2" ry="0.8" fill="#18b0f8" transform="rotate(37 129.0 126.1)"/>
<ellipse cx="152.9" cy="124.1" rx="3.3" ry="1.3" fill="#18b0f8" transform="rotate(41 152.9 124.1)"/>
<ellipse cx="135.1" cy="143.6" rx="4.6" ry="0.9" fill="#2080f8" transform="rotate(38 135.1 143.6)"/>
<ellipse cx="176.7" cy="63.9" rx="4.6" ry="0.8" fill="#2070ff" transform="rotate(34 176.7 63.9)"/>
<ellipse cx="188.3" cy="67.2" rx="7.0" ry="0.7" fill="#10d0f0" transform="rotate(33 188.3 67.2)"/>
<ellipse cx="178.2" cy="65.1" rx="3.4" ry="0.8" fill="#40e0e0" transform="rotate(30 178.2 65.1)"/>
<ellipse cx="197.6" cy="65.5" rx="4.2" ry="1.1" fill="#2090ff" transform="rotate(33 197.6 65.5)"/>
<ellipse cx="171.2" cy="72.9" rx="5.7" ry="1.0" fill="#2070ff" transform="rotate(37 171.2 72.9)"/>
<ellipse cx="178.4" cy="79.0" rx="6.3" ry="1.3" fill="#40e0e0" transform="rotate(22 178.4 79.0)"/>
<ellipse cx="201.6" cy="72.3" rx="6.5" ry="1.2" fill="#10d0f0" transform="rotate(35 201.6 72.3)"/>
<ellipse cx="183.7" cy="67.2" rx="4.8" ry="0.8" fill="#10d0f0" transform="rotate(23 183.7 67.2)"/>
<ellipse cx="171.0" cy="70.3" rx="7.0" ry="1.0" fill="#2090ff" transform="rotate(32 171.0 70.3)"/>
<ellipse cx="173.4" cy="74.1" rx="3.3" ry="1.2" fill="#2090ff" transform="rotate(36 173.4 74.1)"/>
<ellipse cx="178.2" cy="68.4" rx="6.0" ry="0.9" fill="#2090ff" transform="rotate(32 178.2 68.4)"/>
<ellipse cx="171.7" cy="63.1" rx="3.9" ry="1.2" fill="#2090ff" transform="rotate(29 171.7 63.1)"/>
<ellipse cx="172.5" cy="78.8" rx="4.2" ry="0.7" fill="#10d0f0" transform="rotate(24 172.5 78.8)"/>
<ellipse cx="201.1" cy="79.2" rx="5.9" ry="1.3" fill="#2070ff" transform="rotate(31 201.1 79.2)"/>
<ellipse cx="179.9" cy="64.8" rx="5.6" ry="1.2" fill="#40e0e0" transform="rotate(24 179.9 64.8)"/>
<ellipse cx="178.9" cy="65.4" rx="4.8" ry="0.8" fill="#10d0f0" transform="rotate(27 178.9 65.4)"/>
<ellipse cx="180.3" cy="62.2" rx="3.2" ry="0.8" fill="#40e0e0" transform="rotate(33 180.3 62.2)"/>
<ellipse cx="184.3" cy="65.7" rx="6.7" ry="0.8" fill="#2070ff" transform="rotate(27 184.3 65.7)"/>
<ellipse cx="222.4" cy="89.7" rx="6.2" ry="1.3" fill="#30e8d8" transform="rotate(43 222.4 89.7)"/>
<ellipse cx="201.0" cy="78.6" rx="6.8" ry="1.1" fill="#10c0f0" transform="rotate(30 201.0 78.6)"/>
<ellipse cx="213.4" cy="94.7" rx="4.5" ry="0.8" fill="#2090f0" transform="rotate(33 213.4 94.7)"/>
<ellipse cx="214.7" cy="67.3" rx="6.5" ry="0.9" fill="#10c0f0" transform="rotate(29 214.7 67.3)"/>
<ellipse cx="205.0" cy="84.7" rx="3.5" ry="0.7" fill="#10c0f0" transform="rotate(33 205.0 84.7)"/>
<ellipse cx="227.8" cy="98.4" rx="3.7" ry="0.8" fill="#2090f0" transform="rotate(33 227.8 98.4)"/>
<ellipse cx="219.4" cy="87.1" rx="3.8" ry="1.3" fill="#30e8d8" transform="rotate(39 219.4 87.1)"/>
<ellipse cx="210.8" cy="74.4" rx="3.7" ry="0.8" fill="#2090f0" transform="rotate(36 210.8 74.4)"/>
<ellipse cx="229.4" cy="83.4" rx="5.4" ry="1.1" fill="#2090f0" transform="rotate(38 229.4 83.4)"/>
<ellipse cx="229.5" cy="79.2" rx="4.3" ry="1.0" fill="#30e8d8" transform="rotate(28 229.5 79.2)"/>
<ellipse cx="234.2" cy="74.3" rx="4.6" ry="1.0" fill="#30e8d8" transform="rotate(39 234.2 74.3)"/>
<ellipse cx="234.4" cy="67.9" rx="6.0" ry="1.3" fill="#10c0f0" transform="rotate(38 234.4 67.9)"/>
<ellipse cx="218.4" cy="95.7" rx="4.0" ry="1.0" fill="#30e8d8" transform="rotate(38 218.4 95.7)"/>
<ellipse cx="230.9" cy="61.5" rx="6.8" ry="0.8" fill="#2090f0" transform="rotate(38 230.9 61.5)"/>
<ellipse cx="233.1" cy="73.6" rx="6.7" ry="1.0" fill="#2090f0" transform="rotate(37 233.1 73.6)"/>
<ellipse cx="211.0" cy="92.0" rx="5.5" ry="1.1" fill="#2090f0" transform="rotate(42 211.0 92.0)"/>
<ellipse cx="235.5" cy="81.3" rx="4.6" ry="0.8" fill="#30e8d8" transform="rotate(35 235.5 81.3)"/>
<ellipse cx="216.4" cy="76.9" rx="3.2" ry="1.2" fill="#2090f0" transform="rotate(42 216.4 76.9)"/>
<ellipse cx="212.0" cy="68.3" rx="6.9" ry="1.0" fill="#2090f0" transform="rotate(40 212.0 68.3)"/>
<ellipse cx="203.8" cy="77.4" rx="3.6" ry="1.2" fill="#2090f0" transform="rotate(41 203.8 77.4)"/>
<ellipse cx="233.2" cy="84.8" rx="3.7" ry="1.0" fill="#10c0f0" transform="rotate(37 233.2 84.8)"/>
<ellipse cx="217.2" cy="71.6" rx="4.6" ry="0.8" fill="#30e8d8" transform="rotate(32 217.2 71.6)"/>
<ellipse cx="222.4" cy="47.1" rx="4.9" ry="0.9" fill="#40ffb0" transform="rotate(-41 222.4 47.1)"/>
<ellipse cx="218.5" cy="16.5" rx="3.1" ry="1.0" fill="#40ffb0" transform="rotate(-49 218.5 16.5)"/>
<ellipse cx="230.1" cy="29.9" rx="3.4" ry="1.0" fill="#2090ff" transform="rotate(-39 230.1 29.9)"/>
<ellipse cx="215.3" cy="48.5" rx="4.3" ry="0.8" fill="#2060f0" transform="rotate(-54 215.3 48.5)"/>
<ellipse cx="208.8" cy="9.3" rx="5.6" ry="0.9" fill="#2060f0" transform="rotate(-56 208.8 9.3)"/>
<ellipse cx="204.0" cy="36.3" rx="5.8" ry="1.2" fill="#2060f0" transform="rotate(-62 204.0 36.3)"/>
<ellipse cx="211.8" cy="11.9" rx="4.7" ry="0.9" fill="#40ffb0" transform="rotate(-46 211.8 11.9)"/>
<ellipse cx="228.1" cy="29.0" rx="3.5" ry="1.1" fill="#20e0e8" transform="rotate(-56 228.1 29.0)"/>
<ellipse cx="195.1" cy="10.6" rx="5.4" ry="1.2" fill="#2060f0" transform="rotate(-46 195.1 10.6)"/>
<ellipse cx="229.7" cy="34.8" rx="4.2" ry="0.9" fill="#20e0e8" transform="rotate(-58 229.7 34.8)"/>
<ellipse cx="214.8" cy="26.8" rx="3.7" ry="1.1" fill="#2060f0" transform="rotate(-59 214.8 26.8)"/>
<ellipse cx="234.7" cy="12.0" rx="6.9" ry="1.2" fill="#2090ff" transform="rotate(-48 234.7 12.0)"/>
<ellipse cx="222.5" cy="28.5" rx="4.9" ry="1.1" fill="#20e0e8" transform="rotate(-60 222.5 28.5)"/>
<ellipse cx="199.8" cy="41.1" rx="6.9" ry="0.7" fill="#2090ff" transform="rotate(-54 199.8 41.1)"/>
<ellipse cx="208.9" cy="19.0" rx="4.0" ry="1.0" fill="#2060f0" transform="rotate(-54 208.9 19.0)"/>
<ellipse cx="234.8" cy="53.5" rx="4.7" ry="1.0" fill="#2090ff" transform="rotate(-41 234.8 53.5)"/>
<ellipse cx="201.6" cy="5.7" rx="4.5" ry="0.9" fill="#2060f0" transform="rotate(-52 201.6 5.7)"/>
<ellipse cx="194.2" cy="6.9" rx="6.7" ry="1.1" fill="#2090ff" transform="rotate(-54 194.2 6.9)"/>
<ellipse cx="191.1" cy="21.3" rx="5.0" ry="1.2" fill="#2060f0" transform="rotate(-53 191.1 21.3)"/>
<ellipse cx="207.0" cy="35.1" rx="6.9" ry="0.8" fill="#2090ff" transform="rotate(-44 207.0 35.1)"/>
<ellipse cx="226.3" cy="0.8" rx="3.8" ry="1.3" fill="#2090ff" transform="rotate(-49 226.3 0.8)"/>
<ellipse cx="223.2" cy="45.8" rx="5.1" ry="0.7" fill="#20e0e8" transform="rotate(-51 223.2 45.8)"/>
<ellipse cx="193.9" cy="5.8" rx="5.5" ry="1.1" fill="#40ffb0" transform="rotate(-42 193.9 5.8)"/>
<ellipse cx="214.1" cy="40.6" rx="3.2" ry="1.0" fill="#2090ff" transform="rotate(-60 214.1 40.6)"/>
<ellipse cx="211.5" cy="39.8" rx="3.5" ry="1.2" fill="#40ffb0" transform="rotate(-43 211.5 39.8)"/>
<ellipse cx="211.7" cy="13.2" rx="6.4" ry="1.1" fill="#20e0e8" transform="rotate(-62 211.7 13.2)"/>
<ellipse cx="222.2" cy="5.4" rx="6.8" ry="1.2" fill="#20e0e8" transform="rotate(-38 222.2 5.4)"/>
<ellipse cx="199.0" cy="31.1" rx="4.9" ry="1.0" fill="#2060f0" transform="rotate(-53 199.0 31.1)"/>
<ellipse cx="234.6" cy="14.5" rx="6.8" ry="0.8" fill="#2060f0" transform="rotate(-54 234.6 14.5)"/>
<ellipse cx="188.1" cy="25.9" rx="4.8" ry="0.9" fill="#2090ff" transform="rotate(-55 188.1 25.9)"/>
<ellipse cx="223.9" cy="36.0" rx="5.1" ry="0.7" fill="#40ffb0" transform="rotate(-51 223.9 36.0)"/>
<ellipse cx="218.8" cy="42.8" rx="3.8" ry="1.0" fill="#2060f0" transform="rotate(-57 218.8 42.8)"/>
<ellipse cx="218.3" cy="4.0" rx="5.2" ry="1.0" fill="#20e0e8" transform="rotate(-60 218.3 4.0)"/>
<ellipse cx="178.5" cy="18.4" rx="6.9" ry="0.8" fill="#2090ff" transform="rotate(-57 178.5 18.4)"/>
<ellipse cx="207.5" cy="20.7" rx="3.9" ry="0.8" fill="#2090ff" transform="rotate(-58 207.5 20.7)"/>
<ellipse cx="197.7" cy="7.0" rx="4.3" ry="0.8" fill="#2090ff" transform="rotate(-44 197.7 7.0)"/>
<ellipse cx="226.4" cy="29.1" rx="3.0" ry="1.2" fill="#2090ff" transform="rotate(-41 226.4 29.1)"/>
<ellipse cx="179.0" cy="11.3" rx="5.2" ry="1.1" fill="#20e0e8" transform="rotate(-57 179.0 11.3)"/>
<ellipse cx="234.2" cy="7.0" rx="5.5" ry="0.9" fill="#40ffb0" transform="rotate(-61 234.2 7.0)"/>
<ellipse cx="213.0" cy="30.0" rx="5.7" ry="1.1" fill="#40ffb0" transform="rotate(-55 213.0 30.0)"/>
<ellipse cx="221.9" cy="10.8" rx="5.3" ry="1.3" fill="#20e0e8" transform="rotate(-47 221.9 10.8)"/>
<ellipse cx="216.3" cy="7.8" rx="5.7" ry="0.7" fill="#2060f0" transform="rotate(-39 216.3 7.8)"/>
<ellipse cx="198.1" cy="40.2" rx="4.0" ry="0.8" fill="#2060f0" transform="rotate(-42 198.1 40.2)"/>
<ellipse cx="221.4" cy="45.0" rx="3.9" ry="1.1" fill="#20e0e8" transform="rotate(-39 221.4 45.0)"/>
<ellipse cx="216.7" cy="38.7" rx="6.1" ry="0.8" fill="#2090ff" transform="rotate(-61 216.7 38.7)"/>
<ellipse cx="203.5" cy="105.8" rx="4.0" ry="1.1" fill="#70ff90" transform="rotate(28 203.5 105.8)"/>
<ellipse cx="208.1" cy="110.5" rx="3.7" ry="1.1" fill="#70ff90" transform="rotate(24 208.1 110.5)"/>
<ellipse cx="218.3" cy="128.3" rx="2.2" ry="1.6" fill="#b0ff60" transform="rotate(24 218.3 128.3)"/>
<ellipse cx="201.9" cy="105.5" rx="2.4" ry="1.3" fill="#e0f040" transform="rotate(22 201.9 105.5)"/>
<ellipse cx="192.9" cy="127.7" rx="2.6" ry="1.1" fill="#e0f040" transform="rotate(18 192.9 127.7)"/>
<ellipse cx="217.7" cy="123.8" rx="3.6" ry="1.8" fill="#70ff90" transform="rotate(31 217.7 123.8)"/>
<ellipse cx="205.4" cy="110.9" rx="2.5" ry="1.8" fill="#b0ff60" transform="rotate(26 205.4 110.9)"/>
<ellipse cx="223.0" cy="113.0" rx="4.9" ry="1.1" fill="#70ff90" transform="rotate(27 223.0 113.0)"/>
<ellipse cx="195.3" cy="123.4" rx="2.1" ry="1.7" fill="#e0f040" transform="rotate(27 195.3 123.4)"/>
<ellipse cx="204.3" cy="116.2" rx="3.5" ry="1.8" fill="#b0ff60" transform="rotate(19 204.3 116.2)"/>
<ellipse cx="233.3" cy="122.7" rx="4.0" ry="1.1" fill="#e0f040" transform="rotate(31 233.3 122.7)"/>
<ellipse cx="201.7" cy="118.1" rx="4.0" ry="1.0" fill="#70ff90" transform="rotate(22 201.7 118.1)"/>
<ellipse cx="217.3" cy="123.7" rx="2.7" ry="1.3" fill="#e0f040" transform="rotate(29 217.3 123.7)"/>
<ellipse cx="191.9" cy="121.4" rx="3.6" ry="1.9" fill="#e0f040" transform="rotate(25 191.9 121.4)"/>
<ellipse cx="220.8" cy="117.8" rx="2.7" ry="1.1" fill="#b0ff60" transform="rotate(24 220.8 117.8)"/>
<ellipse cx="196.8" cy="112.7" rx="2.4" ry="1.5" fill="#70ff90" transform="rotate(27 196.8 112.7)"/>
<ellipse cx="233.7" cy="133.9" rx="3.5" ry="1.6" fill="#e0f040" transform="rotate(18 233.7 133.9)"/>
<ellipse cx="233.7" cy="133.4" rx="3.7" ry="1.4" fill="#70ff90" transform="rotate(32 233.7 133.4)"/>
<ellipse cx="191.2" cy="108.9" rx="2.5" ry="1.3" fill="#b0ff60" transform="rotate(17 191.2 108.9)"/>
<ellipse cx="215.2" cy="125.9" rx="4.8" ry="1.6" fill="#b0ff60" transform="rotate(23 215.2 125.9)"/>
<ellipse cx="217.5" cy="105.7" rx="2.8" ry="1.3" fill="#70ff90" transform="rotate(20 217.5 105.7)"/>
<ellipse cx="193.5" cy="123.4" rx="4.9" ry="1.5" fill="#b0ff60" transform="rotate(21 193.5 123.4)"/>
<ellipse cx="192.9" cy="115.8" rx="2.8" ry="1.8" fill="#b0ff60" transform="rotate(17 192.9 115.8)"/>
<ellipse cx="205.4" cy="133.9" rx="4.7" ry="1.8" fill="#b0ff60" transform="rotate(19 205.4 133.9)"/>
<ellipse cx="221.4" cy="111.6" rx="3.1" ry="1.2" fill="#e0f040" transform="rotate(33 221.4 111.6)"/>
<ellipse cx="168.3" cy="151.4" rx="4.0" ry="1.8" fill="#e0f040" transform="rotate(21 168.3 151.4)"/>
<ellipse cx="198.1" cy="156.8" rx="3.1" ry="2.8" fill="#70ffa0" transform="rotate(22 198.1 156.8)"/>
<ellipse cx="181.7" cy="157.5" rx="3.8" ry="2.1" fill="#b0ff60" transform="rotate(15 181.7 157.5)"/>
<ellipse cx="170.0" cy="144.2" rx="2.5" ry="1.6" fill="#40f0d0" transform="rotate(23 170.0 144.2)"/>
<ellipse cx="228.7" cy="164.1" rx="2.3" ry="1.6" fill="#ffc020" transform="rotate(22 228.7 164.1)"/>
<ellipse cx="225.7" cy="159.3" rx="3.2" ry="2.2" fill="#e0f040" transform="rotate(20 225.7 159.3)"/>
<ellipse cx="224.4" cy="161.1" rx="2.4" ry="1.7" fill="#70ffa0" transform="rotate(23 224.4 161.1)"/>
<ellipse cx="210.6" cy="172.7" rx="3.7" ry="2.9" fill="#70ffa0" transform="rotate(18 210.6 172.7)"/>
<ellipse cx="187.4" cy="152.1" rx="2.8" ry="2.1" fill="#40f0d0" transform="rotate(20 187.4 152.1)"/>
<ellipse cx="175.0" cy="157.1" rx="2.3" ry="2.5" fill="#ffc020" transform="rotate(13 175.0 157.1)"/>
<ellipse cx="172.3" cy="163.4" rx="2.8" ry="1.6" fill="#b0ff60" transform="rotate(10 172.3 163.4)"/>
<ellipse cx="218.6" cy="162.0" rx="2.3" ry="2.9" fill="#70ffa0" transform="rotate(11 218.6 162.0)"/>
<ellipse cx="163.3" cy="147.3" rx="2.8" ry="2.4" fill="#40f0d0" transform="rotate(18 163.3 147.3)"/>
<ellipse cx="186.1" cy="155.9" rx="3.3" ry="2.2" fill="#b0ff60" transform="rotate(8 186.1 155.9)"/>
<ellipse cx="227.3" cy="175.0" rx="3.6" ry="2.7" fill="#b0ff60" transform="rotate(17 227.3 175.0)"/>
<ellipse cx="168.2" cy="165.0" rx="3.0" ry="2.2" fill="#b0ff60" transform="rotate(10 168.2 165.0)"/>
<ellipse cx="209.9" cy="169.3" rx="3.0" ry="1.6" fill="#ffc020" transform="rotate(19 209.9 169.3)"/>
<ellipse cx="222.4" cy="159.3" rx="2.1" ry="1.6" fill="#b0ff60" transform="rotate(13 222.4 159.3)"/>
<ellipse cx="215.7" cy="168.9" rx="3.2" ry="1.5" fill="#70ffa0" transform="rotate(20 215.7 168.9)"/>
<ellipse cx="217.4" cy="164.8" rx="3.6" ry="2.4" fill="#70ffa0" transform="rotate(17 217.4 164.8)"/>
<ellipse cx="200.9" cy="170.3" rx="3.3" ry="1.5" fill="#e0f040" transform="rotate(9 200.9 170.3)"/>
<ellipse cx="183.9" cy="162.8" rx="4.0" ry="2.1" fill="#ffc020" transform="rotate(17 183.9 162.8)"/>
<ellipse cx="200.2" cy="165.8" rx="3.9" ry="2.7" fill="#70ffa0" transform="rotate(10 200.2 165.8)"/>
<ellipse cx="176.5" cy="156.1" rx="3.9" ry="2.8" fill="#70ffa0" transform="rotate(16 176.5 156.1)"/>
<ellipse cx="191.4" cy="156.6" rx="3.8" ry="2.3" fill="#e0f040" transform="rotate(18 191.4 156.6)"/>
<ellipse cx="222.7" cy="165.0" rx="2.7" ry="2.1" fill="#70ffa0" transform="rotate(23 222.7 165.0)"/>
<ellipse cx="174.1" cy="160.9" rx="3.7" ry="3.0" fill="#40f0d0" transform="rotate(15 174.1 160.9)"/>
<ellipse cx="235.6" cy="166.0" rx="2.5" ry="1.9" fill="#b0ff60" transform="rotate(23 235.6 166.0)"/>
<ellipse cx="222.2" cy="164.7" rx="3.7" ry="2.1" fill="#40f0d0" transform="rotate(10 222.2 164.7)"/>
<ellipse cx="190.7" cy="166.9" rx="3.6" ry="3.0" fill="#ffc020" transform="rotate(11 190.7 166.9)"/>
<ellipse cx="215.8" cy="98.3" rx="4.5" ry="2.2" fill="#ff8000" filter="url(#b1)"/>
<ellipse cx="221.1" cy="106.8" rx="4.0" ry="4.0" fill="#ffd000"/>
<ellipse cx="208.3" cy="111.1" rx="3.8" ry="3.5" fill="#ffb820"/>
<ellipse cx="231.8" cy="110.0" rx="4.0" ry="4.0" fill="#2080ff"/>
<ellipse cx="213.6" cy="103.6" rx="4.3" ry="4.3" fill="#a00000"/>
<ellipse cx="217.5" cy="104.5" rx="2.5" ry="3.5" fill="#e02000" filter="url(#b1)"/>
<path d="M160 140 L192 150 L192 172 L160 165Z" fill="#a0ff60" filter="url(#b2)"/>
<path d="M190 148 L219 156 L219 178 L190 170Z" fill="#50ffb0" filter="url(#b2)"/>
<path d="M217 156 L240 160 L240 182 L217 176Z" fill="#30f0d0" filter="url(#b2)"/>
<ellipse cx="176.3" cy="152.2" rx="2.2" ry="1.2" fill="#ff9000" transform="rotate(25 176.3 152.2)"/>
<ellipse cx="172.0" cy="149.0" rx="4.0" ry="2.0" fill="#f0e020" transform="rotate(25 172.0 149.0)" filter="url(#b1)"/>
<ellipse cx="184.8" cy="161.8" rx="2.0" ry="3.0" fill="#ffc000" filter="url(#b1)"/>
<ellipse cx="203.0" cy="165.0" rx="3.0" ry="3.0" fill="#f0e020" filter="url(#b1)"/>
<ellipse cx="223.2" cy="172.4" rx="3.0" ry="3.0" fill="#ffc000" filter="url(#b1)"/>
<ellipse cx="164.0" cy="158.0" rx="2.0" ry="3.5" fill="#ff9000" filter="url(#b1)"/>
</g>
<ellipse cx="203.5" cy="105.5" rx="4.6" ry="3.6" fill="#fff" filter="url(#b1)"/>
<path d="M214 38.2 L221.5 38.2 L218 41.5 L215.5 45Z" fill="#fff"/>
<ellipse cx="152.5" cy="8.6" rx="0.9" ry="2.4" fill="#fff" transform="rotate(25 152.5 8.6)"/>
<ellipse cx="160" cy="14.4" rx="0.9" ry="2.0" fill="#fff" transform="rotate(-20 160 14.4)"/>
<ellipse cx="222.9" cy="117.5" rx="8.6" ry="6.4" fill="#fff" transform="rotate(35 222.9 117.5)"/>
<ellipse cx="222.9" cy="117.5" rx="4.4" ry="5.6" fill="#ffc020"/>
<use href="#usmap"/>
</g>
<text x="215.50" y="466.30" textLength="25.20" lengthAdjust="spacingAndGlyphs" font-size="12.60" font-weight="bold" fill="#262626">100</text>
<circle cx="245.00" cy="454.00" r="1.5" fill="none" stroke="#262626" stroke-width="0.75"/>
<text x="253.30" y="466.30" textLength="12.70" lengthAdjust="spacingAndGlyphs" font-size="12.60" font-weight="bold" fill="#262626">W</text>
<text x="284.30" y="466.30" textLength="16.20" lengthAdjust="spacingAndGlyphs" font-size="12.60" font-weight="bold" fill="#262626">90</text>
<circle cx="304.80" cy="454.00" r="1.5" fill="none" stroke="#262626" stroke-width="0.75"/>
<text x="313.10" y="466.30" textLength="12.70" lengthAdjust="spacingAndGlyphs" font-size="12.60" font-weight="bold" fill="#262626">W</text>
<text x="348.30" y="466.30" textLength="18.10" lengthAdjust="spacingAndGlyphs" font-size="12.60" font-weight="bold" fill="#262626">80</text>
<circle cx="370.70" cy="454.00" r="1.5" fill="none" stroke="#262626" stroke-width="0.75"/>
<text x="379.00" y="466.30" textLength="12.70" lengthAdjust="spacingAndGlyphs" font-size="12.60" font-weight="bold" fill="#262626">W</text>
<text x="411.60" y="466.30" textLength="16.80" lengthAdjust="spacingAndGlyphs" font-size="12.60" font-weight="bold" fill="#262626">70</text>
<circle cx="432.70" cy="454.00" r="1.5" fill="none" stroke="#262626" stroke-width="0.75"/>
<text x="441.00" y="466.30" textLength="12.70" lengthAdjust="spacingAndGlyphs" font-size="12.60" font-weight="bold" fill="#262626">W</text>
<text x="146.00" y="502.40" textLength="17.90" lengthAdjust="spacingAndGlyphs" font-size="12.60" font-weight="bold" fill="#262626">48</text>
<circle cx="167.90" cy="489.60" r="1.5" fill="none" stroke="#262626" stroke-width="0.75"/>
<text x="175.50" y="502.40" textLength="10.10" lengthAdjust="spacingAndGlyphs" font-size="12.60" font-weight="bold" fill="#262626">N</text>
<text x="146.00" y="520.70" textLength="17.90" lengthAdjust="spacingAndGlyphs" font-size="12.60" font-weight="bold" fill="#262626">46</text>
<circle cx="167.90" cy="507.90" r="1.5" fill="none" stroke="#262626" stroke-width="0.75"/>
<text x="175.50" y="520.70" textLength="10.10" lengthAdjust="spacingAndGlyphs" font-size="12.60" font-weight="bold" fill="#262626">N</text>
<text x="146.00" y="537.30" textLength="17.90" lengthAdjust="spacingAndGlyphs" font-size="12.60" font-weight="bold" fill="#262626">44</text>
<circle cx="167.90" cy="524.50" r="1.5" fill="none" stroke="#262626" stroke-width="0.75"/>
<text x="175.50" y="537.30" textLength="10.10" lengthAdjust="spacingAndGlyphs" font-size="12.60" font-weight="bold" fill="#262626">N</text>
<text x="146.00" y="556.10" textLength="17.90" lengthAdjust="spacingAndGlyphs" font-size="12.60" font-weight="bold" fill="#262626">42</text>
<circle cx="167.90" cy="543.30" r="1.5" fill="none" stroke="#262626" stroke-width="0.75"/>
<text x="175.50" y="556.10" textLength="10.10" lengthAdjust="spacingAndGlyphs" font-size="12.60" font-weight="bold" fill="#262626">N</text>
<text x="146.00" y="572.50" textLength="17.90" lengthAdjust="spacingAndGlyphs" font-size="12.60" font-weight="bold" fill="#262626">40</text>
<circle cx="167.90" cy="559.70" r="1.5" fill="none" stroke="#262626" stroke-width="0.75"/>
<text x="175.50" y="572.50" textLength="10.10" lengthAdjust="spacingAndGlyphs" font-size="12.60" font-weight="bold" fill="#262626">N</text>
<text x="146.00" y="587.00" textLength="17.90" lengthAdjust="spacingAndGlyphs" font-size="12.60" font-weight="bold" fill="#262626">38</text>
<circle cx="167.90" cy="574.20" r="1.5" fill="none" stroke="#262626" stroke-width="0.75"/>
<text x="175.50" y="587.00" textLength="10.10" lengthAdjust="spacingAndGlyphs" font-size="12.60" font-weight="bold" fill="#262626">N</text>
<text x="146.00" y="604.70" textLength="17.90" lengthAdjust="spacingAndGlyphs" font-size="12.60" font-weight="bold" fill="#262626">36</text>
<circle cx="167.90" cy="591.90" r="1.5" fill="none" stroke="#262626" stroke-width="0.75"/>
<text x="175.50" y="604.70" textLength="10.10" lengthAdjust="spacingAndGlyphs" font-size="12.60" font-weight="bold" fill="#262626">N</text>
<text x="146.00" y="618.90" textLength="17.90" lengthAdjust="spacingAndGlyphs" font-size="12.60" font-weight="bold" fill="#262626">34</text>
<circle cx="167.90" cy="606.10" r="1.5" fill="none" stroke="#262626" stroke-width="0.75"/>
<text x="175.50" y="618.90" textLength="10.10" lengthAdjust="spacingAndGlyphs" font-size="12.60" font-weight="bold" fill="#262626">N</text>
<text x="146.00" y="636.10" textLength="17.90" lengthAdjust="spacingAndGlyphs" font-size="12.60" font-weight="bold" fill="#262626">32</text>
<circle cx="167.90" cy="623.30" r="1.5" fill="none" stroke="#262626" stroke-width="0.75"/>
<text x="175.50" y="636.10" textLength="10.10" lengthAdjust="spacingAndGlyphs" font-size="12.60" font-weight="bold" fill="#262626">N</text>
<text x="146.00" y="649.70" textLength="17.90" lengthAdjust="spacingAndGlyphs" font-size="12.60" font-weight="bold" fill="#262626">30</text>
<circle cx="167.90" cy="636.90" r="1.5" fill="none" stroke="#262626" stroke-width="0.75"/>
<text x="175.50" y="649.70" textLength="10.10" lengthAdjust="spacingAndGlyphs" font-size="12.60" font-weight="bold" fill="#262626">N</text>
<text x="146.00" y="662.50" textLength="17.90" lengthAdjust="spacingAndGlyphs" font-size="12.60" font-weight="bold" fill="#262626">28</text>
<circle cx="167.90" cy="649.70" r="1.5" fill="none" stroke="#262626" stroke-width="0.75"/>
<text x="175.50" y="662.50" textLength="10.10" lengthAdjust="spacingAndGlyphs" font-size="12.60" font-weight="bold" fill="#262626">N</text>
<text x="146.00" y="677.80" textLength="17.90" lengthAdjust="spacingAndGlyphs" font-size="12.60" font-weight="bold" fill="#262626">26</text>
<circle cx="167.90" cy="665.00" r="1.5" fill="none" stroke="#262626" stroke-width="0.75"/>
<text x="175.50" y="677.80" textLength="10.10" lengthAdjust="spacingAndGlyphs" font-size="12.60" font-weight="bold" fill="#262626">N</text>
<text x="146.00" y="691.10" textLength="17.90" lengthAdjust="spacingAndGlyphs" font-size="12.60" font-weight="bold" fill="#262626">24</text>
<circle cx="167.90" cy="678.30" r="1.5" fill="none" stroke="#262626" stroke-width="0.75"/>
<text x="175.50" y="691.10" textLength="10.10" lengthAdjust="spacingAndGlyphs" font-size="12.60" font-weight="bold" fill="#262626">N</text>
<text x="146.00" y="704.20" textLength="17.90" lengthAdjust="spacingAndGlyphs" font-size="12.60" font-weight="bold" fill="#262626">22</text>
<circle cx="167.90" cy="691.40" r="1.5" fill="none" stroke="#262626" stroke-width="0.75"/>
<text x="175.50" y="704.20" textLength="10.10" lengthAdjust="spacingAndGlyphs" font-size="12.60" font-weight="bold" fill="#262626">N</text>
<rect x="441.60" y="483.50" width="22.40" height="218.40" fill="url(#jet)" stroke="#262626" stroke-width="1"/>
<path d="M464.00 536.30 h-2.6" stroke="#262626" stroke-width="1" fill="none"/>
<text x="473.00" y="543.90" textLength="14.60" lengthAdjust="spacingAndGlyphs" font-size="22.90" font-weight="bold" fill="#262626">5</text>
<path d="M464.00 592.40 h-2.6" stroke="#262626" stroke-width="1" fill="none"/>
<text x="473.00" y="600.00" textLength="15.20" lengthAdjust="spacingAndGlyphs" font-size="22.90" font-weight="bold" fill="#262626">0</text>
<path d="M464.00 648.20 h-2.6" stroke="#262626" stroke-width="1" fill="none"/>
<text x="473.00" y="655.80" textLength="23.20" lengthAdjust="spacingAndGlyphs" font-size="22.90" font-weight="bold" fill="#262626">-5</text>
<text x="108.30" y="731.20" textLength="399.10" lengthAdjust="spacingAndGlyphs" font-size="24.20" font-weight="bold" fill="#262626">SAT-RAP Negative Lifted Index</text>
<rect x="616.60" y="486.40" width="233.90" height="213.00" fill="#fff" stroke="#262626" stroke-width="1"/>
<g transform="translate(617.10,486.50) scale(1.0000)">
<g mask="url(#maskm)">
<rect x="85" y="-8" width="156" height="190" fill="#80ff80"/>
<ellipse cx="179.0" cy="117.5" rx="4.0" ry="4.0" fill="#b0ff40" filter="url(#b2)"/>
<ellipse cx="120.3" cy="112.2" rx="3.5" ry="2.5" fill="#a8f840" filter="url(#b1)"/>
<ellipse cx="94.7" cy="127.1" rx="2.0" ry="3.0" fill="#d0f040" filter="url(#b1)"/>
<ellipse cx="203.0" cy="134.8" rx="13.0" ry="4.5" fill="#b8f838" transform="rotate(8 203.0 134.8)" filter="url(#b2)"/>
<ellipse cx="215.0" cy="126.0" rx="10.0" ry="4.0" fill="#a0fc50" transform="rotate(15 215.0 126.0)" filter="url(#b2)"/>
<ellipse cx="211.0" cy="128.2" rx="3.0" ry="0.8" fill="#f05000" transform="rotate(8 211.0 128.2)"/>
<ellipse cx="209.0" cy="127.2" rx="3.5" ry="1.2" fill="#f0c000" transform="rotate(8 209.0 127.2)" filter="url(#b1)"/>
<ellipse cx="230.2" cy="144.2" rx="4.0" ry="4.0" fill="#fff000" filter="url(#b1)"/>
<ellipse cx="223.8" cy="125.0" rx="2.0" ry="0.8" fill="#ffb000"/>
<ellipse cx="226.0" cy="131.0" rx="2.0" ry="0.8" fill="#ffc000"/>
<ellipse cx="175.0" cy="149.5" rx="6.0" ry="3.0" fill="#c0f840" transform="rotate(25 175.0 149.5)" filter="url(#b1)"/>
<ellipse cx="173.7" cy="147.9" rx="2.5" ry="0.9" fill="#e8a000" transform="rotate(25 173.7 147.9)"/>
<ellipse cx="179.0" cy="153.8" rx="2.5" ry="0.9" fill="#e07000" transform="rotate(15 179.0 153.8)"/>
</g>
<ellipse cx="203.5" cy="105.5" rx="4.6" ry="3.6" fill="#fff" filter="url(#b1)"/>
<path d="M214 38.2 L221.5 38.2 L218 41.5 L215.5 45Z" fill="#fff"/>
<ellipse cx="152.5" cy="8.6" rx="0.9" ry="2.4" fill="#fff" transform="rotate(25 152.5 8.6)"/>
<ellipse cx="160" cy="14.4" rx="0.9" ry="2.0" fill="#fff" transform="rotate(-20 160 14.4)"/>
<ellipse cx="222.9" cy="117.5" rx="8.6" ry="6.4" fill="#fff" transform="rotate(35 222.9 117.5)"/>
<ellipse cx="222.9" cy="117.5" rx="4.4" ry="5.4" fill="#80ff80"/>
<use href="#usmap"/>
</g>
<text x="636.10" y="466.30" textLength="25.20" lengthAdjust="spacingAndGlyphs" font-size="12.60" font-weight="bold" fill="#262626">100</text>
<circle cx="665.60" cy="454.00" r="1.5" fill="none" stroke="#262626" stroke-width="0.75"/>
<text x="673.90" y="466.30" textLength="12.70" lengthAdjust="spacingAndGlyphs" font-size="12.60" font-weight="bold" fill="#262626">W</text>
<text x="704.90" y="466.30" textLength="16.20" lengthAdjust="spacingAndGlyphs" font-size="12.60" font-weight="bold" fill="#262626">90</text>
<circle cx="725.40" cy="454.00" r="1.5" fill="none" stroke="#262626" stroke-width="0.75"/>
<text x="733.70" y="466.30" textLength="12.70" lengthAdjust="spacingAndGlyphs" font-size="12.60" font-weight="bold" fill="#262626">W</text>
<text x="768.90" y="466.30" textLength="18.10" lengthAdjust="spacingAndGlyphs" font-size="12.60" font-weight="bold" fill="#262626">80</text>
<circle cx="791.30" cy="454.00" r="1.5" fill="none" stroke="#262626" stroke-width="0.75"/>
<text x="799.60" y="466.30" textLength="12.70" lengthAdjust="spacingAndGlyphs" font-size="12.60" font-weight="bold" fill="#262626">W</text>
<text x="832.20" y="466.30" textLength="16.80" lengthAdjust="spacingAndGlyphs" font-size="12.60" font-weight="bold" fill="#262626">70</text>
<circle cx="853.30" cy="454.00" r="1.5" fill="none" stroke="#262626" stroke-width="0.75"/>
<text x="861.60" y="466.30" textLength="12.70" lengthAdjust="spacingAndGlyphs" font-size="12.60" font-weight="bold" fill="#262626">W</text>
<text x="566.60" y="502.40" textLength="17.90" lengthAdjust="spacingAndGlyphs" font-size="12.60" font-weight="bold" fill="#262626">48</text>
<circle cx="588.50" cy="489.60" r="1.5" fill="none" stroke="#262626" stroke-width="0.75"/>
<text x="596.10" y="502.40" textLength="10.10" lengthAdjust="spacingAndGlyphs" font-size="12.60" font-weight="bold" fill="#262626">N</text>
<text x="566.60" y="520.70" textLength="17.90" lengthAdjust="spacingAndGlyphs" font-size="12.60" font-weight="bold" fill="#262626">46</text>
<circle cx="588.50" cy="507.90" r="1.5" fill="none" stroke="#262626" stroke-width="0.75"/>
<text x="596.10" y="520.70" textLength="10.10" lengthAdjust="spacingAndGlyphs" font-size="12.60" font-weight="bold" fill="#262626">N</text>
<text x="566.60" y="537.30" textLength="17.90" lengthAdjust="spacingAndGlyphs" font-size="12.60" font-weight="bold" fill="#262626">44</text>
<circle cx="588.50" cy="524.50" r="1.5" fill="none" stroke="#262626" stroke-width="0.75"/>
<text x="596.10" y="537.30" textLength="10.10" lengthAdjust="spacingAndGlyphs" font-size="12.60" font-weight="bold" fill="#262626">N</text>
<text x="566.60" y="556.10" textLength="17.90" lengthAdjust="spacingAndGlyphs" font-size="12.60" font-weight="bold" fill="#262626">42</text>
<circle cx="588.50" cy="543.30" r="1.5" fill="none" stroke="#262626" stroke-width="0.75"/>
<text x="596.10" y="556.10" textLength="10.10" lengthAdjust="spacingAndGlyphs" font-size="12.60" font-weight="bold" fill="#262626">N</text>
<text x="566.60" y="572.50" textLength="17.90" lengthAdjust="spacingAndGlyphs" font-size="12.60" font-weight="bold" fill="#262626">40</text>
<circle cx="588.50" cy="559.70" r="1.5" fill="none" stroke="#262626" stroke-width="0.75"/>
<text x="596.10" y="572.50" textLength="10.10" lengthAdjust="spacingAndGlyphs" font-size="12.60" font-weight="bold" fill="#262626">N</text>
<text x="566.60" y="587.00" textLength="17.90" lengthAdjust="spacingAndGlyphs" font-size="12.60" font-weight="bold" fill="#262626">38</text>
<circle cx="588.50" cy="574.20" r="1.5" fill="none" stroke="#262626" stroke-width="0.75"/>
<text x="596.10" y="587.00" textLength="10.10" lengthAdjust="spacingAndGlyphs" font-size="12.60" font-weight="bold" fill="#262626">N</text>
<text x="566.60" y="604.70" textLength="17.90" lengthAdjust="spacingAndGlyphs" font-size="12.60" font-weight="bold" fill="#262626">36</text>
<circle cx="588.50" cy="591.90" r="1.5" fill="none" stroke="#262626" stroke-width="0.75"/>
<text x="596.10" y="604.70" textLength="10.10" lengthAdjust="spacingAndGlyphs" font-size="12.60" font-weight="bold" fill="#262626">N</text>
<text x="566.60" y="618.90" textLength="17.90" lengthAdjust="spacingAndGlyphs" font-size="12.60" font-weight="bold" fill="#262626">34</text>
<circle cx="588.50" cy="606.10" r="1.5" fill="none" stroke="#262626" stroke-width="0.75"/>
<text x="596.10" y="618.90" textLength="10.10" lengthAdjust="spacingAndGlyphs" font-size="12.60" font-weight="bold" fill="#262626">N</text>
<text x="566.60" y="636.10" textLength="17.90" lengthAdjust="spacingAndGlyphs" font-size="12.60" font-weight="bold" fill="#262626">32</text>
<circle cx="588.50" cy="623.30" r="1.5" fill="none" stroke="#262626" stroke-width="0.75"/>
<text x="596.10" y="636.10" textLength="10.10" lengthAdjust="spacingAndGlyphs" font-size="12.60" font-weight="bold" fill="#262626">N</text>
<text x="566.60" y="649.70" textLength="17.90" lengthAdjust="spacingAndGlyphs" font-size="12.60" font-weight="bold" fill="#262626">30</text>
<circle cx="588.50" cy="636.90" r="1.5" fill="none" stroke="#262626" stroke-width="0.75"/>
<text x="596.10" y="649.70" textLength="10.10" lengthAdjust="spacingAndGlyphs" font-size="12.60" font-weight="bold" fill="#262626">N</text>
<text x="566.60" y="662.50" textLength="17.90" lengthAdjust="spacingAndGlyphs" font-size="12.60" font-weight="bold" fill="#262626">28</text>
<circle cx="588.50" cy="649.70" r="1.5" fill="none" stroke="#262626" stroke-width="0.75"/>
<text x="596.10" y="662.50" textLength="10.10" lengthAdjust="spacingAndGlyphs" font-size="12.60" font-weight="bold" fill="#262626">N</text>
<text x="566.60" y="677.80" textLength="17.90" lengthAdjust="spacingAndGlyphs" font-size="12.60" font-weight="bold" fill="#262626">26</text>
<circle cx="588.50" cy="665.00" r="1.5" fill="none" stroke="#262626" stroke-width="0.75"/>
<text x="596.10" y="677.80" textLength="10.10" lengthAdjust="spacingAndGlyphs" font-size="12.60" font-weight="bold" fill="#262626">N</text>
<text x="566.60" y="691.10" textLength="17.90" lengthAdjust="spacingAndGlyphs" font-size="12.60" font-weight="bold" fill="#262626">24</text>
<circle cx="588.50" cy="678.30" r="1.5" fill="none" stroke="#262626" stroke-width="0.75"/>
<text x="596.10" y="691.10" textLength="10.10" lengthAdjust="spacingAndGlyphs" font-size="12.60" font-weight="bold" fill="#262626">N</text>
<text x="566.60" y="704.20" textLength="17.90" lengthAdjust="spacingAndGlyphs" font-size="12.60" font-weight="bold" fill="#262626">22</text>
<circle cx="588.50" cy="691.40" r="1.5" fill="none" stroke="#262626" stroke-width="0.75"/>
<text x="596.10" y="704.20" textLength="10.10" lengthAdjust="spacingAndGlyphs" font-size="12.60" font-weight="bold" fill="#262626">N</text>
<rect x="862.80" y="483.50" width="22.30" height="218.40" fill="url(#jet)" stroke="#262626" stroke-width="1"/>
<path d="M885.10 515.50 h-2.6" stroke="#262626" stroke-width="1" fill="none"/>
<text x="894.40" y="523.10" textLength="57.10" lengthAdjust="spacingAndGlyphs" font-size="22.90" font-weight="bold" fill="#262626">1000</text>
<path d="M885.10 553.90 h-2.6" stroke="#262626" stroke-width="1" fill="none"/>
<text x="894.40" y="561.50" textLength="43.10" lengthAdjust="spacingAndGlyphs" font-size="22.90" font-weight="bold" fill="#262626">500</text>
<path d="M885.10 592.40 h-2.6" stroke="#262626" stroke-width="1" fill="none"/>
<text x="894.40" y="600.00" textLength="14.60" lengthAdjust="spacingAndGlyphs" font-size="22.90" font-weight="bold" fill="#262626">0</text>
<path d="M885.10 631.10 h-2.6" stroke="#262626" stroke-width="1" fill="none"/>
<text x="894.40" y="638.70" textLength="51.40" lengthAdjust="spacingAndGlyphs" font-size="22.90" font-weight="bold" fill="#262626">-500</text>
<path d="M885.10 670.20 h-2.6" stroke="#262626" stroke-width="1" fill="none"/>
<text x="894.40" y="677.80" textLength="65.60" lengthAdjust="spacingAndGlyphs" font-size="22.90" font-weight="bold" fill="#262626">-1000</text>
<text x="634.80" y="731.20" textLength="187.00" lengthAdjust="spacingAndGlyphs" font-size="24.20" font-weight="bold" fill="#262626">SAT-RAP CAPE</text>
<rect x="1037.00" y="485.40" width="235.60" height="214.90" fill="#fff" stroke="#262626" stroke-width="1"/>
<g transform="translate(1037.90,485.40) scale(1.0075)">
<g mask="url(#maskm)">
<rect x="85" y="-8" width="156" height="190" fill="url(#g6)"/>
<path d="M206 62 L214 66 L240 50 L240 185 L160 185 L160 142 L186 124 L196 100 L200 80Z" fill="url(#g6o)" filter="url(#b2)"/>
<ellipse cx="118.5" cy="7.7" rx="6.0" ry="4.0" fill="#50f0a0" filter="url(#b2)"/>
<ellipse cx="110.0" cy="1.4" rx="4.0" ry="4.0" fill="#2090ff" filter="url(#b1)"/>
<ellipse cx="231.0" cy="18.0" rx="8.0" ry="22.0" fill="#00e4ff" filter="url(#b4)"/>
<ellipse cx="160.0" cy="8.0" rx="30.0" ry="9.0" fill="#1e84ff" filter="url(#b4)"/>
<ellipse cx="185.0" cy="22.0" rx="14.0" ry="9.0" fill="#1890ff" filter="url(#b4)"/>
<ellipse cx="196.0" cy="52.0" rx="12.0" ry="8.0" fill="#30f0c0" filter="url(#b4)"/>
<ellipse cx="150.0" cy="129.0" rx="8.0" ry="6.0" fill="#e0f020" filter="url(#b2)"/>
<ellipse cx="127.0" cy="112.5" rx="11.0" ry="5.0" fill="#f8e800"/>
<ellipse cx="224.0" cy="97.0" rx="14.0" ry="5.0" fill="#ffa810" filter="url(#b2)"/>
</g>
<ellipse cx="203.5" cy="105.5" rx="4.6" ry="3.6" fill="#fff" filter="url(#b1)"/>
<path d="M214 38.2 L221.5 38.2 L218 41.5 L215.5 45Z" fill="#fff"/>
<ellipse cx="152.5" cy="8.6" rx="0.9" ry="2.4" fill="#fff" transform="rotate(25 152.5 8.6)"/>
<ellipse cx="160" cy="14.4" rx="0.9" ry="2.0" fill="#fff" transform="rotate(-20 160 14.4)"/>
<ellipse cx="222.9" cy="117.5" rx="8.6" ry="6.4" fill="#fff" transform="rotate(35 222.9 117.5)"/>
<ellipse cx="222.9" cy="117.5" rx="4.4" ry="5.6" fill="#ffa010"/>
<use href="#usmap"/>
</g>
<text x="1059.10" y="464.20" textLength="25.40" lengthAdjust="spacingAndGlyphs" font-size="12.60" font-weight="bold" fill="#262626">100</text>
<circle cx="1088.80" cy="451.90" r="1.5" fill="none" stroke="#262626" stroke-width="0.75"/>
<text x="1097.10" y="464.20" textLength="12.70" lengthAdjust="spacingAndGlyphs" font-size="12.60" font-weight="bold" fill="#262626">W</text>
<text x="1127.10" y="464.20" textLength="18.30" lengthAdjust="spacingAndGlyphs" font-size="12.60" font-weight="bold" fill="#262626">90</text>
<circle cx="1149.70" cy="451.90" r="1.5" fill="none" stroke="#262626" stroke-width="0.75"/>
<text x="1158.00" y="464.20" textLength="12.70" lengthAdjust="spacingAndGlyphs" font-size="12.60" font-weight="bold" fill="#262626">W</text>
<text x="1190.30" y="464.20" textLength="17.50" lengthAdjust="spacingAndGlyphs" font-size="12.60" font-weight="bold" fill="#262626">80</text>
<circle cx="1212.10" cy="451.90" r="1.5" fill="none" stroke="#262626" stroke-width="0.75"/>
<text x="1220.40" y="464.20" textLength="12.70" lengthAdjust="spacingAndGlyphs" font-size="12.60" font-weight="bold" fill="#262626">W</text>
<text x="1255.50" y="464.20" textLength="16.40" lengthAdjust="spacingAndGlyphs" font-size="12.60" font-weight="bold" fill="#262626">70</text>
<circle cx="1276.20" cy="451.90" r="1.5" fill="none" stroke="#262626" stroke-width="0.75"/>
<text x="1284.50" y="464.20" textLength="12.70" lengthAdjust="spacingAndGlyphs" font-size="12.60" font-weight="bold" fill="#262626">W</text>
<text x="988.60" y="502.40" textLength="16.30" lengthAdjust="spacingAndGlyphs" font-size="12.60" font-weight="bold" fill="#262626">48</text>
<circle cx="1009.30" cy="489.60" r="1.5" fill="none" stroke="#262626" stroke-width="0.75"/>
<text x="1016.90" y="502.40" textLength="10.10" lengthAdjust="spacingAndGlyphs" font-size="12.60" font-weight="bold" fill="#262626">N</text>
<text x="988.60" y="520.70" textLength="16.30" lengthAdjust="spacingAndGlyphs" font-size="12.60" font-weight="bold" fill="#262626">46</text>
<circle cx="1009.30" cy="507.90" r="1.5" fill="none" stroke="#262626" stroke-width="0.75"/>
<text x="1016.90" y="520.70" textLength="10.10" lengthAdjust="spacingAndGlyphs" font-size="12.60" font-weight="bold" fill="#262626">N</text>
<text x="988.60" y="537.30" textLength="16.30" lengthAdjust="spacingAndGlyphs" font-size="12.60" font-weight="bold" fill="#262626">44</text>
<circle cx="1009.30" cy="524.50" r="1.5" fill="none" stroke="#262626" stroke-width="0.75"/>
<text x="1016.90" y="537.30" textLength="10.10" lengthAdjust="spacingAndGlyphs" font-size="12.60" font-weight="bold" fill="#262626">N</text>
<text x="988.60" y="556.10" textLength="16.30" lengthAdjust="spacingAndGlyphs" font-size="12.60" font-weight="bold" fill="#262626">42</text>
<circle cx="1009.30" cy="543.30" r="1.5" fill="none" stroke="#262626" stroke-width="0.75"/>
<text x="1016.90" y="556.10" textLength="10.10" lengthAdjust="spacingAndGlyphs" font-size="12.60" font-weight="bold" fill="#262626">N</text>
<text x="988.60" y="572.50" textLength="16.30" lengthAdjust="spacingAndGlyphs" font-size="12.60" font-weight="bold" fill="#262626">40</text>
<circle cx="1009.30" cy="559.70" r="1.5" fill="none" stroke="#262626" stroke-width="0.75"/>
<text x="1016.90" y="572.50" textLength="10.10" lengthAdjust="spacingAndGlyphs" font-size="12.60" font-weight="bold" fill="#262626">N</text>
<text x="988.60" y="587.00" textLength="16.30" lengthAdjust="spacingAndGlyphs" font-size="12.60" font-weight="bold" fill="#262626">38</text>
<circle cx="1009.30" cy="574.20" r="1.5" fill="none" stroke="#262626" stroke-width="0.75"/>
<text x="1016.90" y="587.00" textLength="10.10" lengthAdjust="spacingAndGlyphs" font-size="12.60" font-weight="bold" fill="#262626">N</text>
<text x="988.60" y="604.70" textLength="16.30" lengthAdjust="spacingAndGlyphs" font-size="12.60" font-weight="bold" fill="#262626">36</text>
<circle cx="1009.30" cy="591.90" r="1.5" fill="none" stroke="#262626" stroke-width="0.75"/>
<text x="1016.90" y="604.70" textLength="10.10" lengthAdjust="spacingAndGlyphs" font-size="12.60" font-weight="bold" fill="#262626">N</text>
<text x="988.60" y="618.90" textLength="16.30" lengthAdjust="spacingAndGlyphs" font-size="12.60" font-weight="bold" fill="#262626">34</text>
<circle cx="1009.30" cy="606.10" r="1.5" fill="none" stroke="#262626" stroke-width="0.75"/>
<text x="1016.90" y="618.90" textLength="10.10" lengthAdjust="spacingAndGlyphs" font-size="12.60" font-weight="bold" fill="#262626">N</text>
<text x="988.60" y="636.10" textLength="16.30" lengthAdjust="spacingAndGlyphs" font-size="12.60" font-weight="bold" fill="#262626">32</text>
<circle cx="1009.30" cy="623.30" r="1.5" fill="none" stroke="#262626" stroke-width="0.75"/>
<text x="1016.90" y="636.10" textLength="10.10" lengthAdjust="spacingAndGlyphs" font-size="12.60" font-weight="bold" fill="#262626">N</text>
<text x="988.60" y="649.70" textLength="16.30" lengthAdjust="spacingAndGlyphs" font-size="12.60" font-weight="bold" fill="#262626">30</text>
<circle cx="1009.30" cy="636.90" r="1.5" fill="none" stroke="#262626" stroke-width="0.75"/>
<text x="1016.90" y="649.70" textLength="10.10" lengthAdjust="spacingAndGlyphs" font-size="12.60" font-weight="bold" fill="#262626">N</text>
<text x="988.60" y="664.70" textLength="16.30" lengthAdjust="spacingAndGlyphs" font-size="12.60" font-weight="bold" fill="#262626">28</text>
<circle cx="1009.30" cy="651.90" r="1.5" fill="none" stroke="#262626" stroke-width="0.75"/>
<text x="1016.90" y="664.70" textLength="10.10" lengthAdjust="spacingAndGlyphs" font-size="12.60" font-weight="bold" fill="#262626">N</text>
<text x="988.60" y="678.90" textLength="16.30" lengthAdjust="spacingAndGlyphs" font-size="12.60" font-weight="bold" fill="#262626">26</text>
<circle cx="1009.30" cy="666.10" r="1.5" fill="none" stroke="#262626" stroke-width="0.75"/>
<text x="1016.90" y="678.90" textLength="10.10" lengthAdjust="spacingAndGlyphs" font-size="12.60" font-weight="bold" fill="#262626">N</text>
<text x="988.60" y="691.10" textLength="16.30" lengthAdjust="spacingAndGlyphs" font-size="12.60" font-weight="bold" fill="#262626">24</text>
<circle cx="1009.30" cy="678.30" r="1.5" fill="none" stroke="#262626" stroke-width="0.75"/>
<text x="1016.90" y="691.10" textLength="10.10" lengthAdjust="spacingAndGlyphs" font-size="12.60" font-weight="bold" fill="#262626">N</text>
<text x="988.60" y="706.10" textLength="16.30" lengthAdjust="spacingAndGlyphs" font-size="12.60" font-weight="bold" fill="#262626">22</text>
<circle cx="1009.30" cy="693.30" r="1.5" fill="none" stroke="#262626" stroke-width="0.75"/>
<text x="1016.90" y="706.10" textLength="10.10" lengthAdjust="spacingAndGlyphs" font-size="12.60" font-weight="bold" fill="#262626">N</text>
<rect x="1285.60" y="483.50" width="22.70" height="218.40" fill="url(#jet)" stroke="#262626" stroke-width="1"/>
<path d="M1308.30 494.90 h-2.6" stroke="#262626" stroke-width="1" fill="none"/>
<text x="1317.00" y="502.50" textLength="43.90" lengthAdjust="spacingAndGlyphs" font-size="22.90" font-weight="bold" fill="#262626">320</text>
<path d="M1308.30 535.70 h-2.6" stroke="#262626" stroke-width="1" fill="none"/>
<text x="1317.00" y="543.30" textLength="43.90" lengthAdjust="spacingAndGlyphs" font-size="22.90" font-weight="bold" fill="#262626">300</text>
<path d="M1308.30 576.20 h-2.6" stroke="#262626" stroke-width="1" fill="none"/>
<text x="1317.00" y="583.80" textLength="43.90" lengthAdjust="spacingAndGlyphs" font-size="22.90" font-weight="bold" fill="#262626">280</text>
<path d="M1308.30 616.60 h-2.6" stroke="#262626" stroke-width="1" fill="none"/>
<text x="1317.00" y="624.20" textLength="43.90" lengthAdjust="spacingAndGlyphs" font-size="22.90" font-weight="bold" fill="#262626">260</text>
<path d="M1308.30 656.80 h-2.6" stroke="#262626" stroke-width="1" fill="none"/>
<text x="1317.00" y="664.40" textLength="43.90" lengthAdjust="spacingAndGlyphs" font-size="22.90" font-weight="bold" fill="#262626">240</text>
<path d="M1308.30 697.30 h-2.6" stroke="#262626" stroke-width="1" fill="none"/>
<text x="1317.00" y="704.90" textLength="43.90" lengthAdjust="spacingAndGlyphs" font-size="22.90" font-weight="bold" fill="#262626">220</text>
<text x="958.50" y="732.10" textLength="384.40" lengthAdjust="spacingAndGlyphs" font-size="24.20" font-weight="bold" fill="#262626">Surface Skin Temperature (K)</text>
</svg></body></html>
